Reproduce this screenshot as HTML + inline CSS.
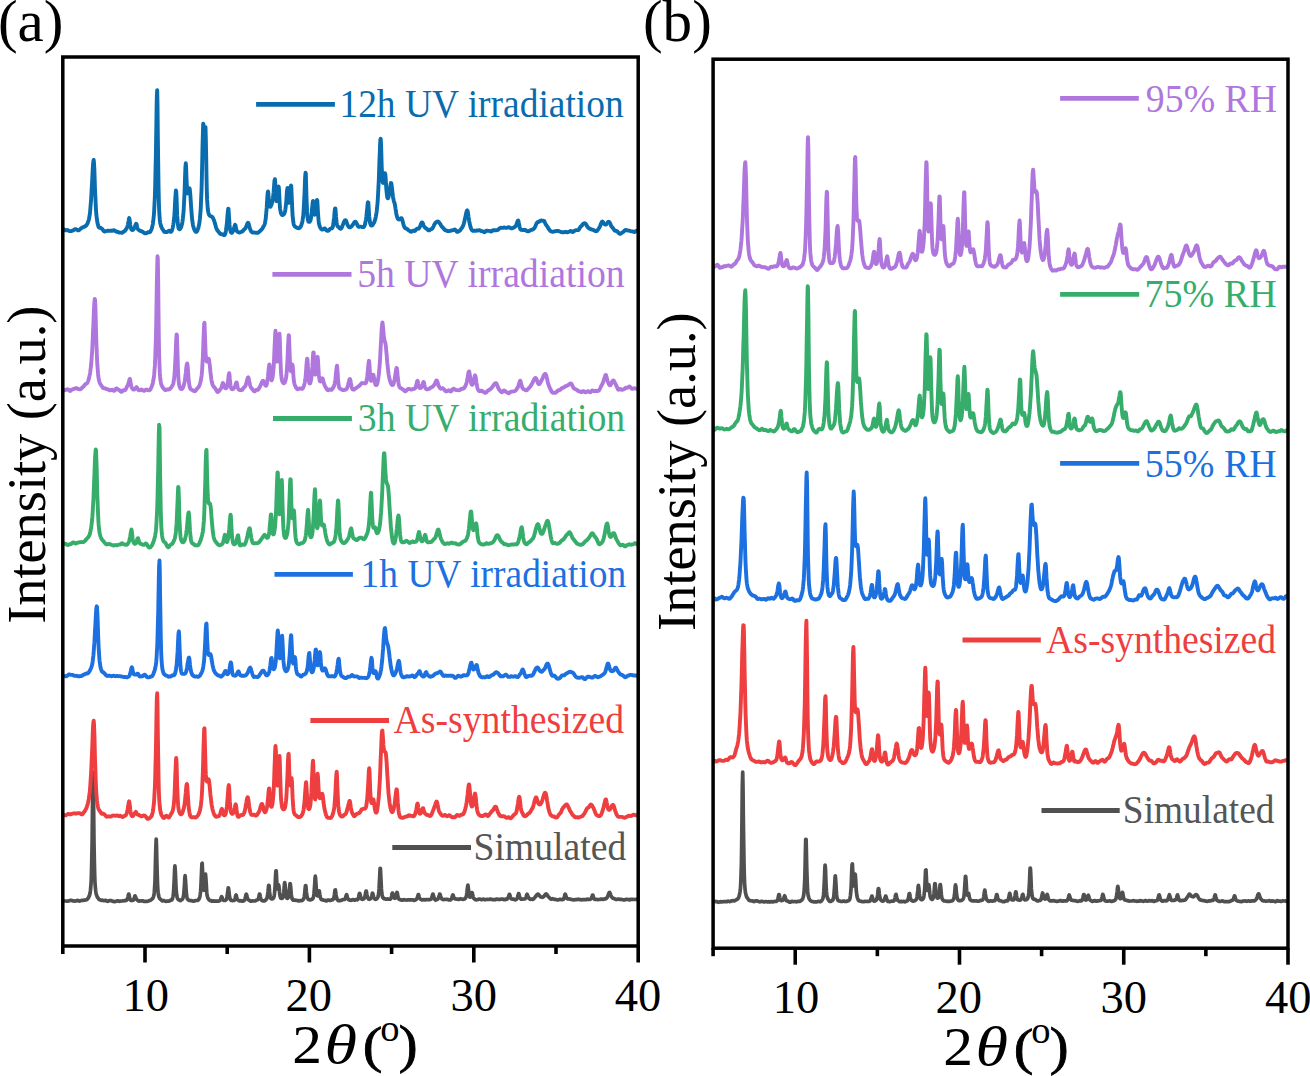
<!DOCTYPE html>
<html><head><meta charset="utf-8"><title>PXRD patterns: (a) UV irradiation, (b) relative humidity</title>
<style>html,body{margin:0;padding:0;background:#fff;overflow:hidden}svg{display:block}</style>
</head><body>
<svg width="1310" height="1076" viewBox="0 0 1310 1076" font-family="'Liberation Serif','Times New Roman',serif">
<rect width="1310" height="1076" fill="#fff"/>
<path d="M62.8,901.2 63.1,901.3 63.5,901.2 63.8,901.1 64.1,901.0 64.4,901.0 64.8,901.0 65.1,901.0 65.4,901.0 65.8,901.0 66.1,901.1 66.4,901.1 66.7,901.1 67.1,901.1 67.4,901.1 67.7,901.1 68.1,901.1 68.4,901.0 68.7,901.0 69.0,900.8 69.4,900.7 69.7,900.6 70.0,900.5 70.4,900.4 70.7,900.4 71.0,900.3 71.3,900.4 71.7,900.4 72.0,900.5 72.3,900.7 72.7,900.8 73.0,900.9 73.3,900.9 73.7,901.0 74.0,901.0 74.3,901.1 74.6,901.1 75.0,901.0 75.3,901.0 75.6,900.9 76.0,900.9 76.3,900.8 76.6,900.7 76.9,900.6 77.3,900.5 77.6,900.4 77.9,900.4 78.3,900.6 78.6,900.7 78.9,900.9 79.2,901.0 79.6,901.1 79.9,901.0 80.2,900.9 80.6,900.8 80.9,900.7 81.2,900.6 81.5,900.5 81.9,900.4 82.2,900.4 82.5,900.4 82.9,900.4 83.2,900.3 83.5,900.3 83.8,900.2 84.2,900.2 84.5,900.1 84.8,900.1 85.2,900.0 85.5,900.0 85.8,899.9 86.1,899.8 86.5,899.7 86.8,899.6 87.1,899.4 87.5,899.0 87.8,898.6 88.1,898.2 88.4,897.7 88.8,897.0 89.1,896.3 89.4,895.5 89.8,894.4 90.1,892.9 90.4,890.8 90.7,887.7 91.1,883.0 91.4,875.3 91.7,862.7 92.1,843.0 92.4,815.6 92.7,786.3 93.0,772.2 93.4,786.3 93.7,815.6 94.0,843.0 94.4,862.7 94.7,875.4 95.0,883.1 95.4,887.8 95.7,890.8 96.0,892.8 96.3,894.3 96.7,895.4 97.0,896.2 97.3,896.9 97.7,897.5 98.0,898.0 98.3,898.4 98.6,898.9 99.0,899.2 99.3,899.5 99.6,899.7 100.0,899.8 100.3,899.9 100.6,900.0 100.9,900.2 101.3,900.3 101.6,900.3 101.9,900.3 102.3,900.2 102.6,900.2 102.9,900.3 103.2,900.4 103.6,900.6 103.9,900.7 104.2,900.7 104.6,900.7 104.9,900.6 105.2,900.4 105.5,900.4 105.9,900.4 106.2,900.6 106.5,900.8 106.9,901.0 107.2,901.2 107.5,901.3 107.8,901.2 108.2,901.1 108.5,900.9 108.8,900.8 109.2,900.6 109.5,900.6 109.8,900.6 110.1,900.6 110.5,900.7 110.8,900.7 111.1,900.7 111.5,900.7 111.8,900.9 112.1,901.0 112.4,901.1 112.8,901.2 113.1,901.2 113.4,901.4 113.8,901.5 114.1,901.7 114.4,901.7 114.8,901.6 115.1,901.5 115.4,901.4 115.7,901.3 116.1,901.3 116.4,901.2 116.7,901.1 117.1,901.0 117.4,900.9 117.7,900.8 118.0,900.9 118.4,901.0 118.7,901.1 119.0,901.2 119.4,901.3 119.7,901.3 120.0,901.2 120.3,901.1 120.7,901.0 121.0,901.0 121.3,901.0 121.7,901.0 122.0,901.0 122.3,901.0 122.6,900.9 123.0,900.9 123.3,900.8 123.6,900.8 124.0,900.7 124.3,900.7 124.6,900.7 124.9,900.6 125.3,900.6 125.6,900.6 125.9,900.5 126.3,900.4 126.6,900.1 126.9,899.8 127.2,899.3 127.6,898.4 127.9,897.1 128.2,895.5 128.6,894.2 128.9,894.2 129.2,895.6 129.5,897.4 129.9,898.7 130.2,899.6 130.5,900.2 130.9,900.4 131.2,900.5 131.5,900.6 131.8,900.5 132.2,900.5 132.5,900.4 132.8,900.3 133.2,900.2 133.5,899.9 133.8,899.4 134.1,898.4 134.5,897.1 134.8,896.0 135.1,895.9 135.5,896.8 135.8,897.9 136.1,898.7 136.5,899.3 136.8,899.7 137.1,899.9 137.4,900.1 137.8,900.3 138.1,900.6 138.4,900.9 138.8,901.1 139.1,901.2 139.4,901.1 139.7,901.0 140.1,900.9 140.4,900.9 140.7,901.0 141.1,901.0 141.4,901.0 141.7,900.9 142.0,900.8 142.4,900.8 142.7,900.8 143.0,901.0 143.4,901.1 143.7,901.3 144.0,901.4 144.3,901.4 144.7,901.4 145.0,901.4 145.3,901.4 145.7,901.4 146.0,901.4 146.3,901.4 146.6,901.4 147.0,901.4 147.3,901.3 147.6,901.2 148.0,901.1 148.3,901.0 148.6,900.9 148.9,900.8 149.3,900.7 149.6,900.5 149.9,900.4 150.3,900.3 150.6,900.2 150.9,900.0 151.2,899.8 151.6,899.5 151.9,899.1 152.2,898.8 152.6,898.5 152.9,898.1 153.2,897.5 153.5,896.6 153.9,895.2 154.2,893.0 154.5,889.2 154.9,883.1 155.2,873.4 155.5,860.1 155.9,845.9 156.2,839.0 156.5,845.9 156.8,860.1 157.2,873.4 157.5,883.0 157.8,889.1 158.2,892.8 158.5,895.0 158.8,896.4 159.1,897.4 159.5,898.1 159.8,898.6 160.1,899.0 160.5,899.3 160.8,899.5 161.1,899.8 161.4,900.1 161.8,900.4 162.1,900.7 162.4,900.9 162.8,900.9 163.1,900.8 163.4,900.7 163.7,900.6 164.1,900.6 164.4,900.7 164.7,900.9 165.1,901.1 165.4,901.2 165.7,901.3 166.0,901.4 166.4,901.3 166.7,901.2 167.0,901.1 167.4,901.0 167.7,901.0 168.0,901.0 168.3,901.1 168.7,901.1 169.0,901.1 169.3,901.0 169.7,900.8 170.0,900.5 170.3,900.3 170.6,900.2 171.0,900.2 171.3,900.2 171.6,900.0 172.0,899.7 172.3,899.1 172.6,898.2 172.9,896.8 173.3,894.7 173.6,891.1 173.9,885.6 174.3,878.0 174.6,869.8 174.9,865.8 175.2,869.5 175.6,877.4 175.9,884.9 176.2,890.3 176.6,893.9 176.9,896.2 177.2,897.6 177.6,898.6 177.9,899.1 178.2,899.4 178.5,899.6 178.9,899.8 179.2,900.0 179.5,900.3 179.9,900.6 180.2,900.6 180.5,900.4 180.8,900.2 181.2,900.0 181.5,899.8 181.8,899.7 182.2,899.5 182.5,899.1 182.8,898.5 183.1,897.5 183.5,896.0 183.8,893.6 184.1,889.7 184.5,884.3 184.8,878.5 185.1,875.7 185.4,878.6 185.8,884.4 186.1,889.8 186.4,893.8 186.8,896.4 187.1,898.0 187.4,898.9 187.7,899.5 188.1,899.8 188.4,900.0 188.7,900.1 189.1,900.3 189.4,900.4 189.7,900.5 190.0,900.5 190.4,900.6 190.7,900.6 191.0,900.7 191.4,900.7 191.7,900.7 192.0,900.8 192.3,900.9 192.7,901.0 193.0,901.1 193.3,901.2 193.7,901.2 194.0,901.1 194.3,901.0 194.6,900.8 195.0,900.7 195.3,900.6 195.6,900.6 196.0,900.5 196.3,900.5 196.6,900.5 197.0,900.5 197.3,900.5 197.6,900.5 197.9,900.3 198.3,900.0 198.6,899.6 198.9,899.1 199.3,898.5 199.6,897.6 199.9,896.4 200.2,894.5 200.6,891.4 200.9,886.6 201.2,879.5 201.6,870.7 201.9,863.5 202.2,863.3 202.5,870.2 202.9,878.5 203.2,885.0 203.5,888.8 203.9,890.3 204.2,889.5 204.5,886.6 204.8,881.8 205.2,876.4 205.5,874.0 205.8,877.1 206.2,883.1 206.5,888.7 206.8,892.7 207.1,895.2 207.5,896.8 207.8,897.8 208.1,898.5 208.5,899.1 208.8,899.5 209.1,899.9 209.4,900.2 209.8,900.4 210.1,900.5 210.4,900.5 210.8,900.6 211.1,900.7 211.4,900.9 211.7,901.1 212.1,901.1 212.4,901.1 212.7,901.0 213.1,900.9 213.4,900.8 213.7,900.9 214.0,901.1 214.4,901.2 214.7,901.2 215.0,901.1 215.4,901.0 215.7,901.0 216.0,901.0 216.3,901.1 216.7,901.2 217.0,901.2 217.3,901.2 217.7,901.2 218.0,901.2 218.3,901.2 218.7,901.1 219.0,901.0 219.3,900.8 219.6,900.6 220.0,900.3 220.3,899.9 220.6,899.2 221.0,898.2 221.3,897.2 221.6,896.6 221.9,897.0 222.3,898.0 222.6,898.9 222.9,899.6 223.3,900.1 223.6,900.3 223.9,900.4 224.2,900.5 224.6,900.5 224.9,900.5 225.2,900.4 225.6,900.2 225.9,900.0 226.2,899.6 226.5,899.0 226.9,897.9 227.2,896.1 227.5,893.4 227.9,890.3 228.2,887.8 228.5,887.9 228.8,890.5 229.2,893.8 229.5,896.4 229.8,898.1 230.2,899.2 230.5,899.8 230.8,900.1 231.1,900.3 231.5,900.5 231.8,900.5 232.1,900.6 232.5,900.6 232.8,900.6 233.1,900.5 233.4,900.4 233.8,900.4 234.1,900.4 234.4,900.1 234.8,899.5 235.1,898.5 235.4,897.1 235.7,895.6 236.1,895.0 236.4,895.7 236.7,897.2 237.1,898.5 237.4,899.4 237.7,899.9 238.1,900.1 238.4,900.3 238.7,900.5 239.0,900.7 239.4,900.9 239.7,901.0 240.0,900.9 240.4,900.8 240.7,900.7 241.0,900.7 241.3,900.8 241.7,900.9 242.0,901.1 242.3,901.2 242.7,901.2 243.0,901.1 243.3,901.0 243.6,900.8 244.0,900.7 244.3,900.4 244.6,899.9 245.0,899.2 245.3,898.0 245.6,896.5 245.9,894.9 246.3,894.1 246.6,894.8 246.9,896.3 247.3,897.7 247.6,898.7 247.9,899.3 248.2,899.7 248.6,899.9 248.9,900.1 249.2,900.2 249.6,900.5 249.9,900.7 250.2,901.0 250.5,901.1 250.9,901.2 251.2,901.2 251.5,901.1 251.9,900.9 252.2,900.8 252.5,900.8 252.8,900.9 253.2,901.0 253.5,901.0 253.8,901.0 254.2,901.0 254.5,901.0 254.8,901.0 255.1,900.9 255.5,900.8 255.8,900.6 256.1,900.4 256.5,900.2 256.8,900.0 257.1,899.9 257.4,899.8 257.8,899.7 258.1,899.4 258.4,898.6 258.8,897.2 259.1,895.5 259.4,894.1 259.8,894.1 260.1,895.5 260.4,897.1 260.7,898.4 261.1,899.3 261.4,899.9 261.7,900.4 262.1,900.6 262.4,900.7 262.7,900.8 263.0,900.8 263.4,900.8 263.7,900.8 264.0,900.9 264.4,900.9 264.7,900.8 265.0,900.6 265.3,900.3 265.7,899.9 266.0,899.6 266.3,899.2 266.7,898.7 267.0,898.0 267.3,896.7 267.6,894.8 268.0,891.9 268.3,888.4 268.6,885.4 269.0,885.4 269.3,888.3 269.6,891.9 269.9,894.7 270.3,896.6 270.6,897.8 270.9,898.5 271.3,898.8 271.6,899.0 271.9,899.0 272.2,898.9 272.6,898.8 272.9,898.6 273.2,898.3 273.6,897.8 273.9,897.1 274.2,895.8 274.5,893.4 274.9,889.5 275.2,883.8 275.5,876.7 275.9,870.9 276.2,870.8 276.5,876.2 276.8,882.6 277.2,887.0 277.5,888.9 277.8,888.5 278.2,886.6 278.5,884.9 278.8,885.6 279.2,888.5 279.5,891.9 279.8,894.5 280.1,896.3 280.5,897.5 280.8,898.1 281.1,898.3 281.5,898.4 281.8,898.4 282.1,898.3 282.4,898.1 282.8,897.6 283.1,896.6 283.4,894.9 283.8,892.2 284.1,888.5 284.4,884.5 284.7,882.6 285.1,884.6 285.4,888.6 285.7,892.3 286.1,895.0 286.4,896.7 286.7,897.7 287.0,898.2 287.4,898.4 287.7,898.3 288.0,898.0 288.4,897.2 288.7,895.9 289.0,893.8 289.3,890.8 289.7,886.9 290.0,883.7 290.3,883.8 290.7,887.1 291.0,891.2 291.3,894.5 291.6,896.7 292.0,898.2 292.3,899.1 292.6,899.6 293.0,900.0 293.3,900.2 293.6,900.2 293.9,900.2 294.3,900.2 294.6,900.2 294.9,900.2 295.3,900.2 295.6,900.3 295.9,900.3 296.2,900.3 296.6,900.3 296.9,900.4 297.2,900.5 297.6,900.6 297.9,900.7 298.2,900.8 298.5,900.9 298.9,900.9 299.2,900.8 299.5,900.7 299.9,900.6 300.2,900.6 300.5,900.7 300.9,900.7 301.2,900.7 301.5,900.7 301.8,900.5 302.2,900.4 302.5,900.1 302.8,899.9 303.2,899.6 303.5,899.1 303.8,898.4 304.1,897.1 304.5,895.1 304.8,892.1 305.1,888.5 305.5,885.5 305.8,885.5 306.1,888.4 306.4,891.9 306.8,894.7 307.1,896.7 307.4,897.9 307.8,898.6 308.1,899.1 308.4,899.4 308.7,899.5 309.1,899.6 309.4,899.7 309.7,899.9 310.1,899.9 310.4,899.9 310.7,899.8 311.0,899.6 311.4,899.5 311.7,899.4 312.0,899.2 312.4,899.0 312.7,898.7 313.0,898.2 313.3,897.2 313.7,895.7 314.0,893.2 314.3,889.4 314.7,884.3 315.0,878.8 315.3,876.1 315.6,878.7 316.0,884.1 316.3,889.1 316.6,892.7 317.0,894.8 317.3,895.8 317.6,895.9 317.9,895.2 318.3,893.9 318.6,892.1 318.9,890.8 319.3,891.0 319.6,892.9 319.9,895.1 320.3,896.9 320.6,898.1 320.9,898.9 321.2,899.4 321.6,899.6 321.9,899.8 322.2,899.8 322.6,899.8 322.9,899.9 323.2,900.1 323.5,900.2 323.9,900.3 324.2,900.3 324.5,900.3 324.9,900.3 325.2,900.4 325.5,900.6 325.8,900.8 326.2,900.9 326.5,900.9 326.8,900.7 327.2,900.5 327.5,900.2 327.8,900.1 328.1,900.0 328.5,900.0 328.8,900.1 329.1,900.3 329.5,900.4 329.8,900.5 330.1,900.5 330.4,900.4 330.8,900.3 331.1,900.2 331.4,900.0 331.8,899.9 332.1,899.7 332.4,899.7 332.7,899.7 333.1,899.5 333.4,899.1 333.7,898.2 334.1,896.8 334.4,894.8 334.7,892.2 335.0,890.1 335.4,890.0 335.7,892.0 336.0,894.5 336.4,896.6 336.7,898.1 337.0,899.1 337.3,899.7 337.7,900.2 338.0,900.4 338.3,900.6 338.7,900.6 339.0,900.7 339.3,900.7 339.6,900.7 340.0,900.7 340.3,900.6 340.6,900.5 341.0,900.4 341.3,900.3 341.6,900.1 342.0,900.0 342.3,899.9 342.6,899.7 342.9,899.6 343.3,899.5 343.6,899.5 343.9,899.5 344.3,899.5 344.6,899.4 344.9,899.1 345.2,898.7 345.6,897.9 345.9,896.8 346.2,895.4 346.6,894.7 346.9,895.3 347.2,896.6 347.5,897.8 347.9,898.7 348.2,899.2 348.5,899.6 348.9,899.8 349.2,900.0 349.5,900.1 349.8,900.2 350.2,900.2 350.5,900.2 350.8,900.3 351.2,900.3 351.5,900.2 351.8,900.1 352.1,899.9 352.5,899.8 352.8,899.7 353.1,899.7 353.5,899.7 353.8,899.8 354.1,900.0 354.4,900.1 354.8,900.2 355.1,900.1 355.4,899.9 355.8,899.7 356.1,899.6 356.4,899.6 356.7,899.7 357.1,899.8 357.4,899.8 357.7,899.5 358.1,899.1 358.4,898.2 358.7,896.9 359.0,895.1 359.4,893.6 359.7,893.4 360.0,894.6 360.4,896.0 360.7,897.3 361.0,898.2 361.4,898.7 361.7,899.1 362.0,899.2 362.3,899.3 362.7,899.3 363.0,899.2 363.3,899.1 363.7,898.9 364.0,898.6 364.3,898.2 364.6,897.4 365.0,896.3 365.3,894.6 365.6,892.7 366.0,891.1 366.3,891.1 366.6,892.6 366.9,894.6 367.3,896.2 367.6,897.3 367.9,898.2 368.3,898.7 368.6,899.1 368.9,899.2 369.2,899.3 369.6,899.2 369.9,899.0 370.2,898.8 370.6,898.6 370.9,898.3 371.2,897.7 371.5,896.8 371.9,895.4 372.2,893.8 372.5,893.1 372.9,893.7 373.2,895.2 373.5,896.5 373.8,897.5 374.2,898.2 374.5,898.6 374.8,898.9 375.2,899.2 375.5,899.3 375.8,899.3 376.1,899.2 376.5,899.0 376.8,898.7 377.1,898.4 377.5,898.0 377.8,897.4 378.1,896.4 378.4,894.9 378.8,892.3 379.1,888.2 379.4,882.1 379.8,874.5 380.1,868.3 380.4,868.3 380.7,874.4 381.1,882.0 381.4,888.2 381.7,892.3 382.1,894.9 382.4,896.4 382.7,897.3 383.1,897.8 383.4,898.1 383.7,898.4 384.0,898.6 384.4,898.7 384.7,898.8 385.0,898.8 385.4,898.9 385.7,899.0 386.0,899.2 386.3,899.2 386.7,899.1 387.0,899.0 387.3,898.9 387.7,899.0 388.0,899.1 388.3,899.2 388.6,899.2 389.0,899.2 389.3,899.2 389.6,899.1 390.0,899.1 390.3,899.1 390.6,898.9 390.9,898.4 391.3,897.5 391.6,896.1 391.9,894.4 392.3,893.1 392.6,893.1 392.9,894.4 393.2,895.9 393.6,897.0 393.9,897.6 394.2,898.0 394.6,898.2 394.9,898.3 395.2,898.2 395.5,897.7 395.9,896.8 396.2,895.4 396.5,893.7 396.9,892.5 397.2,892.6 397.5,894.2 397.8,896.1 398.2,897.5 398.5,898.4 398.8,899.0 399.2,899.2 399.5,899.4 399.8,899.6 400.1,899.7 400.5,899.8 400.8,899.9 401.1,899.9 401.5,900.0 401.8,900.2 402.1,900.2 402.5,900.1 402.8,900.0 403.1,899.8 403.4,899.7 403.8,899.8 404.1,899.8 404.4,899.9 404.8,899.9 405.1,899.9 405.4,899.9 405.7,900.0 406.1,900.0 406.4,900.0 406.7,900.1 407.1,900.0 407.4,900.0 407.7,899.9 408.0,899.8 408.4,899.8 408.7,899.8 409.0,899.8 409.4,899.9 409.7,900.0 410.0,900.0 410.3,900.0 410.7,899.9 411.0,899.8 411.3,899.8 411.7,899.8 412.0,899.8 412.3,899.8 412.6,899.9 413.0,900.0 413.3,900.1 413.6,900.3 414.0,900.3 414.3,900.4 414.6,900.3 414.9,900.2 415.3,900.0 415.6,899.7 415.9,899.5 416.3,899.3 416.6,899.1 416.9,898.7 417.2,897.9 417.6,896.9 417.9,895.7 418.2,894.7 418.6,894.7 418.9,895.8 419.2,897.0 419.5,897.9 419.9,898.5 420.2,898.8 420.5,899.1 420.9,899.2 421.2,899.4 421.5,899.6 421.8,899.8 422.2,900.0 422.5,900.0 422.8,899.9 423.2,899.8 423.5,899.7 423.8,899.7 424.2,899.7 424.5,899.8 424.8,899.8 425.1,899.8 425.5,899.8 425.8,899.7 426.1,899.6 426.5,899.5 426.8,899.6 427.1,899.6 427.4,899.6 427.8,899.6 428.1,899.6 428.4,899.6 428.8,899.6 429.1,899.6 429.4,899.7 429.7,899.6 430.1,899.6 430.4,899.5 430.7,899.3 431.1,899.1 431.4,898.6 431.7,897.8 432.0,896.7 432.4,895.3 432.7,894.2 433.0,894.1 433.4,895.1 433.7,896.4 434.0,897.6 434.3,898.5 434.7,899.2 435.0,899.7 435.3,900.0 435.7,900.1 436.0,900.0 436.3,899.8 436.6,899.6 437.0,899.5 437.3,899.3 437.6,899.2 438.0,898.9 438.3,898.4 438.6,897.7 438.9,896.6 439.3,895.3 439.6,894.1 439.9,894.1 440.3,895.0 440.6,896.2 440.9,897.2 441.2,898.0 441.6,898.5 441.9,899.0 442.2,899.2 442.6,899.4 442.9,899.5 443.2,899.6 443.6,899.5 443.9,899.5 444.2,899.4 444.5,899.4 444.9,899.4 445.2,899.5 445.5,899.5 445.9,899.5 446.2,899.4 446.5,899.3 446.8,899.3 447.2,899.3 447.5,899.3 447.8,899.5 448.2,899.6 448.5,899.8 448.8,899.9 449.1,900.0 449.5,900.0 449.8,900.0 450.1,899.9 450.5,899.9 450.8,899.7 451.1,899.4 451.4,898.9 451.8,898.0 452.1,896.9 452.4,895.8 452.8,895.0 453.1,895.1 453.4,896.1 453.7,897.2 454.1,897.9 454.4,898.4 454.7,898.7 455.1,898.9 455.4,899.0 455.7,899.0 456.0,899.0 456.4,899.1 456.7,899.1 457.0,899.1 457.4,899.1 457.7,899.1 458.0,899.3 458.3,899.4 458.7,899.5 459.0,899.4 459.3,899.3 459.7,899.1 460.0,898.9 460.3,898.9 460.6,898.9 461.0,899.0 461.3,899.0 461.6,899.1 462.0,899.1 462.3,899.2 462.6,899.3 462.9,899.3 463.3,899.3 463.6,899.2 463.9,899.2 464.3,899.0 464.6,898.9 464.9,898.7 465.3,898.3 465.6,897.9 465.9,897.2 466.2,896.3 466.6,894.9 466.9,892.7 467.2,889.7 467.6,886.5 467.9,885.0 468.2,886.7 468.5,890.1 468.9,893.2 469.2,895.3 469.5,896.5 469.9,897.1 470.2,897.2 470.5,897.0 470.8,896.3 471.2,895.2 471.5,893.7 471.8,892.6 472.2,892.7 472.5,894.0 472.8,895.7 473.1,897.0 473.5,897.9 473.8,898.4 474.1,898.7 474.5,899.0 474.8,899.3 475.1,899.5 475.4,899.7 475.8,899.7 476.1,899.8 476.4,899.8 476.8,899.8 477.1,899.7 477.4,899.6 477.7,899.5 478.1,899.4 478.4,899.3 478.7,899.2 479.1,899.1 479.4,899.0 479.7,899.0 480.0,899.1 480.4,899.2 480.7,899.4 481.0,899.5 481.4,899.6 481.7,899.6 482.0,899.6 482.3,899.5 482.7,899.3 483.0,899.2 483.3,899.1 483.7,899.2 484.0,899.3 484.3,899.4 484.7,899.6 485.0,899.6 485.3,899.6 485.6,899.6 486.0,899.6 486.3,899.5 486.6,899.4 487.0,899.4 487.3,899.4 487.6,899.4 487.9,899.5 488.3,899.5 488.6,899.5 488.9,899.5 489.3,899.4 489.6,899.2 489.9,899.1 490.2,899.1 490.6,899.1 490.9,899.2 491.2,899.3 491.6,899.3 491.9,899.4 492.2,899.6 492.5,899.7 492.9,899.7 493.2,899.6 493.5,899.6 493.9,899.6 494.2,899.6 494.5,899.7 494.8,899.8 495.2,899.7 495.5,899.5 495.8,899.3 496.2,899.2 496.5,899.1 496.8,899.1 497.1,899.2 497.5,899.4 497.8,899.4 498.1,899.4 498.5,899.4 498.8,899.4 499.1,899.4 499.4,899.4 499.8,899.4 500.1,899.4 500.4,899.4 500.8,899.3 501.1,899.2 501.4,899.1 501.7,899.1 502.1,899.1 502.4,899.1 502.7,899.2 503.1,899.2 503.4,899.3 503.7,899.4 504.0,899.6 504.4,899.6 504.7,899.6 505.0,899.4 505.4,899.2 505.7,899.2 506.0,899.2 506.4,899.3 506.7,899.3 507.0,899.1 507.3,898.8 507.7,898.4 508.0,898.0 508.3,897.3 508.7,896.4 509.0,895.3 509.3,894.4 509.6,894.4 510.0,895.4 510.3,896.7 510.6,897.7 511.0,898.4 511.3,898.8 511.6,899.0 511.9,899.1 512.3,899.1 512.6,899.1 512.9,899.0 513.3,899.0 513.6,899.1 513.9,899.2 514.2,899.4 514.6,899.5 514.9,899.7 515.2,899.8 515.6,899.8 515.9,899.7 516.2,899.4 516.5,899.1 516.9,898.7 517.2,898.2 517.5,897.3 517.9,896.1 518.2,894.8 518.5,893.7 518.8,893.7 519.2,894.8 519.5,896.2 519.8,897.3 520.2,898.1 520.5,898.6 520.8,898.9 521.1,899.1 521.5,899.2 521.8,899.2 522.1,899.2 522.5,899.2 522.8,899.1 523.1,899.1 523.4,899.0 523.8,899.0 524.1,899.0 524.4,899.0 524.8,899.0 525.1,898.8 525.4,898.5 525.8,898.0 526.1,897.1 526.4,896.1 526.7,894.9 527.1,894.3 527.4,894.8 527.7,895.8 528.1,896.7 528.4,897.4 528.7,897.9 529.0,898.3 529.4,898.7 529.7,899.0 530.0,899.2 530.4,899.3 530.7,899.3 531.0,899.2 531.3,899.1 531.7,899.1 532.0,899.2 532.3,899.3 532.7,899.4 533.0,899.3 533.3,899.1 533.6,898.8 534.0,898.5 534.3,898.1 534.6,897.8 535.0,897.4 535.3,897.0 535.6,896.5 535.9,896.0 536.3,895.6 536.6,895.2 536.9,894.8 537.3,894.5 537.6,894.2 537.9,894.1 538.2,894.2 538.6,894.5 538.9,894.9 539.2,895.3 539.6,895.7 539.9,896.2 540.2,896.5 540.5,896.8 540.9,897.0 541.2,897.0 541.5,897.1 541.9,897.1 542.2,897.2 542.5,897.3 542.8,897.2 543.2,897.0 543.5,896.8 543.8,896.5 544.2,896.1 544.5,895.7 544.8,895.2 545.1,894.7 545.5,894.3 545.8,894.0 546.1,893.9 546.5,894.1 546.8,894.4 547.1,895.0 547.5,895.5 547.8,896.0 548.1,896.4 548.4,896.7 548.8,897.0 549.1,897.3 549.4,897.7 549.8,898.1 550.1,898.5 550.4,898.8 550.7,899.0 551.1,899.1 551.4,899.2 551.7,899.1 552.1,898.9 552.4,898.8 552.7,898.7 553.0,898.8 553.4,899.0 553.7,899.1 554.0,899.3 554.4,899.3 554.7,899.3 555.0,899.3 555.3,899.4 555.7,899.5 556.0,899.6 556.3,899.7 556.7,899.7 557.0,899.8 557.3,899.9 557.6,899.9 558.0,899.9 558.3,899.9 558.6,899.7 559.0,899.6 559.3,899.5 559.6,899.4 559.9,899.3 560.3,899.3 560.6,899.4 560.9,899.5 561.3,899.6 561.6,899.7 561.9,899.7 562.2,899.6 562.6,899.6 562.9,899.5 563.2,899.4 563.6,899.1 563.9,898.6 564.2,897.6 564.5,896.3 564.9,894.8 565.2,894.1 565.5,894.7 565.9,895.9 566.2,897.1 566.5,898.0 566.9,898.4 567.2,898.7 567.5,898.8 567.8,898.8 568.2,898.8 568.5,898.8 568.8,898.8 569.2,898.9 569.5,899.0 569.8,899.1 570.1,899.2 570.5,899.3 570.8,899.3 571.1,899.4 571.5,899.5 571.8,899.5 572.1,899.6 572.4,899.7 572.8,899.8 573.1,899.8 573.4,899.9 573.8,899.9 574.1,899.9 574.4,899.8 574.7,899.7 575.1,899.7 575.4,899.6 575.7,899.7 576.1,899.7 576.4,899.7 576.7,899.6 577.0,899.5 577.4,899.4 577.7,899.3 578.0,899.3 578.4,899.2 578.7,899.3 579.0,899.4 579.3,899.5 579.7,899.6 580.0,899.6 580.3,899.6 580.7,899.6 581.0,899.7 581.3,899.8 581.6,899.8 582.0,899.8 582.3,899.7 582.6,899.6 583.0,899.5 583.3,899.5 583.6,899.5 583.9,899.6 584.3,899.6 584.6,899.7 584.9,899.6 585.3,899.6 585.6,899.6 585.9,899.6 586.2,899.6 586.6,899.5 586.9,899.3 587.2,899.2 587.6,899.1 587.9,899.2 588.2,899.3 588.6,899.5 588.9,899.5 589.2,899.5 589.5,899.4 589.9,899.4 590.2,899.3 590.5,899.1 590.9,898.8 591.2,898.4 591.5,897.8 591.8,897.0 592.2,895.9 592.5,895.0 592.8,895.0 593.2,896.1 593.5,897.3 593.8,898.2 594.1,898.8 594.5,899.2 594.8,899.4 595.1,899.4 595.5,899.4 595.8,899.3 596.1,899.3 596.4,899.3 596.8,899.4 597.1,899.5 597.4,899.5 597.8,899.6 598.1,899.6 598.4,899.6 598.7,899.5 599.1,899.5 599.4,899.5 599.7,899.4 600.1,899.4 600.4,899.3 600.7,899.2 601.0,899.1 601.4,899.1 601.7,899.1 602.0,899.1 602.4,899.2 602.7,899.3 603.0,899.3 603.3,899.3 603.7,899.3 604.0,899.1 604.3,899.0 604.7,898.9 605.0,898.9 605.3,898.9 605.6,898.9 606.0,898.8 606.3,898.5 606.6,898.2 607.0,897.7 607.3,897.2 607.6,896.5 608.0,895.7 608.3,894.9 608.6,893.9 608.9,893.1 609.3,892.5 609.6,892.4 609.9,892.9 610.3,893.7 610.6,894.6 610.9,895.4 611.2,896.1 611.6,896.7 611.9,897.2 612.2,897.6 612.6,898.0 612.9,898.2 613.2,898.3 613.5,898.4 613.9,898.6 614.2,898.7 614.5,898.8 614.9,898.9 615.2,899.0 615.5,899.2 615.8,899.3 616.2,899.5 616.5,899.5 616.8,899.5 617.2,899.4 617.5,899.3 617.8,899.2 618.1,899.1 618.5,899.0 618.8,899.0 619.1,899.1 619.5,899.3 619.8,899.3 620.1,899.3 620.4,899.3 620.8,899.4 621.1,899.4 621.4,899.4 621.8,899.5 622.1,899.6 622.4,899.7 622.7,899.7 623.1,899.8 623.4,899.8 623.7,899.9 624.1,900.0 624.4,900.0 624.7,899.9 625.0,899.8 625.4,899.6 625.7,899.5 626.0,899.4 626.4,899.3 626.7,899.3 627.0,899.4 627.3,899.4 627.7,899.4 628.0,899.5 628.3,899.5 628.7,899.6 629.0,899.8 629.3,899.9 629.7,899.9 630.0,899.7 630.3,899.6 630.6,899.4 631.0,899.3 631.3,899.3 631.6,899.3 632.0,899.3 632.3,899.3 632.6,899.3 632.9,899.3 633.3,899.4 633.6,899.4 633.9,899.5 634.3,899.5 634.6,899.5 634.9,899.5 635.2,899.4 635.6,899.4 635.9,899.3 636.2,899.3 636.6,899.3 636.9,899.3 637.2,899.3 637.5,899.2 637.9,899.2 638.2,899.3" fill="none" stroke="#505050" stroke-width="3.7" stroke-linejoin="round"/>
<path d="M62.8,814.6 63.1,814.7 63.5,814.8 63.8,814.9 64.1,815.1 64.4,815.2 64.8,815.3 65.1,815.4 65.4,815.4 65.8,815.3 66.1,815.2 66.4,815.0 66.7,814.8 67.1,814.6 67.4,814.4 67.7,814.2 68.1,814.0 68.4,813.9 68.7,813.9 69.0,814.0 69.4,814.2 69.7,814.3 70.0,814.4 70.4,814.4 70.7,814.4 71.0,814.2 71.3,814.0 71.7,813.9 72.0,813.7 72.3,813.7 72.7,813.6 73.0,813.6 73.3,813.5 73.7,813.4 74.0,813.4 74.3,813.3 74.6,813.3 75.0,813.4 75.3,813.5 75.6,813.6 76.0,813.7 76.3,813.6 76.6,813.5 76.9,813.4 77.3,813.3 77.6,813.2 77.9,813.1 78.3,813.1 78.6,813.1 78.9,813.2 79.2,813.2 79.6,813.2 79.9,813.3 80.2,813.5 80.6,813.7 80.9,813.9 81.2,814.2 81.5,814.4 81.9,814.4 82.2,814.3 82.5,814.0 82.9,813.6 83.2,813.2 83.5,812.8 83.8,812.3 84.2,811.9 84.5,811.4 84.8,811.0 85.2,810.5 85.5,810.0 85.8,809.3 86.1,808.7 86.5,807.9 86.8,807.0 87.1,806.0 87.5,804.9 87.8,803.7 88.1,802.4 88.4,800.9 88.8,799.2 89.1,797.1 89.4,794.5 89.8,791.6 90.1,788.0 90.4,783.8 90.7,778.9 91.1,773.3 91.4,766.7 91.7,759.3 92.1,751.2 92.4,742.7 92.7,734.4 93.0,727.3 93.4,722.4 93.7,720.6 94.0,724.3 94.4,734.1 94.7,746.6 95.0,759.2 95.4,770.3 95.7,779.5 96.0,786.9 96.3,792.8 96.7,797.3 97.0,800.9 97.3,803.5 97.7,805.6 98.0,807.1 98.3,808.3 98.6,809.2 99.0,809.9 99.3,810.4 99.6,810.8 100.0,811.3 100.3,811.7 100.6,812.2 100.9,812.7 101.3,813.1 101.6,813.5 101.9,813.8 102.3,813.9 102.6,813.9 102.9,813.8 103.2,813.8 103.6,813.8 103.9,814.0 104.2,814.2 104.6,814.5 104.9,814.9 105.2,815.3 105.5,815.7 105.9,816.1 106.2,816.4 106.5,816.6 106.9,816.7 107.2,816.7 107.5,816.6 107.8,816.5 108.2,816.4 108.5,816.3 108.8,816.4 109.2,816.4 109.5,816.5 109.8,816.6 110.1,816.6 110.5,816.6 110.8,816.5 111.1,816.4 111.5,816.2 111.8,816.0 112.1,815.8 112.4,815.7 112.8,815.6 113.1,815.5 113.4,815.5 113.8,815.6 114.1,815.6 114.4,815.6 114.8,815.7 115.1,815.7 115.4,815.8 115.7,815.8 116.1,815.7 116.4,815.6 116.7,815.5 117.1,815.4 117.4,815.5 117.7,815.6 118.0,815.8 118.4,816.0 118.7,816.1 119.0,816.2 119.4,816.1 119.7,816.0 120.0,815.8 120.3,815.8 120.7,815.9 121.0,816.0 121.3,816.3 121.7,816.6 122.0,816.8 122.3,817.0 122.6,817.0 123.0,816.9 123.3,816.7 123.6,816.5 124.0,816.2 124.3,816.0 124.6,815.8 124.9,815.7 125.3,815.5 125.6,815.3 125.9,814.9 126.3,814.4 126.6,813.7 126.9,812.7 127.2,811.4 127.6,809.8 127.9,807.9 128.2,805.7 128.6,803.5 128.9,801.8 129.2,801.3 129.5,802.9 129.9,806.1 130.2,809.2 130.5,811.6 130.9,813.3 131.2,814.6 131.5,815.4 131.8,815.9 132.2,816.2 132.5,816.2 132.8,816.1 133.2,815.7 133.5,815.3 133.8,814.8 134.1,814.3 134.5,813.8 134.8,813.3 135.1,812.7 135.5,812.1 135.8,811.8 136.1,812.2 136.5,813.0 136.8,813.7 137.1,814.2 137.4,814.4 137.8,814.5 138.1,814.6 138.4,814.8 138.8,814.9 139.1,815.1 139.4,815.3 139.7,815.5 140.1,815.7 140.4,815.9 140.7,816.0 141.1,816.2 141.4,816.3 141.7,816.3 142.0,816.3 142.4,816.2 142.7,816.0 143.0,815.8 143.4,815.5 143.7,815.5 144.0,815.5 144.3,815.6 144.7,815.7 145.0,815.9 145.3,816.1 145.7,816.5 146.0,816.9 146.3,817.4 146.6,817.8 147.0,818.3 147.3,818.6 147.6,818.8 148.0,818.9 148.3,818.9 148.6,818.7 148.9,818.5 149.3,818.3 149.6,818.0 149.9,817.8 150.3,817.5 150.6,817.2 150.9,816.9 151.2,816.5 151.6,816.1 151.9,815.3 152.2,814.3 152.6,813.0 152.9,811.4 153.2,809.4 153.5,806.8 153.9,803.6 154.2,799.4 154.5,793.9 154.9,786.7 155.2,777.2 155.5,765.0 155.9,749.8 156.2,732.1 156.5,713.8 156.8,699.0 157.2,693.2 157.5,705.4 157.8,731.5 158.2,756.8 158.5,775.9 158.8,789.0 159.1,797.5 159.5,803.1 159.8,806.8 160.1,809.4 160.5,811.3 160.8,812.8 161.1,813.9 161.4,814.8 161.8,815.5 162.1,816.1 162.4,816.6 162.8,817.1 163.1,817.5 163.4,817.8 163.7,818.0 164.1,818.0 164.4,817.8 164.7,817.4 165.1,817.0 165.4,816.5 165.7,816.1 166.0,815.9 166.4,815.8 166.7,815.9 167.0,816.0 167.4,816.4 167.7,816.7 168.0,817.1 168.3,817.4 168.7,817.5 169.0,817.4 169.3,817.1 169.7,816.5 170.0,815.9 170.3,815.3 170.6,814.6 171.0,814.1 171.3,813.5 171.6,813.0 172.0,812.5 172.3,811.9 172.6,811.1 172.9,810.0 173.3,808.5 173.6,806.4 173.9,803.3 174.3,799.0 174.6,793.3 174.9,786.0 175.2,777.4 175.6,768.5 175.9,761.1 176.2,758.0 176.6,763.3 176.9,775.3 177.2,786.9 177.6,795.8 177.9,801.9 178.2,806.0 178.5,808.6 178.9,810.4 179.2,811.6 179.5,812.5 179.9,813.2 180.2,813.8 180.5,814.1 180.8,814.3 181.2,814.3 181.5,814.1 181.8,813.7 182.2,813.2 182.5,812.4 182.8,811.5 183.1,810.5 183.5,809.4 183.8,808.2 184.1,806.7 184.5,804.9 184.8,802.6 185.1,799.8 185.4,796.3 185.8,792.5 186.1,788.8 186.4,785.7 186.8,784.0 187.1,784.3 187.4,788.0 187.7,793.5 188.1,799.0 188.4,803.7 188.7,807.4 189.1,810.2 189.4,812.3 189.7,814.0 190.0,815.2 190.4,816.1 190.7,816.7 191.0,817.1 191.4,817.3 191.7,817.4 192.0,817.4 192.3,817.4 192.7,817.3 193.0,817.2 193.3,817.2 193.7,817.2 194.0,817.2 194.3,817.3 194.6,817.4 195.0,817.4 195.3,817.5 195.6,817.5 196.0,817.3 196.3,817.2 196.6,816.9 197.0,816.6 197.3,816.2 197.6,815.8 197.9,815.4 198.3,814.8 198.6,814.2 198.9,813.5 199.3,812.6 199.6,811.7 199.9,810.5 200.2,809.0 200.6,807.2 200.9,804.9 201.2,802.1 201.6,798.4 201.9,793.9 202.2,788.1 202.5,780.7 202.9,771.6 203.2,760.6 203.5,748.4 203.9,736.7 204.2,728.7 204.5,728.3 204.8,739.8 205.2,754.6 205.5,766.5 205.8,774.2 206.2,778.7 206.5,780.8 206.8,781.4 207.1,781.2 207.5,780.7 207.8,780.0 208.1,779.5 208.5,779.3 208.8,779.7 209.1,781.3 209.4,784.0 209.8,787.3 210.1,790.9 210.4,794.4 210.8,797.6 211.1,800.4 211.4,802.9 211.7,805.1 212.1,806.9 212.4,808.6 212.7,810.0 213.1,811.3 213.4,812.3 213.7,813.2 214.0,814.0 214.4,814.7 214.7,815.3 215.0,815.8 215.4,816.2 215.7,816.5 216.0,816.7 216.3,816.8 216.7,816.7 217.0,816.6 217.3,816.5 217.7,816.4 218.0,816.4 218.3,816.3 218.7,816.2 219.0,816.0 219.3,815.6 219.6,815.0 220.0,814.3 220.3,813.4 220.6,812.4 221.0,811.2 221.3,810.1 221.6,809.2 221.9,808.9 222.3,809.7 222.6,811.3 222.9,812.8 223.3,813.9 223.6,814.6 223.9,815.0 224.2,815.3 224.6,815.4 224.9,815.2 225.2,814.8 225.6,813.9 225.9,812.7 226.2,811.1 226.5,809.0 226.9,806.3 227.2,803.0 227.5,799.0 227.9,794.5 228.2,790.0 228.5,786.4 228.8,785.1 229.2,788.3 229.5,795.0 229.8,801.4 230.2,806.2 230.5,809.3 230.8,811.4 231.1,812.6 231.5,813.2 231.8,813.6 232.1,813.8 232.5,813.8 232.8,813.7 233.1,813.3 233.4,812.8 233.8,811.9 234.1,810.8 234.4,809.3 234.8,807.6 235.1,806.0 235.4,804.7 235.7,804.4 236.1,805.8 236.4,808.6 236.7,811.4 237.1,813.6 237.4,815.2 237.7,816.2 238.1,816.7 238.4,816.9 238.7,816.8 239.0,816.6 239.4,816.3 239.7,815.9 240.0,815.6 240.4,815.4 240.7,815.2 241.0,815.1 241.3,815.0 241.7,815.0 242.0,815.0 242.3,815.0 242.7,814.9 243.0,814.8 243.3,814.5 243.6,814.0 244.0,813.3 244.3,812.5 244.6,811.4 245.0,810.2 245.3,808.6 245.6,806.8 245.9,804.9 246.3,802.8 246.6,800.9 246.9,799.2 247.3,797.9 247.6,797.2 247.9,797.4 248.2,798.9 248.6,801.4 248.9,804.1 249.2,806.6 249.6,808.8 249.9,810.5 250.2,811.9 250.5,813.0 250.9,813.8 251.2,814.4 251.5,814.8 251.9,814.9 252.2,815.0 252.5,814.9 252.8,814.7 253.2,814.6 253.5,814.6 253.8,814.6 254.2,814.8 254.5,814.9 254.8,815.1 255.1,815.3 255.5,815.5 255.8,815.5 256.1,815.5 256.5,815.4 256.8,815.1 257.1,814.8 257.4,814.3 257.8,813.8 258.1,813.3 258.4,812.7 258.8,812.1 259.1,811.4 259.4,810.6 259.8,809.7 260.1,808.6 260.4,807.4 260.7,806.2 261.1,805.2 261.4,804.4 261.7,803.9 262.1,803.9 262.4,804.5 262.7,805.7 263.0,807.1 263.4,808.5 263.7,809.7 264.0,810.8 264.4,811.6 264.7,812.1 265.0,812.3 265.3,812.1 265.7,811.6 266.0,810.7 266.3,809.7 266.7,808.4 267.0,806.8 267.3,804.7 267.6,802.1 268.0,798.8 268.3,795.0 268.6,791.2 269.0,788.5 269.3,788.5 269.6,792.5 269.9,797.7 270.3,801.8 270.6,804.6 270.9,806.2 271.3,806.9 271.6,806.9 271.9,806.3 272.2,805.1 272.6,803.2 272.9,800.4 273.2,796.7 273.6,791.8 273.9,785.4 274.2,777.5 274.5,768.1 274.9,758.3 275.2,750.0 275.5,746.0 275.9,751.0 276.2,762.9 276.5,774.0 276.8,781.5 277.2,785.1 277.5,785.5 277.8,783.0 278.2,778.1 278.5,771.5 278.8,764.1 279.2,758.1 279.5,755.9 279.8,761.6 280.1,773.6 280.5,785.0 280.8,793.6 281.1,799.3 281.5,803.1 281.8,805.5 282.1,807.1 282.4,808.1 282.8,808.8 283.1,809.2 283.4,809.4 283.8,809.4 284.1,809.2 284.4,808.9 284.7,808.2 285.1,807.2 285.4,805.6 285.7,803.4 286.1,800.4 286.4,796.5 286.7,791.4 287.0,784.9 287.4,777.1 287.7,768.4 288.0,760.0 288.4,754.2 288.7,753.8 289.0,762.0 289.3,772.4 289.7,780.2 290.0,784.4 290.3,785.4 290.7,784.0 291.0,781.2 291.3,778.6 291.6,778.0 292.0,782.2 292.3,790.1 292.6,797.7 293.0,803.6 293.3,807.7 293.6,810.5 293.9,812.3 294.3,813.4 294.6,814.1 294.9,814.5 295.3,814.8 295.6,815.0 295.9,815.2 296.2,815.5 296.6,815.9 296.9,816.2 297.2,816.5 297.6,816.7 297.9,816.9 298.2,817.0 298.5,817.1 298.9,817.1 299.2,817.1 299.5,817.1 299.9,817.0 300.2,816.9 300.5,816.6 300.9,816.3 301.2,816.0 301.5,815.6 301.8,815.1 302.2,814.6 302.5,813.8 302.8,812.9 303.2,811.7 303.5,810.1 303.8,808.1 304.1,805.4 304.5,802.1 304.8,798.0 305.1,793.2 305.5,788.1 305.8,784.0 306.1,782.1 306.4,785.1 306.8,791.8 307.1,798.3 307.4,803.0 307.8,806.1 308.1,807.9 308.4,808.8 308.7,809.2 309.1,809.1 309.4,808.7 309.7,807.9 310.1,806.5 310.4,804.4 310.7,801.5 311.0,797.5 311.4,792.2 311.7,785.6 312.0,777.9 312.4,770.0 312.7,763.5 313.0,760.7 313.3,765.5 313.7,776.0 314.0,786.0 314.3,793.1 314.7,797.3 315.0,799.2 315.3,799.4 315.6,798.1 316.0,795.4 316.3,791.5 316.6,786.5 317.0,781.0 317.3,776.2 317.6,773.7 317.9,776.2 318.3,782.6 318.6,788.9 318.9,793.4 319.3,796.2 319.6,797.7 319.9,798.2 320.3,798.0 320.6,797.3 320.9,796.4 321.2,795.3 321.6,794.4 321.9,793.9 322.2,793.8 322.6,794.7 322.9,796.7 323.2,799.3 323.5,802.1 323.9,804.7 324.2,806.9 324.5,808.8 324.9,810.5 325.2,811.8 325.5,813.1 325.8,814.2 326.2,815.2 326.5,816.0 326.8,816.7 327.2,817.2 327.5,817.5 327.8,817.7 328.1,817.8 328.5,817.9 328.8,817.9 329.1,817.9 329.5,817.9 329.8,817.9 330.1,818.0 330.4,818.0 330.8,817.9 331.1,817.6 331.4,817.2 331.8,816.6 332.1,815.9 332.4,815.1 332.7,814.2 333.1,813.2 333.4,812.0 333.7,810.6 334.1,808.7 334.4,806.2 334.7,802.8 335.0,798.4 335.4,792.8 335.7,786.4 336.0,779.7 336.4,774.2 336.7,771.8 337.0,776.0 337.3,785.3 337.7,794.3 338.0,801.1 338.3,805.9 338.7,809.1 339.0,811.3 339.3,812.8 339.6,814.0 340.0,814.8 340.3,815.4 340.6,815.8 341.0,816.1 341.3,816.3 341.6,816.4 342.0,816.5 342.3,816.5 342.6,816.4 342.9,816.2 343.3,815.9 343.6,815.5 343.9,815.1 344.3,814.7 344.6,814.5 344.9,814.4 345.2,814.2 345.6,814.0 345.9,813.5 346.2,812.8 346.6,811.8 346.9,810.7 347.2,809.5 347.5,808.2 347.9,807.0 348.2,805.7 348.5,804.4 348.9,803.0 349.2,801.8 349.5,801.0 349.8,801.0 350.2,802.5 350.5,804.9 350.8,807.3 351.2,809.3 351.5,810.8 351.8,811.9 352.1,812.8 352.5,813.5 352.8,814.1 353.1,814.8 353.5,815.3 353.8,815.8 354.1,816.1 354.4,816.2 354.8,815.9 355.1,815.6 355.4,815.2 355.8,814.7 356.1,814.4 356.4,814.1 356.7,813.9 357.1,813.8 357.4,813.7 357.7,813.6 358.1,813.5 358.4,813.3 358.7,813.2 359.0,813.0 359.4,812.8 359.7,812.5 360.0,812.1 360.4,811.6 360.7,811.1 361.0,810.5 361.4,809.9 361.7,809.3 362.0,809.1 362.3,809.1 362.7,809.0 363.0,809.0 363.3,808.9 363.7,808.8 364.0,808.7 364.3,808.7 364.6,808.7 365.0,808.6 365.3,808.4 365.6,808.0 366.0,807.1 366.3,805.8 366.6,803.9 366.9,801.2 367.3,797.8 367.6,793.5 367.9,788.2 368.3,782.0 368.6,775.6 368.9,770.4 369.2,768.3 369.6,772.6 369.9,781.7 370.2,790.3 370.6,796.5 370.9,800.3 371.2,802.3 371.5,803.0 371.9,802.9 372.2,802.1 372.5,801.1 372.9,800.1 373.2,799.4 373.5,799.6 373.8,801.4 374.2,804.0 374.5,806.6 374.8,808.9 375.2,810.6 375.5,811.8 375.8,812.5 376.1,812.7 376.5,812.4 376.8,811.7 377.1,810.6 377.5,808.5 377.8,806.1 378.1,803.4 378.4,800.2 378.8,796.5 379.1,792.1 379.4,787.1 379.8,781.1 380.1,774.3 380.4,766.6 380.7,758.2 381.1,749.7 381.4,741.7 381.7,735.2 382.1,730.8 382.4,730.6 382.7,734.6 383.1,740.0 383.4,744.9 383.7,748.3 384.0,750.4 384.4,751.3 384.7,751.6 385.0,751.7 385.4,752.1 385.7,752.9 386.0,754.9 386.3,758.5 386.7,763.3 387.0,768.8 387.3,774.6 387.7,780.2 388.0,785.4 388.3,790.1 388.6,794.1 389.0,797.6 389.3,800.5 389.6,803.0 390.0,805.1 390.3,806.9 390.6,808.4 390.9,809.7 391.3,810.8 391.6,811.6 391.9,812.1 392.3,812.2 392.6,812.0 392.9,811.4 393.2,810.5 393.6,809.3 393.9,807.9 394.2,806.2 394.6,804.2 394.9,801.9 395.2,799.2 395.5,796.2 395.9,793.2 396.2,790.7 396.5,789.3 396.9,789.6 397.2,793.0 397.5,797.9 397.8,802.9 398.2,807.0 398.5,810.3 398.8,812.6 399.2,814.3 399.5,815.5 399.8,816.3 400.1,816.9 400.5,817.3 400.8,817.5 401.1,817.6 401.5,817.7 401.8,817.7 402.1,817.8 402.5,817.8 402.8,817.8 403.1,817.7 403.4,817.6 403.8,817.5 404.1,817.3 404.4,817.1 404.8,817.0 405.1,816.8 405.4,816.6 405.7,816.6 406.1,816.5 406.4,816.5 406.7,816.5 407.1,816.5 407.4,816.3 407.7,816.0 408.0,815.8 408.4,815.6 408.7,815.4 409.0,815.3 409.4,815.3 409.7,815.4 410.0,815.6 410.3,815.8 410.7,815.9 411.0,816.0 411.3,815.9 411.7,815.9 412.0,815.9 412.3,815.9 412.6,816.0 413.0,816.2 413.3,816.2 413.6,816.2 414.0,816.0 414.3,815.7 414.6,815.3 414.9,814.6 415.3,813.7 415.6,812.6 415.9,811.2 416.3,809.6 416.6,807.7 416.9,805.8 417.2,804.2 417.6,803.6 417.9,804.7 418.2,807.2 418.6,809.6 418.9,811.4 419.2,812.6 419.5,813.3 419.9,813.7 420.2,813.7 420.5,813.5 420.9,813.0 421.2,812.4 421.5,811.7 421.8,810.8 422.2,809.8 422.5,808.9 422.8,808.2 423.2,808.2 423.5,809.4 423.8,810.7 424.2,811.8 424.5,812.6 424.8,813.1 425.1,813.5 425.5,813.8 425.8,814.1 426.1,814.4 426.5,814.6 426.8,814.8 427.1,814.9 427.4,814.9 427.8,815.0 428.1,815.1 428.4,815.3 428.8,815.5 429.1,815.7 429.4,815.9 429.7,816.0 430.1,815.9 430.4,815.8 430.7,815.6 431.1,815.2 431.4,814.7 431.7,814.0 432.0,813.2 432.4,812.3 432.7,811.4 433.0,810.6 433.4,809.7 433.7,808.9 434.0,808.1 434.3,807.3 434.7,806.3 435.0,805.3 435.3,804.2 435.7,803.2 436.0,802.3 436.3,801.8 436.6,801.5 437.0,802.0 437.3,803.1 437.6,804.7 438.0,806.5 438.3,808.2 438.6,809.7 438.9,810.8 439.3,811.7 439.6,812.3 439.9,812.9 440.3,813.3 440.6,813.8 440.9,814.3 441.2,814.8 441.6,815.2 441.9,815.4 442.2,815.6 442.6,815.7 442.9,815.7 443.2,815.7 443.6,815.5 443.9,815.4 444.2,815.2 444.5,815.0 444.9,814.9 445.2,815.0 445.5,815.2 445.9,815.4 446.2,815.7 446.5,816.0 446.8,816.2 447.2,816.2 447.5,816.1 447.8,816.0 448.2,815.7 448.5,815.5 448.8,815.3 449.1,815.2 449.5,815.3 449.8,815.4 450.1,815.7 450.5,816.0 450.8,816.3 451.1,816.7 451.4,816.9 451.8,817.1 452.1,817.2 452.4,817.3 452.8,817.2 453.1,817.2 453.4,817.2 453.7,817.2 454.1,817.2 454.4,817.3 454.7,817.3 455.1,817.2 455.4,816.9 455.7,816.5 456.0,816.1 456.4,815.6 456.7,815.3 457.0,815.0 457.4,815.0 457.7,815.0 458.0,815.2 458.3,815.4 458.7,815.6 459.0,815.8 459.3,815.8 459.7,815.8 460.0,815.7 460.3,815.4 460.6,815.1 461.0,814.9 461.3,814.6 461.6,814.5 462.0,814.5 462.3,814.5 462.6,814.5 462.9,814.4 463.3,814.1 463.6,813.6 463.9,812.9 464.3,812.1 464.6,811.1 464.9,810.1 465.3,808.8 465.6,807.5 465.9,806.1 466.2,804.5 466.6,802.6 466.9,800.4 467.2,797.8 467.6,794.9 467.9,791.7 468.2,788.6 468.5,786.0 468.9,784.5 469.2,784.5 469.5,787.2 469.9,791.5 470.2,796.0 470.5,799.8 470.8,802.8 471.2,804.8 471.5,806.0 471.8,806.5 472.2,806.4 472.5,805.8 472.8,804.7 473.1,803.2 473.5,801.4 473.8,799.3 474.1,797.2 474.5,795.2 474.8,793.9 475.1,793.5 475.4,794.7 475.8,797.7 476.1,801.3 476.4,804.6 476.8,807.4 477.1,809.6 477.4,811.2 477.7,812.4 478.1,813.3 478.4,813.9 478.7,814.4 479.1,814.9 479.4,815.2 479.7,815.4 480.0,815.6 480.4,815.7 480.7,815.8 481.0,815.9 481.4,816.0 481.7,816.1 482.0,816.1 482.3,816.1 482.7,816.1 483.0,816.0 483.3,815.8 483.7,815.6 484.0,815.4 484.3,815.2 484.7,814.9 485.0,814.7 485.3,814.5 485.6,814.4 486.0,814.5 486.3,814.7 486.6,815.0 487.0,815.4 487.3,815.8 487.6,816.0 487.9,816.0 488.3,815.9 488.6,815.5 488.9,815.1 489.3,814.6 489.6,814.1 489.9,813.7 490.2,813.3 490.6,812.9 490.9,812.5 491.2,812.0 491.6,811.6 491.9,811.2 492.2,810.9 492.5,810.6 492.9,810.3 493.2,809.9 493.5,809.4 493.9,808.8 494.2,808.1 494.5,807.5 494.8,807.1 495.2,806.7 495.5,806.7 495.8,806.8 496.2,807.3 496.5,808.1 496.8,809.0 497.1,810.0 497.5,810.9 497.8,811.7 498.1,812.5 498.5,813.2 498.8,813.9 499.1,814.5 499.4,815.0 499.8,815.5 500.1,815.8 500.4,816.1 500.8,816.2 501.1,816.3 501.4,816.3 501.7,816.2 502.1,816.2 502.4,816.1 502.7,816.1 503.1,816.2 503.4,816.2 503.7,816.3 504.0,816.3 504.4,816.4 504.7,816.6 505.0,816.8 505.4,817.1 505.7,817.3 506.0,817.5 506.4,817.7 506.7,817.8 507.0,817.8 507.3,817.7 507.7,817.6 508.0,817.4 508.3,817.3 508.7,817.2 509.0,817.3 509.3,817.5 509.6,817.7 510.0,818.0 510.3,818.2 510.6,818.3 511.0,818.2 511.3,817.9 511.6,817.6 511.9,817.2 512.3,816.8 512.6,816.4 512.9,816.0 513.3,815.6 513.6,815.2 513.9,814.8 514.2,814.5 514.6,814.3 514.9,814.0 515.2,813.8 515.6,813.5 515.9,813.1 516.2,812.4 516.5,811.3 516.9,809.9 517.2,808.2 517.5,806.1 517.9,803.8 518.2,801.4 518.5,799.3 518.8,797.6 519.2,796.8 519.5,797.1 519.8,799.2 520.2,802.2 520.5,805.2 520.8,807.7 521.1,809.6 521.5,810.9 521.8,811.8 522.1,812.5 522.5,813.1 522.8,813.7 523.1,814.4 523.4,815.0 523.8,815.5 524.1,815.9 524.4,816.1 524.8,816.3 525.1,816.2 525.4,816.1 525.8,815.9 526.1,815.7 526.4,815.5 526.7,815.2 527.1,814.8 527.4,814.5 527.7,814.1 528.1,813.8 528.4,813.6 528.7,813.4 529.0,813.2 529.4,813.0 529.7,812.7 530.0,812.3 530.4,811.8 530.7,811.2 531.0,810.6 531.3,810.0 531.7,809.5 532.0,809.0 532.3,808.4 532.7,807.8 533.0,807.0 533.3,806.0 533.6,804.8 534.0,803.5 534.3,802.2 534.6,800.9 535.0,799.7 535.3,798.7 535.6,798.0 535.9,797.5 536.3,797.4 536.6,797.9 536.9,798.8 537.3,799.9 537.6,801.1 537.9,802.2 538.2,803.0 538.6,803.7 538.9,804.1 539.2,804.3 539.6,804.5 539.9,804.5 540.2,804.3 540.5,804.1 540.9,803.7 541.2,803.1 541.5,802.4 541.9,801.6 542.2,800.7 542.5,799.7 542.8,798.6 543.2,797.5 543.5,796.4 543.8,795.3 544.2,794.2 544.5,793.4 544.8,792.9 545.1,792.7 545.5,792.9 545.8,793.6 546.1,795.0 546.5,796.7 546.8,798.7 547.1,800.8 547.5,802.8 547.8,804.8 548.1,806.7 548.4,808.3 548.8,809.8 549.1,811.0 549.4,812.1 549.8,813.1 550.1,813.9 550.4,814.5 550.7,815.0 551.1,815.3 551.4,815.6 551.7,815.8 552.1,816.0 552.4,816.2 552.7,816.3 553.0,816.4 553.4,816.5 553.7,816.5 554.0,816.5 554.4,816.6 554.7,816.8 555.0,817.0 555.3,817.3 555.7,817.5 556.0,817.6 556.3,817.6 556.7,817.5 557.0,817.3 557.3,817.0 557.6,816.6 558.0,816.1 558.3,815.6 558.6,815.0 559.0,814.6 559.3,814.2 559.6,813.8 559.9,813.6 560.3,813.2 560.6,812.8 560.9,812.2 561.3,811.5 561.6,810.7 561.9,809.8 562.2,809.1 562.6,808.5 562.9,808.0 563.2,807.6 563.6,807.3 563.9,806.9 564.2,806.5 564.5,806.1 564.9,805.8 565.2,805.4 565.5,805.0 565.9,804.7 566.2,804.5 566.5,804.4 566.9,804.5 567.2,804.8 567.5,805.3 567.8,805.9 568.2,806.6 568.5,807.3 568.8,808.1 569.2,808.8 569.5,809.6 569.8,810.3 570.1,810.9 570.5,811.5 570.8,812.0 571.1,812.5 571.5,813.0 571.8,813.6 572.1,814.2 572.4,814.6 572.8,815.0 573.1,815.4 573.4,815.6 573.8,815.9 574.1,816.3 574.4,816.6 574.7,816.9 575.1,817.2 575.4,817.3 575.7,817.4 576.1,817.3 576.4,817.3 576.7,817.3 577.0,817.3 577.4,817.3 577.7,817.4 578.0,817.5 578.4,817.5 578.7,817.5 579.0,817.4 579.3,817.3 579.7,817.1 580.0,817.0 580.3,816.8 580.7,816.7 581.0,816.6 581.3,816.5 581.6,816.4 582.0,816.3 582.3,816.0 582.6,815.8 583.0,815.4 583.3,815.0 583.6,814.6 583.9,814.1 584.3,813.7 584.6,813.2 584.9,812.6 585.3,812.0 585.6,811.4 585.9,810.6 586.2,809.9 586.6,809.2 586.9,808.7 587.2,808.2 587.6,808.0 587.9,807.8 588.2,807.6 588.6,807.4 588.9,807.1 589.2,806.6 589.5,806.1 589.9,805.5 590.2,805.1 590.5,804.7 590.9,804.5 591.2,804.6 591.5,804.8 591.8,805.2 592.2,805.8 592.5,806.4 592.8,806.9 593.2,807.5 593.5,808.1 593.8,808.7 594.1,809.5 594.5,810.4 594.8,811.3 595.1,812.3 595.5,813.1 595.8,813.8 596.1,814.4 596.4,814.8 596.8,815.1 597.1,815.3 597.4,815.5 597.8,815.7 598.1,815.8 598.4,815.9 598.7,816.1 599.1,816.1 599.4,816.1 599.7,816.0 600.1,815.9 600.4,815.6 600.7,815.2 601.0,814.7 601.4,814.0 601.7,813.2 602.0,812.3 602.4,811.4 602.7,810.3 603.0,809.2 603.3,808.0 603.7,806.7 604.0,805.3 604.3,803.9 604.7,802.4 605.0,801.1 605.3,800.1 605.6,799.4 606.0,799.5 606.3,800.6 606.6,802.3 607.0,804.2 607.3,805.9 607.6,807.3 608.0,808.5 608.3,809.3 608.6,809.7 608.9,809.9 609.3,809.9 609.6,809.7 609.9,809.4 610.3,809.0 610.6,808.5 610.9,807.8 611.2,807.0 611.6,806.3 611.9,805.7 612.2,805.3 612.6,805.0 612.9,804.9 613.2,805.0 613.5,805.4 613.9,806.2 614.2,807.2 614.5,808.4 614.9,809.6 615.2,810.7 615.5,811.7 615.8,812.6 616.2,813.5 616.5,814.2 616.8,814.9 617.2,815.5 617.5,816.0 617.8,816.4 618.1,816.6 618.5,816.8 618.8,816.9 619.1,816.9 619.5,816.9 619.8,816.9 620.1,816.9 620.4,816.9 620.8,816.9 621.1,816.9 621.4,816.9 621.8,816.9 622.1,817.0 622.4,817.0 622.7,817.2 623.1,817.3 623.4,817.4 623.7,817.6 624.1,817.7 624.4,817.7 624.7,817.7 625.0,817.6 625.4,817.5 625.7,817.3 626.0,817.1 626.4,816.9 626.7,816.8 627.0,816.6 627.3,816.5 627.7,816.3 628.0,816.1 628.3,815.9 628.7,815.7 629.0,815.7 629.3,815.7 629.7,815.8 630.0,815.9 630.3,816.0 630.6,816.0 631.0,816.0 631.3,815.9 631.6,815.7 632.0,815.5 632.3,815.3 632.6,815.1 632.9,814.9 633.3,814.8 633.6,814.7 633.9,814.7 634.3,814.8 634.6,814.9 634.9,815.0 635.2,815.1 635.6,815.2 635.9,815.3 636.2,815.3 636.6,815.4 636.9,815.5 637.2,815.6 637.5,815.7 637.9,815.8 638.2,815.7" fill="none" stroke="#ee3e3f" stroke-width="3.9" stroke-linejoin="round"/>
<path d="M62.8,676.2 63.1,676.1 63.5,676.0 63.8,675.9 64.1,675.9 64.4,676.0 64.8,676.1 65.1,676.2 65.4,676.3 65.8,676.3 66.1,676.3 66.4,676.2 66.7,676.1 67.1,675.9 67.4,675.6 67.7,675.3 68.1,675.0 68.4,674.7 68.7,674.5 69.0,674.4 69.4,674.4 69.7,674.5 70.0,674.7 70.4,674.8 70.7,674.9 71.0,674.9 71.3,674.9 71.7,674.9 72.0,674.9 72.3,674.9 72.7,675.0 73.0,675.1 73.3,675.2 73.7,675.4 74.0,675.6 74.3,675.7 74.6,675.9 75.0,675.9 75.3,675.9 75.6,675.9 76.0,675.9 76.3,675.8 76.6,675.8 76.9,675.9 77.3,676.0 77.6,676.1 77.9,676.2 78.3,676.2 78.6,676.3 78.9,676.3 79.2,676.3 79.6,676.2 79.9,676.2 80.2,676.1 80.6,676.1 80.9,676.1 81.2,676.1 81.5,676.0 81.9,675.8 82.2,675.6 82.5,675.3 82.9,675.0 83.2,674.8 83.5,674.7 83.8,674.6 84.2,674.5 84.5,674.4 84.8,674.2 85.2,674.0 85.5,673.8 85.8,673.7 86.1,673.6 86.5,673.5 86.8,673.5 87.1,673.5 87.5,673.4 87.8,673.3 88.1,673.0 88.4,672.7 88.8,672.3 89.1,671.8 89.4,671.3 89.8,670.7 90.1,670.1 90.4,669.4 90.7,668.8 91.1,668.0 91.4,667.2 91.7,666.1 92.1,664.9 92.4,663.2 92.7,661.2 93.0,658.6 93.4,655.5 93.7,651.8 94.0,647.4 94.4,642.4 94.7,636.8 95.0,630.7 95.4,624.5 95.7,618.3 96.0,612.8 96.3,608.6 96.7,606.3 97.0,606.9 97.3,612.3 97.7,621.0 98.0,630.5 98.3,639.3 98.6,646.8 99.0,652.8 99.3,657.5 99.6,661.0 100.0,663.8 100.3,665.9 100.6,667.5 100.9,668.8 101.3,669.9 101.6,670.7 101.9,671.3 102.3,671.7 102.6,672.0 102.9,672.1 103.2,672.3 103.6,672.5 103.9,672.8 104.2,673.2 104.6,673.5 104.9,673.9 105.2,674.3 105.5,674.7 105.9,675.1 106.2,675.4 106.5,675.6 106.9,675.8 107.2,675.9 107.5,676.0 107.8,675.9 108.2,675.8 108.5,675.8 108.8,675.7 109.2,675.6 109.5,675.6 109.8,675.7 110.1,675.7 110.5,675.9 110.8,676.0 111.1,676.2 111.5,676.2 111.8,676.2 112.1,676.1 112.4,676.0 112.8,675.9 113.1,675.8 113.4,675.8 113.8,675.8 114.1,675.8 114.4,675.9 114.8,676.0 115.1,676.1 115.4,676.2 115.7,676.2 116.1,676.1 116.4,676.0 116.7,676.0 117.1,675.9 117.4,676.0 117.7,676.0 118.0,676.1 118.4,676.1 118.7,676.2 119.0,676.1 119.4,676.1 119.7,676.1 120.0,676.1 120.3,676.2 120.7,676.3 121.0,676.4 121.3,676.5 121.7,676.5 122.0,676.6 122.3,676.6 122.6,676.7 123.0,676.8 123.3,676.9 123.6,677.0 124.0,677.0 124.3,677.0 124.6,677.0 124.9,677.0 125.3,677.0 125.6,677.0 125.9,677.1 126.3,677.2 126.6,677.3 126.9,677.3 127.2,677.3 127.6,677.1 127.9,677.0 128.2,676.8 128.6,676.7 128.9,676.4 129.2,676.1 129.5,675.5 129.9,674.7 130.2,673.6 130.5,672.2 130.9,670.7 131.2,669.1 131.5,667.9 131.8,667.3 132.2,668.0 132.5,669.7 132.8,671.4 133.2,672.6 133.5,673.5 133.8,674.0 134.1,674.3 134.5,674.5 134.8,674.5 135.1,674.6 135.5,674.6 135.8,674.6 136.1,674.6 136.5,674.5 136.8,674.3 137.1,674.0 137.4,673.7 137.8,673.6 138.1,673.8 138.4,674.4 138.8,675.1 139.1,675.7 139.4,676.2 139.7,676.4 140.1,676.5 140.4,676.5 140.7,676.4 141.1,676.3 141.4,676.2 141.7,676.2 142.0,676.2 142.4,676.2 142.7,676.1 143.0,675.9 143.4,675.6 143.7,675.3 144.0,675.0 144.3,674.7 144.7,674.7 145.0,674.8 145.3,675.1 145.7,675.5 146.0,675.9 146.3,676.3 146.6,676.6 147.0,676.9 147.3,677.1 147.6,677.3 148.0,677.4 148.3,677.4 148.6,677.4 148.9,677.3 149.3,677.2 149.6,677.1 149.9,676.9 150.3,676.7 150.6,676.6 150.9,676.5 151.2,676.5 151.6,676.4 151.9,676.3 152.2,676.0 152.6,675.6 152.9,675.1 153.2,674.4 153.5,673.5 153.9,672.6 154.2,671.7 154.5,670.7 154.9,669.6 155.2,668.3 155.5,666.7 155.9,664.7 156.2,662.0 156.5,658.3 156.8,653.4 157.2,646.7 157.5,637.9 157.8,626.6 158.2,612.6 158.5,596.4 158.8,579.5 159.1,565.9 159.5,560.5 159.8,571.9 160.1,596.2 160.5,619.9 160.8,637.7 161.1,650.0 161.4,658.0 161.8,663.2 162.1,666.6 162.4,669.0 162.8,670.7 163.1,671.9 163.4,672.8 163.7,673.5 164.1,674.0 164.4,674.4 164.7,674.7 165.1,675.0 165.4,675.2 165.7,675.3 166.0,675.4 166.4,675.5 166.7,675.6 167.0,675.8 167.4,676.0 167.7,676.2 168.0,676.4 168.3,676.6 168.7,676.7 169.0,676.7 169.3,676.6 169.7,676.5 170.0,676.5 170.3,676.5 170.6,676.5 171.0,676.3 171.3,676.2 171.6,675.9 172.0,675.6 172.3,675.4 172.6,675.3 172.9,675.3 173.3,675.3 173.6,675.3 173.9,675.3 174.3,675.1 174.6,674.6 174.9,673.9 175.2,672.9 175.6,671.6 175.9,669.9 176.2,667.8 176.6,665.1 176.9,661.7 177.2,657.2 177.6,651.7 177.9,645.2 178.2,638.6 178.5,633.3 178.9,631.3 179.2,635.8 179.5,645.4 179.9,654.6 180.2,661.7 180.5,666.5 180.8,669.7 181.2,671.6 181.5,672.8 181.8,673.4 182.2,673.7 182.5,673.8 182.8,673.8 183.1,673.8 183.5,673.9 183.8,673.9 184.1,673.9 184.5,673.8 184.8,673.7 185.1,673.5 185.4,673.1 185.8,672.5 186.1,671.7 186.4,670.5 186.8,669.0 187.1,667.2 187.4,665.1 187.7,663.0 188.1,660.9 188.4,659.1 188.7,657.9 189.1,657.6 189.4,658.9 189.7,661.8 190.0,665.0 190.4,667.7 190.7,669.9 191.0,671.5 191.4,672.6 191.7,673.5 192.0,674.2 192.3,674.8 192.7,675.2 193.0,675.6 193.3,675.8 193.7,676.0 194.0,676.2 194.3,676.3 194.6,676.5 195.0,676.5 195.3,676.6 195.6,676.5 196.0,676.5 196.3,676.5 196.6,676.5 197.0,676.6 197.3,676.7 197.6,676.7 197.9,676.7 198.3,676.7 198.6,676.6 198.9,676.4 199.3,676.2 199.6,675.9 199.9,675.6 200.2,675.1 200.6,674.5 200.9,673.9 201.2,673.3 201.6,672.6 201.9,671.9 202.2,671.1 202.5,670.1 202.9,668.8 203.2,667.1 203.5,665.0 203.9,662.3 204.2,658.8 204.5,654.4 204.8,649.0 205.2,642.4 205.5,635.2 205.8,628.4 206.2,623.8 206.5,623.6 206.8,630.4 207.1,639.1 207.5,646.1 207.8,650.7 208.1,653.3 208.5,654.6 208.8,655.0 209.1,654.9 209.4,654.5 209.8,654.2 210.1,654.1 210.4,654.2 210.8,654.9 211.1,656.3 211.4,658.1 211.7,660.2 212.1,662.3 212.4,664.2 212.7,666.0 213.1,667.4 213.4,668.7 213.7,669.7 214.0,670.6 214.4,671.4 214.7,672.0 215.0,672.6 215.4,673.0 215.7,673.4 216.0,673.7 216.3,674.0 216.7,674.3 217.0,674.6 217.3,674.9 217.7,675.1 218.0,675.3 218.3,675.4 218.7,675.5 219.0,675.6 219.3,675.7 219.6,675.9 220.0,676.2 220.3,676.4 220.6,676.5 221.0,676.6 221.3,676.6 221.6,676.4 221.9,676.1 222.3,675.7 222.6,675.4 222.9,675.0 223.3,674.6 223.6,674.2 223.9,673.7 224.2,673.0 224.6,672.3 224.9,671.6 225.2,671.1 225.6,671.0 225.9,671.8 226.2,672.7 226.5,673.4 226.9,673.9 227.2,674.1 227.5,674.2 227.9,674.0 228.2,673.6 228.5,673.0 228.8,672.0 229.2,670.7 229.5,669.1 229.8,667.3 230.2,665.2 230.5,663.4 230.8,662.4 231.1,662.9 231.5,665.6 231.8,668.9 232.1,671.6 232.5,673.4 232.8,674.5 233.1,675.1 233.4,675.3 233.8,675.4 234.1,675.5 234.4,675.6 234.8,675.7 235.1,675.7 235.4,675.7 235.7,675.5 236.1,675.2 236.4,674.8 236.7,674.3 237.1,673.7 237.4,673.0 237.7,672.3 238.1,671.7 238.4,671.4 238.7,671.7 239.0,672.6 239.4,673.5 239.7,674.2 240.0,674.8 240.4,675.2 240.7,675.5 241.0,675.6 241.3,675.7 241.7,675.8 242.0,675.8 242.3,675.8 242.7,675.8 243.0,675.8 243.3,675.8 243.6,675.8 244.0,675.8 244.3,675.8 244.6,675.7 245.0,675.6 245.3,675.5 245.6,675.3 245.9,675.1 246.3,674.8 246.6,674.5 246.9,674.0 247.3,673.5 247.6,672.9 247.9,672.2 248.2,671.4 248.6,670.6 248.9,669.8 249.2,669.0 249.6,668.3 249.9,667.8 250.2,667.6 250.5,668.0 250.9,668.8 251.2,669.9 251.5,671.0 251.9,672.2 252.2,673.3 252.5,674.3 252.8,675.2 253.2,676.0 253.5,676.6 253.8,676.9 254.2,677.0 254.5,677.0 254.8,676.9 255.1,676.8 255.5,676.8 255.8,676.8 256.1,676.9 256.5,676.9 256.8,677.0 257.1,677.1 257.4,677.1 257.8,677.0 258.1,676.9 258.4,676.6 258.8,676.3 259.1,675.8 259.4,675.3 259.8,674.8 260.1,674.3 260.4,673.8 260.7,673.3 261.1,672.8 261.4,672.3 261.7,671.7 262.1,671.3 262.4,670.9 262.7,670.7 263.0,670.7 263.4,670.7 263.7,670.9 264.0,671.4 264.4,671.9 264.7,672.5 265.0,673.1 265.3,673.7 265.7,674.3 266.0,674.9 266.3,675.2 266.7,675.4 267.0,675.4 267.3,675.2 267.6,674.9 268.0,674.5 268.3,674.0 268.6,673.4 269.0,672.5 269.3,671.4 269.6,669.8 269.9,667.8 270.3,665.3 270.6,662.6 270.9,659.9 271.3,658.1 271.6,658.0 271.9,660.5 272.2,663.8 272.6,666.3 272.9,668.0 273.2,668.9 273.6,669.2 273.9,669.2 274.2,668.9 274.5,668.3 274.9,667.2 275.2,665.6 275.5,663.3 275.9,660.1 276.2,655.9 276.5,650.6 276.8,644.5 277.2,638.1 277.5,632.8 277.8,630.4 278.2,633.9 278.5,641.9 278.8,649.4 279.2,654.6 279.5,657.5 279.8,658.3 280.1,657.6 280.5,655.3 280.8,651.8 281.1,647.1 281.5,641.9 281.8,637.5 282.1,635.7 282.4,639.3 282.8,647.2 283.1,654.7 283.4,660.4 283.8,664.1 284.1,666.5 284.4,668.1 284.7,669.2 285.1,670.0 285.4,670.6 285.7,671.0 286.1,671.2 286.4,671.2 286.7,671.0 287.0,670.6 287.4,670.1 287.7,669.3 288.0,668.3 288.4,666.8 288.7,664.9 289.0,662.3 289.3,658.9 289.7,654.6 290.0,649.5 290.3,643.8 290.7,638.5 291.0,635.2 291.3,635.8 291.6,642.5 292.0,650.7 292.3,657.1 292.6,661.2 293.0,663.1 293.3,663.5 293.6,662.7 293.9,661.2 294.3,659.2 294.6,657.6 294.9,657.1 295.3,659.2 295.6,663.2 295.9,667.0 296.2,669.8 296.6,671.7 296.9,672.9 297.2,673.7 297.6,674.2 297.9,674.5 298.2,674.7 298.5,674.8 298.9,674.9 299.2,675.1 299.5,675.3 299.9,675.6 300.2,675.9 300.5,676.3 300.9,676.5 301.2,676.6 301.5,676.4 301.8,676.1 302.2,675.7 302.5,675.3 302.8,675.0 303.2,674.8 303.5,674.6 303.8,674.5 304.1,674.5 304.5,674.4 304.8,674.2 305.1,674.0 305.5,673.7 305.8,673.2 306.1,672.7 306.4,672.0 306.8,671.2 307.1,670.0 307.4,668.3 307.8,665.9 308.1,662.8 308.4,659.2 308.7,655.6 309.1,653.2 309.4,653.1 309.7,656.8 310.1,661.7 310.4,665.6 310.7,668.4 311.0,670.3 311.4,671.4 311.7,672.0 312.0,672.3 312.4,672.2 312.7,671.8 313.0,671.0 313.3,669.8 313.7,668.2 314.0,666.0 314.3,663.3 314.7,659.9 315.0,656.0 315.3,652.3 315.6,649.7 316.0,649.6 316.3,653.4 316.6,658.2 317.0,662.0 317.3,664.4 317.6,665.3 317.9,665.2 318.3,664.0 318.6,661.9 318.9,659.1 319.3,656.0 319.6,653.3 319.9,652.1 320.3,653.9 320.6,658.3 320.9,662.5 321.2,665.7 321.6,667.9 321.9,669.3 322.2,670.1 322.6,670.5 322.9,670.5 323.2,670.2 323.5,669.7 323.9,669.2 324.2,668.7 324.5,668.4 324.9,668.3 325.2,668.5 325.5,669.0 325.8,670.0 326.2,671.1 326.5,672.3 326.8,673.4 327.2,674.3 327.5,675.1 327.8,675.6 328.1,676.0 328.5,676.2 328.8,676.3 329.1,676.3 329.5,676.3 329.8,676.3 330.1,676.4 330.4,676.4 330.8,676.3 331.1,676.3 331.4,676.2 331.8,676.1 332.1,676.0 332.4,676.1 332.7,676.2 333.1,676.3 333.4,676.4 333.7,676.5 334.1,676.6 334.4,676.6 334.7,676.4 335.0,676.0 335.4,675.5 335.7,674.7 336.0,673.7 336.4,672.5 336.7,671.0 337.0,669.1 337.3,666.8 337.7,664.2 338.0,661.6 338.3,659.5 338.7,658.7 339.0,660.4 339.3,664.2 339.6,667.8 340.0,670.7 340.3,672.7 340.6,674.0 341.0,675.0 341.3,675.6 341.6,676.0 342.0,676.2 342.3,676.4 342.6,676.6 342.9,676.8 343.3,677.0 343.6,677.3 343.9,677.5 344.3,677.7 344.6,677.9 344.9,678.0 345.2,678.1 345.6,678.1 345.9,678.1 346.2,678.0 346.6,677.8 346.9,677.6 347.2,677.3 347.5,677.0 347.9,676.8 348.2,676.7 348.5,676.6 348.9,676.6 349.2,676.6 349.5,676.7 349.8,676.6 350.2,676.5 350.5,676.3 350.8,676.0 351.2,675.7 351.5,675.4 351.8,675.1 352.1,675.0 352.5,675.2 352.8,675.5 353.1,675.8 353.5,676.1 353.8,676.3 354.1,676.4 354.4,676.5 354.8,676.5 355.1,676.4 355.4,676.4 355.8,676.4 356.1,676.4 356.4,676.4 356.7,676.4 357.1,676.5 357.4,676.6 357.7,676.8 358.1,677.1 358.4,677.4 358.7,677.7 359.0,677.9 359.4,678.0 359.7,677.9 360.0,677.8 360.4,677.6 360.7,677.6 361.0,677.6 361.4,677.6 361.7,677.7 362.0,677.8 362.3,677.9 362.7,677.9 363.0,677.9 363.3,677.9 363.7,677.9 364.0,677.9 364.3,677.8 364.6,677.9 365.0,677.9 365.3,678.0 365.6,678.1 366.0,678.2 366.3,678.2 366.6,678.1 366.9,678.0 367.3,677.7 367.6,677.4 367.9,677.1 368.3,676.6 368.6,675.9 368.9,675.0 369.2,673.8 369.6,672.2 369.9,670.2 370.2,667.6 370.6,664.6 370.9,661.5 371.2,658.9 371.5,657.8 371.9,659.7 372.2,664.0 372.5,668.0 372.9,670.8 373.2,672.4 373.5,673.1 373.8,673.1 374.2,672.8 374.5,672.3 374.8,671.7 375.2,671.3 375.5,671.2 375.8,671.7 376.1,673.1 376.5,674.9 376.8,676.6 377.1,677.9 377.5,678.4 377.8,678.6 378.1,678.5 378.4,678.1 378.8,677.5 379.1,676.8 379.4,676.0 379.8,675.1 380.1,674.0 380.4,672.8 380.7,671.2 381.1,669.3 381.4,667.0 381.7,664.2 382.1,661.1 382.4,657.4 382.7,653.4 383.1,648.9 383.4,644.1 383.7,639.2 384.0,634.6 384.4,630.8 384.7,628.3 385.0,628.1 385.4,630.5 385.7,633.9 386.0,637.1 386.3,639.7 386.7,641.6 387.0,642.9 387.3,643.8 387.7,644.7 388.0,645.6 388.3,647.1 388.6,649.2 389.0,651.7 389.3,654.5 389.6,657.3 390.0,660.1 390.3,662.6 390.6,664.9 390.9,667.0 391.3,668.8 391.6,670.5 391.9,671.9 392.3,673.1 392.6,674.1 392.9,674.8 393.2,675.2 393.6,675.4 393.9,675.3 394.2,675.1 394.6,674.8 394.9,674.3 395.2,673.7 395.5,673.0 395.9,672.2 396.2,671.2 396.5,670.2 396.9,669.0 397.2,667.5 397.5,665.9 397.8,664.2 398.2,662.5 398.5,661.3 398.8,660.9 399.2,661.8 399.5,664.1 399.8,666.8 400.1,669.4 400.5,671.5 400.8,673.1 401.1,674.3 401.5,675.2 401.8,675.9 402.1,676.5 402.5,676.9 402.8,677.1 403.1,677.2 403.4,677.3 403.8,677.2 404.1,677.2 404.4,677.2 404.8,677.1 405.1,677.0 405.4,676.9 405.7,676.7 406.1,676.5 406.4,676.4 406.7,676.2 407.1,676.2 407.4,676.2 407.7,676.3 408.0,676.5 408.4,676.6 408.7,676.6 409.0,676.6 409.4,676.5 409.7,676.4 410.0,676.4 410.3,676.3 410.7,676.3 411.0,676.2 411.3,676.0 411.7,675.8 412.0,675.5 412.3,675.4 412.6,675.5 413.0,675.7 413.3,676.0 413.6,676.4 414.0,676.7 414.3,677.0 414.6,677.0 414.9,677.0 415.3,676.7 415.6,676.4 415.9,675.9 416.3,675.5 416.6,675.1 416.9,674.6 417.2,674.2 417.6,673.8 417.9,673.4 418.2,672.9 418.6,672.4 418.9,671.8 419.2,671.3 419.5,671.1 419.9,671.5 420.2,672.5 420.5,673.5 420.9,674.2 421.2,674.8 421.5,675.2 421.8,675.5 422.2,675.9 422.5,676.2 422.8,676.4 423.2,676.6 423.5,676.6 423.8,676.5 424.2,676.2 424.5,675.6 424.8,674.9 425.1,674.0 425.5,673.1 425.8,672.3 426.1,672.1 426.5,672.7 426.8,673.5 427.1,674.2 427.4,674.7 427.8,675.1 428.1,675.4 428.4,675.6 428.8,675.9 429.1,676.2 429.4,676.4 429.7,676.6 430.1,676.7 430.4,676.7 430.7,676.7 431.1,676.6 431.4,676.5 431.7,676.4 432.0,676.2 432.4,676.1 432.7,675.9 433.0,675.7 433.4,675.5 433.7,675.2 434.0,675.0 434.3,674.7 434.7,674.4 435.0,674.0 435.3,673.7 435.7,673.5 436.0,673.4 436.3,673.3 436.6,673.3 437.0,673.2 437.3,673.1 437.6,673.0 438.0,672.9 438.3,672.7 438.6,672.5 438.9,672.3 439.3,672.1 439.6,671.8 439.9,671.5 440.3,671.5 440.6,671.7 440.9,672.1 441.2,672.6 441.6,673.2 441.9,673.8 442.2,674.4 442.6,675.0 442.9,675.4 443.2,675.7 443.6,675.9 443.9,676.0 444.2,676.0 444.5,675.9 444.9,675.7 445.2,675.6 445.5,675.5 445.9,675.5 446.2,675.6 446.5,675.7 446.8,675.8 447.2,675.9 447.5,675.9 447.8,675.8 448.2,675.8 448.5,675.7 448.8,675.6 449.1,675.6 449.5,675.6 449.8,675.7 450.1,675.7 450.5,675.8 450.8,675.8 451.1,675.9 451.4,675.8 451.8,675.8 452.1,675.8 452.4,675.8 452.8,675.9 453.1,676.1 453.4,676.4 453.7,676.7 454.1,677.1 454.4,677.4 454.7,677.7 455.1,677.9 455.4,677.9 455.7,677.9 456.0,677.7 456.4,677.4 456.7,677.1 457.0,676.7 457.4,676.3 457.7,676.0 458.0,675.8 458.3,675.8 458.7,675.8 459.0,675.9 459.3,676.1 459.7,676.3 460.0,676.5 460.3,676.5 460.6,676.6 461.0,676.6 461.3,676.6 461.6,676.5 462.0,676.3 462.3,676.1 462.6,675.8 462.9,675.5 463.3,675.3 463.6,675.2 463.9,675.2 464.3,675.2 464.6,675.3 464.9,675.4 465.3,675.5 465.6,675.4 465.9,675.4 466.2,675.3 466.6,675.3 466.9,675.3 467.2,675.2 467.6,674.9 467.9,674.5 468.2,673.8 468.5,672.8 468.9,671.6 469.2,670.3 469.5,668.8 469.9,667.3 470.2,665.7 470.5,664.4 470.8,663.3 471.2,662.7 471.5,662.7 471.8,663.9 472.2,665.6 472.5,667.2 472.8,668.4 473.1,669.1 473.5,669.5 473.8,669.5 474.1,669.3 474.5,669.0 474.8,668.5 475.1,667.8 475.4,667.0 475.8,666.1 476.1,665.4 476.4,664.9 476.8,665.1 477.1,666.2 477.4,667.9 477.7,669.6 478.1,671.1 478.4,672.4 478.7,673.4 479.1,674.2 479.4,674.9 479.7,675.5 480.0,676.0 480.4,676.4 480.7,676.7 481.0,676.9 481.4,677.1 481.7,677.2 482.0,677.2 482.3,677.2 482.7,677.2 483.0,677.2 483.3,677.1 483.7,677.1 484.0,677.2 484.3,677.3 484.7,677.4 485.0,677.4 485.3,677.4 485.6,677.2 486.0,677.0 486.3,676.6 486.6,676.4 487.0,676.2 487.3,676.2 487.6,676.4 487.9,676.7 488.3,677.0 488.6,677.1 488.9,677.1 489.3,677.0 489.6,676.8 489.9,676.5 490.2,676.2 490.6,676.0 490.9,675.7 491.2,675.5 491.6,675.3 491.9,675.2 492.2,675.0 492.5,674.9 492.9,674.8 493.2,674.6 493.5,674.4 493.9,674.2 494.2,673.9 494.5,673.5 494.8,673.1 495.2,672.8 495.5,672.5 495.8,672.3 496.2,672.2 496.5,672.3 496.8,672.4 497.1,672.5 497.5,672.7 497.8,673.0 498.1,673.3 498.5,673.7 498.8,674.1 499.1,674.5 499.4,675.0 499.8,675.5 500.1,675.9 500.4,676.2 500.8,676.4 501.1,676.4 501.4,676.3 501.7,676.3 502.1,676.3 502.4,676.3 502.7,676.3 503.1,676.3 503.4,676.2 503.7,676.0 504.0,675.8 504.4,675.5 504.7,675.2 505.0,675.0 505.4,674.8 505.7,674.7 506.0,674.7 506.4,674.8 506.7,675.1 507.0,675.5 507.3,675.9 507.7,676.3 508.0,676.6 508.3,676.8 508.7,676.9 509.0,676.9 509.3,676.9 509.6,676.9 510.0,676.8 510.3,676.6 510.6,676.5 511.0,676.3 511.3,676.3 511.6,676.3 511.9,676.4 512.3,676.5 512.6,676.6 512.9,676.6 513.3,676.7 513.6,676.6 513.9,676.5 514.2,676.3 514.6,676.2 514.9,676.1 515.2,676.1 515.6,676.2 515.9,676.4 516.2,676.6 516.5,676.8 516.9,677.0 517.2,677.1 517.5,677.1 517.9,677.0 518.2,676.8 518.5,676.4 518.8,675.9 519.2,675.4 519.5,675.0 519.8,674.5 520.2,674.1 520.5,673.7 520.8,673.2 521.1,672.6 521.5,671.8 521.8,670.9 522.1,670.1 522.5,669.5 522.8,669.4 523.1,669.9 523.4,670.8 523.8,671.7 524.1,672.7 524.4,673.6 524.8,674.6 525.1,675.4 525.4,676.1 525.8,676.7 526.1,677.0 526.4,677.1 526.7,677.0 527.1,676.8 527.4,676.5 527.7,676.3 528.1,676.1 528.4,676.0 528.7,675.9 529.0,675.9 529.4,675.8 529.7,675.7 530.0,675.7 530.4,675.6 530.7,675.6 531.0,675.7 531.3,675.7 531.7,675.7 532.0,675.6 532.3,675.3 532.7,675.0 533.0,674.6 533.3,674.1 533.6,673.5 534.0,672.8 534.3,672.1 534.6,671.3 535.0,670.5 535.3,669.8 535.6,669.1 535.9,668.6 536.3,668.2 536.6,667.9 536.9,667.6 537.3,667.5 537.6,667.5 537.9,667.7 538.2,668.1 538.6,668.7 538.9,669.4 539.2,670.0 539.6,670.5 539.9,670.9 540.2,671.1 540.5,671.4 540.9,671.5 541.2,671.7 541.5,671.8 541.9,671.7 542.2,671.5 542.5,671.2 542.8,670.8 543.2,670.4 543.5,670.0 543.8,669.7 544.2,669.4 544.5,669.0 544.8,668.6 545.1,667.9 545.5,667.2 545.8,666.3 546.1,665.5 546.5,664.7 546.8,664.1 547.1,663.8 547.5,663.6 547.8,663.7 548.1,664.1 548.4,664.8 548.8,665.8 549.1,666.9 549.4,668.1 549.8,669.3 550.1,670.4 550.4,671.5 550.7,672.6 551.1,673.5 551.4,674.4 551.7,675.1 552.1,675.6 552.4,675.8 552.7,675.8 553.0,675.7 553.4,675.6 553.7,675.5 554.0,675.6 554.4,675.7 554.7,676.0 555.0,676.3 555.3,676.6 555.7,677.0 556.0,677.4 556.3,677.8 556.7,678.2 557.0,678.5 557.3,678.6 557.6,678.7 558.0,678.7 558.3,678.7 558.6,678.6 559.0,678.5 559.3,678.4 559.6,678.2 559.9,677.9 560.3,677.6 560.6,677.2 560.9,676.7 561.3,676.2 561.6,675.8 561.9,675.5 562.2,675.4 562.6,675.3 562.9,675.3 563.2,675.4 563.6,675.4 563.9,675.4 564.2,675.3 564.5,675.1 564.9,674.8 565.2,674.4 565.5,674.1 565.9,673.9 566.2,673.7 566.5,673.5 566.9,673.3 567.2,673.2 567.5,673.0 567.8,672.7 568.2,672.5 568.5,672.3 568.8,672.2 569.2,672.0 569.5,671.9 569.8,671.8 570.1,671.8 570.5,671.8 570.8,671.9 571.1,672.1 571.5,672.2 571.8,672.3 572.1,672.4 572.4,672.5 572.8,672.7 573.1,672.9 573.4,673.2 573.8,673.7 574.1,674.2 574.4,674.7 574.7,675.3 575.1,675.8 575.4,676.2 575.7,676.6 576.1,676.9 576.4,677.1 576.7,677.3 577.0,677.5 577.4,677.6 577.7,677.6 578.0,677.7 578.4,677.7 578.7,677.7 579.0,677.7 579.3,677.7 579.7,677.7 580.0,677.6 580.3,677.6 580.7,677.5 581.0,677.4 581.3,677.3 581.6,677.2 582.0,677.1 582.3,677.1 582.6,677.3 583.0,677.6 583.3,678.0 583.6,678.4 583.9,678.7 584.3,679.0 584.6,679.1 584.9,679.1 585.3,679.0 585.6,678.7 585.9,678.4 586.2,678.0 586.6,677.7 586.9,677.3 587.2,677.0 587.6,676.8 587.9,676.7 588.2,676.6 588.6,676.6 588.9,676.7 589.2,676.8 589.5,676.9 589.9,677.0 590.2,677.1 590.5,677.2 590.9,677.3 591.2,677.5 591.5,677.5 591.8,677.6 592.2,677.6 592.5,677.6 592.8,677.4 593.2,677.2 593.5,677.0 593.8,676.7 594.1,676.4 594.5,676.1 594.8,676.0 595.1,675.9 595.5,676.0 595.8,676.2 596.1,676.4 596.4,676.6 596.8,676.8 597.1,677.0 597.4,677.2 597.8,677.2 598.1,677.2 598.4,677.1 598.7,677.0 599.1,676.8 599.4,676.7 599.7,676.6 600.1,676.4 600.4,676.3 600.7,676.2 601.0,676.0 601.4,675.7 601.7,675.5 602.0,675.2 602.4,675.0 602.7,674.8 603.0,674.5 603.3,674.3 603.7,674.0 604.0,673.6 604.3,673.3 604.7,672.9 605.0,672.3 605.3,671.7 605.6,670.8 606.0,669.7 606.3,668.4 606.6,667.0 607.0,665.8 607.3,664.7 607.6,663.9 608.0,663.5 608.3,663.7 608.6,664.5 608.9,665.7 609.3,666.9 609.6,668.1 609.9,669.1 610.3,669.8 610.6,670.4 610.9,670.8 611.2,671.0 611.6,671.1 611.9,671.2 612.2,671.1 612.6,671.1 612.9,671.0 613.2,670.8 613.5,670.5 613.9,670.1 614.2,669.6 614.5,669.0 614.9,668.4 615.2,667.9 615.5,667.6 615.8,667.6 616.2,667.9 616.5,668.5 616.8,669.2 617.2,669.9 617.5,670.6 617.8,671.1 618.1,671.6 618.5,672.1 618.8,672.5 619.1,672.9 619.5,673.3 619.8,673.7 620.1,674.1 620.4,674.4 620.8,674.5 621.1,674.7 621.4,674.7 621.8,674.8 622.1,674.9 622.4,675.1 622.7,675.3 623.1,675.6 623.4,675.9 623.7,676.2 624.1,676.6 624.4,676.8 624.7,677.0 625.0,677.2 625.4,677.2 625.7,677.1 626.0,677.0 626.4,676.8 626.7,676.5 627.0,676.2 627.3,676.0 627.7,675.8 628.0,675.7 628.3,675.6 628.7,675.5 629.0,675.4 629.3,675.3 629.7,675.1 630.0,675.0 630.3,674.9 630.6,674.9 631.0,674.9 631.3,674.9 631.6,674.9 632.0,675.0 632.3,675.1 632.6,675.2 632.9,675.3 633.3,675.4 633.6,675.5 633.9,675.5 634.3,675.5 634.6,675.5 634.9,675.5 635.2,675.4 635.6,675.5 635.9,675.6 636.2,675.7 636.6,675.8 636.9,675.9 637.2,676.0 637.5,676.0 637.9,676.1 638.2,676.1" fill="none" stroke="#1c70e0" stroke-width="3.9" stroke-linejoin="round"/>
<path d="M62.8,543.6 63.1,543.6 63.5,543.7 63.8,543.8 64.1,543.8 64.4,543.8 64.8,543.8 65.1,543.7 65.4,543.7 65.8,543.8 66.1,544.0 66.4,544.3 66.7,544.6 67.1,544.9 67.4,545.0 67.7,545.0 68.1,544.9 68.4,544.8 68.7,544.7 69.0,544.5 69.4,544.4 69.7,544.3 70.0,544.2 70.4,544.2 70.7,544.1 71.0,543.9 71.3,543.7 71.7,543.5 72.0,543.2 72.3,542.9 72.7,542.6 73.0,542.4 73.3,542.4 73.7,542.4 74.0,542.6 74.3,542.8 74.6,543.1 75.0,543.3 75.3,543.4 75.6,543.5 76.0,543.4 76.3,543.3 76.6,543.1 76.9,542.9 77.3,542.8 77.6,542.7 77.9,542.6 78.3,542.6 78.6,542.5 78.9,542.4 79.2,542.4 79.6,542.3 79.9,542.2 80.2,542.1 80.6,542.1 80.9,542.1 81.2,542.0 81.5,542.1 81.9,542.1 82.2,542.1 82.5,542.1 82.9,542.1 83.2,542.1 83.5,542.0 83.8,541.8 84.2,541.5 84.5,541.3 84.8,541.0 85.2,540.7 85.5,540.4 85.8,540.0 86.1,539.5 86.5,539.1 86.8,538.7 87.1,538.3 87.5,538.0 87.8,537.7 88.1,537.3 88.4,537.0 88.8,536.5 89.1,535.9 89.4,535.1 89.8,534.2 90.1,533.1 90.4,531.7 90.7,530.1 91.1,528.2 91.4,525.9 91.7,523.3 92.1,520.1 92.4,516.4 92.7,511.8 93.0,506.4 93.4,499.9 93.7,492.6 94.0,484.4 94.4,475.7 94.7,467.0 95.0,459.0 95.4,452.8 95.7,449.4 96.0,449.9 96.3,457.2 96.7,469.0 97.0,482.0 97.3,494.1 97.7,504.4 98.0,512.7 98.3,519.2 98.6,524.2 99.0,528.0 99.3,530.9 99.6,533.0 100.0,534.6 100.3,535.8 100.6,536.7 100.9,537.5 101.3,538.3 101.6,538.9 101.9,539.4 102.3,539.9 102.6,540.3 102.9,540.6 103.2,541.0 103.6,541.4 103.9,541.8 104.2,542.2 104.6,542.6 104.9,543.0 105.2,543.4 105.5,543.7 105.9,544.0 106.2,544.3 106.5,544.4 106.9,544.4 107.2,544.4 107.5,544.3 107.8,544.2 108.2,544.1 108.5,544.0 108.8,544.0 109.2,544.0 109.5,544.1 109.8,544.1 110.1,544.2 110.5,544.4 110.8,544.5 111.1,544.7 111.5,544.8 111.8,544.9 112.1,544.9 112.4,545.1 112.8,545.2 113.1,545.4 113.4,545.5 113.8,545.5 114.1,545.5 114.4,545.3 114.8,545.2 115.1,545.1 115.4,545.0 115.7,545.1 116.1,545.2 116.4,545.3 116.7,545.3 117.1,545.3 117.4,545.2 117.7,545.0 118.0,544.8 118.4,544.7 118.7,544.6 119.0,544.6 119.4,544.6 119.7,544.6 120.0,544.6 120.3,544.5 120.7,544.3 121.0,544.0 121.3,543.6 121.7,543.4 122.0,543.3 122.3,543.3 122.6,543.5 123.0,543.8 123.3,544.0 123.6,544.3 124.0,544.4 124.3,544.5 124.6,544.5 124.9,544.5 125.3,544.5 125.6,544.6 125.9,544.7 126.3,544.8 126.6,544.8 126.9,544.7 127.2,544.4 127.6,544.1 127.9,543.7 128.2,543.1 128.6,542.5 128.9,541.7 129.2,540.8 129.5,539.6 129.9,538.1 130.2,536.3 130.5,534.2 130.9,532.0 131.2,530.3 131.5,529.6 131.8,531.2 132.2,534.4 132.5,537.4 132.8,539.6 133.2,541.2 133.5,542.2 133.8,542.8 134.1,543.3 134.5,543.6 134.8,543.8 135.1,543.8 135.5,543.7 135.8,543.4 136.1,542.8 136.5,542.0 136.8,540.9 137.1,539.8 137.4,538.8 137.8,538.1 138.1,538.1 138.4,539.2 138.8,540.5 139.1,541.6 139.4,542.5 139.7,543.1 140.1,543.4 140.4,543.6 140.7,543.7 141.1,543.9 141.4,544.0 141.7,544.2 142.0,544.4 142.4,544.6 142.7,544.7 143.0,544.7 143.4,544.7 143.7,544.8 144.0,544.8 144.3,544.7 144.7,544.4 145.0,544.1 145.3,543.7 145.7,543.5 146.0,543.5 146.3,543.6 146.6,544.0 147.0,544.6 147.3,545.1 147.6,545.7 148.0,546.3 148.3,546.7 148.6,547.1 148.9,547.4 149.3,547.5 149.6,547.6 149.9,547.5 150.3,547.3 150.6,547.0 150.9,546.7 151.2,546.3 151.6,545.9 151.9,545.3 152.2,544.7 152.6,544.0 152.9,543.3 153.2,542.4 153.5,541.5 153.9,540.5 154.2,539.4 154.5,538.2 154.9,536.9 155.2,535.3 155.5,533.3 155.9,530.7 156.2,527.3 156.5,522.7 156.8,516.7 157.2,508.6 157.5,498.2 157.8,485.0 158.2,469.0 158.5,451.4 158.8,435.0 159.1,424.8 159.5,426.8 159.8,447.8 160.1,474.3 160.5,496.1 160.8,511.6 161.1,521.9 161.4,528.5 161.8,532.9 162.1,535.8 162.4,537.8 162.8,539.3 163.1,540.3 163.4,541.0 163.7,541.5 164.1,541.8 164.4,542.0 164.7,542.2 165.1,542.4 165.4,542.8 165.7,543.3 166.0,544.0 166.4,544.6 166.7,545.3 167.0,546.0 167.4,546.5 167.7,547.0 168.0,547.2 168.3,547.3 168.7,547.1 169.0,546.8 169.3,546.3 169.7,545.8 170.0,545.4 170.3,545.0 170.6,544.8 171.0,544.6 171.3,544.4 171.6,544.3 172.0,544.0 172.3,543.7 172.6,543.2 172.9,542.7 173.3,542.1 173.6,541.4 173.9,540.7 174.3,539.9 174.6,539.0 174.9,537.9 175.2,536.5 175.6,534.6 175.9,531.9 176.2,528.2 176.6,523.2 176.9,516.9 177.2,509.1 177.6,500.4 177.9,492.2 178.2,486.9 178.5,487.6 178.9,497.5 179.2,510.0 179.5,520.4 179.9,527.8 180.2,532.8 180.5,536.2 180.8,538.4 181.2,539.9 181.5,540.9 181.8,541.6 182.2,542.0 182.5,542.2 182.8,542.3 183.1,542.3 183.5,542.1 183.8,541.8 184.1,541.3 184.5,540.6 184.8,539.8 185.1,538.7 185.4,537.5 185.8,535.9 186.1,534.1 186.4,531.8 186.8,529.2 187.1,526.0 187.4,522.5 187.7,518.8 188.1,515.5 188.4,513.1 188.7,512.4 189.1,514.6 189.4,519.7 189.7,525.6 190.0,530.9 190.4,535.1 190.7,538.1 191.0,540.3 191.4,541.7 191.7,542.6 192.0,543.1 192.3,543.3 192.7,543.5 193.0,543.7 193.3,543.9 193.7,544.1 194.0,544.5 194.3,544.7 194.6,545.0 195.0,545.2 195.3,545.2 195.6,545.3 196.0,545.3 196.3,545.3 196.6,545.4 197.0,545.4 197.3,545.5 197.6,545.5 197.9,545.3 198.3,545.0 198.6,544.6 198.9,544.0 199.3,543.4 199.6,542.8 199.9,542.1 200.2,541.3 200.6,540.4 200.9,539.4 201.2,538.3 201.6,537.2 201.9,536.0 202.2,534.7 202.5,533.2 202.9,531.3 203.2,528.8 203.5,525.4 203.9,520.7 204.2,514.5 204.5,506.5 204.8,496.6 205.2,484.8 205.5,471.7 205.8,459.3 206.2,450.7 206.5,449.9 206.8,461.4 207.1,476.3 207.5,488.2 207.8,496.0 208.1,500.4 208.5,502.5 208.8,503.3 209.1,503.4 209.4,503.3 209.8,503.4 210.1,503.9 210.4,505.3 210.8,507.9 211.1,511.5 211.4,515.6 211.7,519.8 212.1,523.8 212.4,527.4 212.7,530.6 213.1,533.3 213.4,535.4 213.7,537.1 214.0,538.4 214.4,539.4 214.7,540.1 215.0,540.7 215.4,541.2 215.7,541.6 216.0,542.1 216.3,542.5 216.7,542.9 217.0,543.4 217.3,543.8 217.7,544.2 218.0,544.5 218.3,544.7 218.7,545.0 219.0,545.1 219.3,545.2 219.6,545.3 220.0,545.2 220.3,545.1 220.6,544.9 221.0,544.7 221.3,544.6 221.6,544.4 221.9,544.2 222.3,543.9 222.6,543.4 222.9,542.7 223.3,541.7 223.6,540.5 223.9,538.9 224.2,537.3 224.6,535.7 224.9,534.8 225.2,535.0 225.6,536.7 225.9,538.9 226.2,540.7 226.5,541.8 226.9,542.1 227.2,541.9 227.5,541.0 227.9,539.6 228.2,537.8 228.5,535.5 228.8,532.7 229.2,529.4 229.5,525.5 229.8,521.2 230.2,517.3 230.5,514.8 230.8,515.4 231.1,520.9 231.5,527.7 231.8,533.3 232.1,537.3 232.5,540.0 232.8,541.8 233.1,543.0 233.4,543.7 233.8,544.1 234.1,544.3 234.4,544.2 234.8,544.1 235.1,543.9 235.4,543.6 235.7,543.2 236.1,542.5 236.4,541.5 236.7,540.1 237.1,538.5 237.4,536.9 237.7,535.6 238.1,535.2 238.4,536.6 238.7,539.2 239.0,541.7 239.4,543.5 239.7,544.7 240.0,545.3 240.4,545.5 240.7,545.4 241.0,545.2 241.3,544.9 241.7,544.6 242.0,544.4 242.3,544.4 242.7,544.4 243.0,544.5 243.3,544.6 243.6,544.8 244.0,544.8 244.3,544.8 244.6,544.5 245.0,544.1 245.3,543.5 245.6,542.7 245.9,541.8 246.3,540.7 246.6,539.5 246.9,538.2 247.3,536.8 247.6,535.3 247.9,533.7 248.2,532.2 248.6,530.7 248.9,529.5 249.2,528.6 249.6,528.2 249.9,528.8 250.2,530.5 250.5,532.8 250.9,535.1 251.2,537.2 251.5,539.0 251.9,540.5 252.2,541.6 252.5,542.4 252.8,542.9 253.2,543.2 253.5,543.3 253.8,543.3 254.2,543.3 254.5,543.3 254.8,543.2 255.1,543.2 255.5,543.2 255.8,543.2 256.1,543.2 256.5,543.2 256.8,543.1 257.1,543.1 257.4,543.1 257.8,543.0 258.1,542.9 258.4,542.8 258.8,542.5 259.1,542.2 259.4,541.9 259.8,541.5 260.1,541.0 260.4,540.5 260.7,540.0 261.1,539.5 261.4,539.0 261.7,538.6 262.1,538.1 262.4,537.7 262.7,537.2 263.0,536.8 263.4,536.3 263.7,535.8 264.0,535.3 264.4,534.9 264.7,534.8 265.0,535.1 265.3,535.5 265.7,536.1 266.0,536.7 266.3,537.2 266.7,537.6 267.0,537.8 267.3,537.9 267.6,537.7 268.0,537.3 268.3,536.5 268.6,535.4 269.0,533.9 269.3,531.7 269.6,528.8 269.9,525.1 270.3,521.0 270.6,517.1 270.9,514.4 271.3,514.6 271.6,519.0 271.9,524.5 272.2,529.0 272.6,532.0 272.9,533.7 273.2,534.4 273.6,534.4 273.9,533.8 274.2,532.5 274.5,530.7 274.9,528.1 275.2,524.7 275.5,520.3 275.9,514.5 276.2,507.3 276.5,498.4 276.8,488.4 277.2,478.8 277.5,472.4 277.8,472.5 278.2,483.0 278.5,496.1 278.8,506.2 279.2,512.1 279.5,514.2 279.8,513.1 280.1,509.5 280.5,503.7 280.8,496.3 281.1,488.4 281.5,482.1 281.8,480.0 282.1,486.5 282.4,499.7 282.8,512.4 283.1,522.0 283.4,528.4 283.8,532.5 284.1,535.0 284.4,536.5 284.7,537.4 285.1,537.9 285.4,538.0 285.7,537.9 286.1,537.5 286.4,536.8 286.7,535.8 287.0,534.5 287.4,532.8 287.7,530.6 288.0,527.6 288.4,523.6 288.7,518.3 289.0,511.5 289.3,503.2 289.7,493.9 290.0,485.1 290.3,479.2 290.7,479.4 291.0,489.1 291.3,501.2 291.6,510.5 292.0,516.0 292.3,518.2 292.6,517.9 293.0,515.9 293.3,513.0 293.6,510.7 293.9,510.4 294.3,514.4 294.6,521.8 294.9,528.8 295.3,534.0 295.6,537.4 295.9,539.7 296.2,541.1 296.6,542.0 296.9,542.7 297.2,543.2 297.6,543.6 297.9,543.8 298.2,544.0 298.5,544.2 298.9,544.2 299.2,544.1 299.5,544.0 299.9,543.9 300.2,543.7 300.5,543.5 300.9,543.3 301.2,543.2 301.5,543.2 301.8,543.2 302.2,543.1 302.5,543.0 302.8,542.8 303.2,542.5 303.5,542.2 303.8,541.8 304.1,541.4 304.5,540.8 304.8,539.9 305.1,538.8 305.5,537.3 305.8,535.3 306.1,532.7 306.4,529.4 306.8,525.3 307.1,520.6 307.4,515.6 307.8,511.6 308.1,509.8 308.4,512.8 308.7,519.5 309.1,525.9 309.4,530.6 309.7,533.8 310.1,535.6 310.4,536.7 310.7,537.2 311.0,537.3 311.4,537.1 311.7,536.4 312.0,535.1 312.4,533.1 312.7,530.2 313.0,526.2 313.3,521.0 313.7,514.4 314.0,506.7 314.3,498.7 314.7,492.2 315.0,489.3 315.3,493.9 315.6,504.1 316.0,514.0 316.3,521.1 316.6,525.4 317.0,527.7 317.3,528.2 317.6,527.4 317.9,525.5 318.3,522.3 318.6,518.1 318.9,512.9 319.3,507.3 319.6,502.7 319.9,500.5 320.3,503.5 320.6,510.5 320.9,517.1 321.2,521.6 321.6,524.2 321.9,525.4 322.2,525.5 322.6,525.2 322.9,524.7 323.2,524.4 323.5,524.4 323.9,524.8 324.2,526.1 324.5,528.0 324.9,530.1 325.2,532.2 325.5,534.0 325.8,535.7 326.2,537.2 326.5,538.6 326.8,539.8 327.2,540.8 327.5,541.7 327.8,542.4 328.1,543.0 328.5,543.5 328.8,543.9 329.1,544.2 329.5,544.4 329.8,544.5 330.1,544.4 330.4,544.2 330.8,543.9 331.1,543.6 331.4,543.3 331.8,543.1 332.1,543.0 332.4,542.9 332.7,542.8 333.1,542.7 333.4,542.4 333.7,542.0 334.1,541.5 334.4,540.7 334.7,539.7 335.0,538.4 335.4,536.7 335.7,534.5 336.0,531.5 336.4,527.6 336.7,522.7 337.0,516.7 337.3,510.2 337.7,504.1 338.0,500.4 338.3,501.1 338.7,508.7 339.0,518.3 339.3,526.3 339.6,531.9 340.0,535.6 340.3,538.0 340.6,539.4 341.0,540.4 341.3,541.0 341.6,541.4 342.0,541.8 342.3,542.1 342.6,542.5 342.9,542.8 343.3,543.0 343.6,543.2 343.9,543.2 344.3,543.1 344.6,542.9 344.9,542.7 345.2,542.4 345.6,542.1 345.9,541.8 346.2,541.4 346.6,541.0 346.9,540.5 347.2,540.0 347.5,539.4 347.9,538.9 348.2,538.3 348.5,537.6 348.9,536.8 349.2,535.7 349.5,534.3 349.8,532.8 350.2,531.2 350.5,529.8 350.8,528.8 351.2,528.4 351.5,529.2 351.8,531.1 352.1,533.2 352.5,535.1 352.8,536.5 353.1,537.5 353.5,538.1 353.8,538.4 354.1,538.6 354.4,538.8 354.8,539.0 355.1,539.2 355.4,539.5 355.8,539.7 356.1,539.9 356.4,540.1 356.7,540.1 357.1,540.0 357.4,539.7 357.7,539.4 358.1,539.1 358.4,538.7 358.7,538.4 359.0,538.1 359.4,537.9 359.7,537.8 360.0,537.7 360.4,537.7 360.7,537.7 361.0,537.7 361.4,537.7 361.7,537.8 362.0,538.0 362.3,538.3 362.7,538.6 363.0,538.9 363.3,539.1 363.7,539.2 364.0,539.2 364.3,539.0 364.6,538.7 365.0,538.2 365.3,537.6 365.6,537.0 366.0,536.3 366.3,535.6 366.6,534.9 366.9,534.2 367.3,533.3 367.6,532.3 367.9,531.0 368.3,529.3 368.6,527.1 368.9,524.3 369.2,520.6 369.6,515.9 369.9,510.1 370.2,503.5 370.6,497.1 370.9,492.8 371.2,492.9 371.5,500.1 371.9,509.3 372.2,516.9 372.5,522.1 372.9,525.3 373.2,527.0 373.5,527.8 373.8,527.9 374.2,527.7 374.5,527.3 374.8,527.2 375.2,527.3 375.5,528.1 375.8,529.6 376.1,531.2 376.5,532.3 376.8,533.0 377.1,533.3 377.5,533.2 377.8,532.9 378.1,532.4 378.4,531.7 378.8,530.7 379.1,529.4 379.4,527.7 379.8,525.6 380.1,523.0 380.4,520.0 380.7,516.4 381.1,512.2 381.4,507.2 381.7,501.4 382.1,494.8 382.4,487.3 382.7,479.3 383.1,471.1 383.4,463.5 383.7,457.2 384.0,453.1 384.4,453.4 384.7,458.3 385.0,464.9 385.4,471.1 385.7,476.0 386.0,479.4 386.3,481.6 386.7,482.9 387.0,483.7 387.3,484.3 387.7,485.1 388.0,486.3 388.3,488.9 388.6,492.7 389.0,497.5 389.3,502.8 389.6,508.2 390.0,513.5 390.3,518.4 390.6,523.0 390.9,527.0 391.3,530.6 391.6,533.8 391.9,536.6 392.3,539.0 392.6,540.8 392.9,542.0 393.2,542.9 393.6,543.4 393.9,543.6 394.2,543.4 394.6,542.9 394.9,541.9 395.2,540.6 395.5,538.8 395.9,536.7 396.2,534.2 396.5,531.4 396.9,528.3 397.2,525.0 397.5,521.6 397.8,518.5 398.2,516.3 398.5,515.5 398.8,517.2 399.2,521.5 399.5,526.6 399.8,531.1 400.1,534.7 400.5,537.5 400.8,539.4 401.1,540.8 401.5,541.6 401.8,542.1 402.1,542.2 402.5,542.3 402.8,542.2 403.1,542.2 403.4,542.2 403.8,542.2 404.1,542.2 404.4,542.1 404.8,541.9 405.1,541.7 405.4,541.4 405.7,541.1 406.1,540.8 406.4,540.9 406.7,541.0 407.1,541.1 407.4,541.3 407.7,541.5 408.0,541.8 408.4,542.1 408.7,542.4 409.0,542.7 409.4,542.9 409.7,543.0 410.0,542.9 410.3,542.8 410.7,542.5 411.0,542.2 411.3,541.9 411.7,541.7 412.0,541.5 412.3,541.5 412.6,541.5 413.0,541.6 413.3,541.7 413.6,541.9 414.0,542.0 414.3,542.0 414.6,542.0 414.9,541.9 415.3,541.8 415.6,541.8 415.9,541.6 416.3,541.4 416.6,541.0 416.9,540.3 417.2,539.3 417.6,538.0 417.9,536.4 418.2,534.7 418.6,533.2 418.9,532.1 419.2,532.2 419.5,533.8 419.9,535.9 420.2,537.7 420.5,539.0 420.9,540.0 421.2,540.6 421.5,541.1 421.8,541.3 422.2,541.3 422.5,541.2 422.8,540.8 423.2,540.2 423.5,539.4 423.8,538.4 424.2,537.3 424.5,536.2 424.8,535.3 425.1,534.9 425.5,535.3 425.8,536.7 426.1,538.5 426.5,540.0 426.8,541.0 427.1,541.7 427.4,542.1 427.8,542.3 428.1,542.4 428.4,542.4 428.8,542.3 429.1,542.2 429.4,542.1 429.7,542.1 430.1,542.1 430.4,542.1 430.7,542.0 431.1,541.9 431.4,541.8 431.7,541.5 432.0,541.2 432.4,540.9 432.7,540.5 433.0,540.1 433.4,539.8 433.7,539.4 434.0,539.0 434.3,538.7 434.7,538.4 435.0,538.1 435.3,537.6 435.7,537.0 436.0,536.1 436.3,534.9 436.6,533.6 437.0,532.3 437.3,531.2 437.6,530.2 438.0,529.7 438.3,529.5 438.6,529.9 438.9,531.0 439.3,532.4 439.6,534.0 439.9,535.4 440.3,536.7 440.6,537.7 440.9,538.6 441.2,539.4 441.6,540.1 441.9,540.8 442.2,541.5 442.6,542.0 442.9,542.5 443.2,542.9 443.6,543.2 443.9,543.5 444.2,543.8 444.5,543.9 444.9,544.0 445.2,544.0 445.5,543.9 445.9,543.8 446.2,543.6 446.5,543.5 446.8,543.4 447.2,543.3 447.5,543.3 447.8,543.4 448.2,543.5 448.5,543.6 448.8,543.7 449.1,543.7 449.5,543.6 449.8,543.5 450.1,543.2 450.5,543.0 450.8,542.8 451.1,542.6 451.4,542.6 451.8,542.6 452.1,542.7 452.4,542.9 452.8,543.0 453.1,543.2 453.4,543.3 453.7,543.4 454.1,543.4 454.4,543.4 454.7,543.3 455.1,543.3 455.4,543.3 455.7,543.4 456.0,543.6 456.4,543.9 456.7,544.1 457.0,544.2 457.4,544.3 457.7,544.4 458.0,544.5 458.3,544.5 458.7,544.6 459.0,544.5 459.3,544.4 459.7,544.3 460.0,544.1 460.3,543.9 460.6,543.7 461.0,543.5 461.3,543.2 461.6,542.9 462.0,542.6 462.3,542.3 462.6,542.0 462.9,541.7 463.3,541.5 463.6,541.4 463.9,541.3 464.3,541.2 464.6,541.1 464.9,540.9 465.3,540.7 465.6,540.4 465.9,539.9 466.2,539.4 466.6,538.7 466.9,538.0 467.2,537.2 467.6,536.2 467.9,534.9 468.2,533.4 468.5,531.4 468.9,529.0 469.2,526.1 469.5,522.8 469.9,519.3 470.2,515.9 470.5,513.1 470.8,511.4 471.2,511.4 471.5,514.1 471.8,518.3 472.2,522.6 472.5,526.0 472.8,528.4 473.1,529.7 473.5,530.2 473.8,530.0 474.1,529.4 474.5,528.3 474.8,527.0 475.1,525.6 475.4,524.3 475.8,523.5 476.1,523.3 476.4,524.2 476.8,526.8 477.1,530.3 477.4,533.8 477.7,536.7 478.1,538.9 478.4,540.5 478.7,541.6 479.1,542.3 479.4,542.8 479.7,543.2 480.0,543.4 480.4,543.7 480.7,543.9 481.0,544.1 481.4,544.3 481.7,544.4 482.0,544.5 482.3,544.5 482.7,544.5 483.0,544.5 483.3,544.5 483.7,544.5 484.0,544.5 484.3,544.4 484.7,544.3 485.0,544.1 485.3,543.8 485.6,543.6 486.0,543.4 486.3,543.3 486.6,543.2 487.0,543.3 487.3,543.4 487.6,543.6 487.9,543.7 488.3,543.9 488.6,543.9 488.9,543.8 489.3,543.7 489.6,543.6 489.9,543.4 490.2,543.3 490.6,543.2 490.9,543.1 491.2,543.0 491.6,543.0 491.9,542.9 492.2,542.7 492.5,542.5 492.9,542.3 493.2,541.9 493.5,541.4 493.9,540.9 494.2,540.4 494.5,539.8 494.8,539.2 495.2,538.5 495.5,537.7 495.8,536.9 496.2,536.3 496.5,535.7 496.8,535.4 497.1,535.2 497.5,535.2 497.8,535.4 498.1,535.7 498.5,536.1 498.8,536.8 499.1,537.5 499.4,538.3 499.8,539.1 500.1,539.8 500.4,540.4 500.8,541.0 501.1,541.4 501.4,541.7 501.7,542.0 502.1,542.2 502.4,542.4 502.7,542.7 503.1,543.0 503.4,543.4 503.7,543.8 504.0,544.1 504.4,544.3 504.7,544.4 505.0,544.3 505.4,544.3 505.7,544.2 506.0,544.2 506.4,544.3 506.7,544.5 507.0,544.7 507.3,544.9 507.7,545.1 508.0,545.2 508.3,545.2 508.7,545.2 509.0,545.1 509.3,545.0 509.6,544.9 510.0,544.9 510.3,544.8 510.6,544.7 511.0,544.6 511.3,544.5 511.6,544.5 511.9,544.5 512.3,544.5 512.6,544.5 512.9,544.5 513.3,544.6 513.6,544.6 513.9,544.5 514.2,544.4 514.6,544.3 514.9,544.3 515.2,544.3 515.6,544.3 515.9,544.4 516.2,544.5 516.5,544.4 516.9,544.3 517.2,544.0 517.5,543.5 517.9,542.8 518.2,542.0 518.5,541.0 518.8,539.9 519.2,538.6 519.5,537.2 519.8,535.6 520.2,533.9 520.5,531.9 520.8,530.0 521.1,528.4 521.5,527.4 521.8,527.3 522.1,528.9 522.5,531.6 522.8,534.3 523.1,536.8 523.4,538.8 523.8,540.4 524.1,541.6 524.4,542.5 524.8,543.0 525.1,543.4 525.4,543.7 525.8,543.9 526.1,544.1 526.4,544.2 526.7,544.2 527.1,544.0 527.4,543.7 527.7,543.4 528.1,543.0 528.4,542.7 528.7,542.4 529.0,542.3 529.4,542.1 529.7,541.9 530.0,541.7 530.4,541.4 530.7,541.0 531.0,540.7 531.3,540.3 531.7,539.9 532.0,539.5 532.3,539.2 532.7,538.8 533.0,538.3 533.3,537.7 533.6,537.1 534.0,536.2 534.3,535.1 534.6,533.9 535.0,532.6 535.3,531.2 535.6,529.8 535.9,528.5 536.3,527.3 536.6,526.3 536.9,525.5 537.3,524.8 537.6,524.3 537.9,524.1 538.2,524.4 538.6,525.1 538.9,526.2 539.2,527.5 539.6,528.9 539.9,530.2 540.2,531.5 540.5,532.5 540.9,533.2 541.2,533.7 541.5,533.9 541.9,533.9 542.2,533.8 542.5,533.4 542.8,532.9 543.2,532.1 543.5,531.2 543.8,530.2 544.2,529.2 544.5,528.2 544.8,527.2 545.1,526.3 545.5,525.4 545.8,524.5 546.1,523.5 546.5,522.6 546.8,521.7 547.1,521.1 547.5,520.8 547.8,520.9 548.1,521.6 548.4,523.0 548.8,524.7 549.1,526.6 549.4,528.7 549.8,530.7 550.1,532.7 550.4,534.6 550.7,536.4 551.1,538.1 551.4,539.6 551.7,540.9 552.1,541.9 552.4,542.7 552.7,543.1 553.0,543.3 553.4,543.3 553.7,543.1 554.0,543.0 554.4,542.9 554.7,542.9 555.0,543.0 555.3,543.2 555.7,543.3 556.0,543.5 556.3,543.6 556.7,543.7 557.0,543.8 557.3,543.8 557.6,543.8 558.0,543.7 558.3,543.6 558.6,543.5 559.0,543.3 559.3,543.1 559.6,542.9 559.9,542.5 560.3,542.1 560.6,541.7 560.9,541.2 561.3,540.9 561.6,540.6 561.9,540.4 562.2,540.2 562.6,540.1 562.9,539.9 563.2,539.6 563.6,539.2 563.9,538.9 564.2,538.4 564.5,538.0 564.9,537.6 565.2,537.0 565.5,536.5 565.9,535.9 566.2,535.4 566.5,535.1 566.9,534.7 567.2,534.5 567.5,534.2 567.8,533.9 568.2,533.4 568.5,533.0 568.8,532.6 569.2,532.3 569.5,532.2 569.8,532.3 570.1,532.7 570.5,533.2 570.8,533.9 571.1,534.7 571.5,535.4 571.8,536.2 572.1,537.0 572.4,537.7 572.8,538.3 573.1,538.8 573.4,539.2 573.8,539.6 574.1,540.0 574.4,540.4 574.7,540.8 575.1,541.2 575.4,541.7 575.7,542.1 576.1,542.5 576.4,542.9 576.7,543.3 577.0,543.6 577.4,543.8 577.7,544.0 578.0,544.1 578.4,544.2 578.7,544.3 579.0,544.4 579.3,544.5 579.7,544.6 580.0,544.7 580.3,544.8 580.7,544.9 581.0,544.9 581.3,544.8 581.6,544.7 582.0,544.5 582.3,544.3 582.6,544.1 583.0,543.9 583.3,543.6 583.6,543.3 583.9,542.9 584.3,542.5 584.6,542.1 584.9,541.7 585.3,541.4 585.6,541.0 585.9,540.8 586.2,540.6 586.6,540.4 586.9,540.2 587.2,539.9 587.6,539.6 587.9,539.2 588.2,538.8 588.6,538.3 588.9,537.9 589.2,537.4 589.5,536.9 589.9,536.4 590.2,535.8 590.5,535.2 590.9,534.7 591.2,534.1 591.5,533.7 591.8,533.4 592.2,533.2 592.5,533.3 592.8,533.6 593.2,534.0 593.5,534.6 593.8,535.2 594.1,535.7 594.5,536.2 594.8,536.6 595.1,537.0 595.5,537.4 595.8,537.8 596.1,538.2 596.4,538.7 596.8,539.3 597.1,540.1 597.4,540.9 597.8,541.8 598.1,542.6 598.4,543.3 598.7,543.8 599.1,544.2 599.4,544.3 599.7,544.3 600.1,544.1 600.4,543.9 600.7,543.5 601.0,543.2 601.4,543.0 601.7,542.7 602.0,542.3 602.4,541.9 602.7,541.3 603.0,540.6 603.3,539.6 603.7,538.4 604.0,537.0 604.3,535.5 604.7,533.9 605.0,532.1 605.3,530.3 605.6,528.5 606.0,526.8 606.3,525.2 606.6,524.1 607.0,523.4 607.3,523.4 607.6,524.6 608.0,526.6 608.3,528.9 608.6,531.1 608.9,533.1 609.3,534.6 609.6,535.7 609.9,536.4 610.3,536.8 610.6,537.0 610.9,536.9 611.2,536.5 611.6,536.1 611.9,535.4 612.2,534.8 612.6,534.1 612.9,533.5 613.2,533.2 613.5,533.1 613.9,533.1 614.2,533.4 614.5,534.1 614.9,535.0 615.2,536.0 615.5,537.0 615.8,537.8 616.2,538.6 616.5,539.3 616.8,539.9 617.2,540.6 617.5,541.2 617.8,541.8 618.1,542.4 618.5,542.9 618.8,543.4 619.1,543.9 619.5,544.4 619.8,544.8 620.1,545.2 620.4,545.3 620.8,545.4 621.1,545.3 621.4,545.2 621.8,545.0 622.1,544.9 622.4,544.8 622.7,544.8 623.1,544.9 623.4,545.1 623.7,545.4 624.1,545.7 624.4,546.0 624.7,546.3 625.0,546.4 625.4,546.4 625.7,546.2 626.0,545.9 626.4,545.5 626.7,545.3 627.0,545.1 627.3,545.0 627.7,544.9 628.0,544.8 628.3,544.6 628.7,544.5 629.0,544.4 629.3,544.3 629.7,544.4 630.0,544.5 630.3,544.6 630.6,544.7 631.0,544.7 631.3,544.7 631.6,544.6 632.0,544.5 632.3,544.5 632.6,544.4 632.9,544.3 633.3,544.2 633.6,544.0 633.9,543.8 634.3,543.5 634.6,543.3 634.9,543.2 635.2,543.2 635.6,543.3 635.9,543.5 636.2,543.8 636.6,544.1 636.9,544.3 637.2,544.4 637.5,544.4 637.9,544.3 638.2,544.2" fill="none" stroke="#36ad6b" stroke-width="3.9" stroke-linejoin="round"/>
<path d="M62.8,389.5 63.1,389.6 63.5,389.8 63.8,390.0 64.1,390.2 64.4,390.3 64.8,390.3 65.1,390.2 65.4,390.1 65.8,389.9 66.1,389.7 66.4,389.6 66.7,389.5 67.1,389.4 67.4,389.3 67.7,389.3 68.1,389.4 68.4,389.6 68.7,389.9 69.0,390.2 69.4,390.6 69.7,390.8 70.0,391.0 70.4,390.9 70.7,390.7 71.0,390.4 71.3,390.1 71.7,389.8 72.0,389.5 72.3,389.3 72.7,389.2 73.0,389.1 73.3,389.0 73.7,389.0 74.0,388.9 74.3,388.8 74.6,388.7 75.0,388.5 75.3,388.3 75.6,388.2 76.0,388.1 76.3,388.1 76.6,388.2 76.9,388.4 77.3,388.6 77.6,388.8 77.9,388.9 78.3,389.0 78.6,389.1 78.9,389.2 79.2,389.2 79.6,389.3 79.9,389.3 80.2,389.2 80.6,389.1 80.9,389.0 81.2,388.7 81.5,388.4 81.9,388.0 82.2,387.7 82.5,387.3 82.9,387.0 83.2,386.8 83.5,386.5 83.8,386.2 84.2,385.7 84.5,385.2 84.8,384.8 85.2,384.4 85.5,384.1 85.8,383.9 86.1,383.8 86.5,383.7 86.8,383.5 87.1,383.1 87.5,382.6 87.8,381.9 88.1,381.1 88.4,380.1 88.8,379.0 89.1,377.7 89.4,376.4 89.8,374.8 90.1,373.0 90.4,370.8 90.7,368.2 91.1,365.1 91.4,361.5 91.7,357.2 92.1,352.2 92.4,346.4 92.7,339.7 93.0,332.2 93.4,324.0 93.7,315.8 94.0,308.2 94.4,302.2 94.7,298.9 95.0,299.4 95.4,306.2 95.7,317.3 96.0,329.5 96.3,340.8 96.7,350.5 97.0,358.3 97.3,364.5 97.7,369.4 98.0,373.2 98.3,376.1 98.6,378.4 99.0,380.1 99.3,381.5 99.6,382.5 100.0,383.3 100.3,383.9 100.6,384.5 100.9,384.9 101.3,385.4 101.6,385.9 101.9,386.4 102.3,386.9 102.6,387.4 102.9,387.8 103.2,388.1 103.6,388.2 103.9,388.2 104.2,388.2 104.6,388.1 104.9,388.2 105.2,388.3 105.5,388.5 105.9,388.8 106.2,389.0 106.5,389.1 106.9,389.2 107.2,389.2 107.5,389.2 107.8,389.3 108.2,389.4 108.5,389.6 108.8,389.8 109.2,390.1 109.5,390.2 109.8,390.4 110.1,390.4 110.5,390.4 110.8,390.2 111.1,390.1 111.5,389.9 111.8,389.8 112.1,389.8 112.4,389.8 112.8,390.0 113.1,390.2 113.4,390.5 113.8,390.7 114.1,390.8 114.4,390.7 114.8,390.4 115.1,390.0 115.4,389.4 115.7,388.9 116.1,388.6 116.4,388.4 116.7,388.5 117.1,388.7 117.4,389.0 117.7,389.2 118.0,389.5 118.4,389.7 118.7,389.9 119.0,390.0 119.4,390.2 119.7,390.4 120.0,390.7 120.3,391.1 120.7,391.4 121.0,391.7 121.3,391.9 121.7,391.8 122.0,391.5 122.3,391.1 122.6,390.7 123.0,390.3 123.3,390.1 123.6,390.1 124.0,390.2 124.3,390.3 124.6,390.3 124.9,390.2 125.3,389.9 125.6,389.5 125.9,389.0 126.3,388.3 126.6,387.6 126.9,386.8 127.2,386.1 127.6,385.4 127.9,384.7 128.2,383.9 128.6,382.9 128.9,381.7 129.2,380.4 129.5,379.3 129.9,378.9 130.2,380.0 130.5,382.2 130.9,384.3 131.2,385.9 131.5,387.0 131.8,387.8 132.2,388.3 132.5,388.8 132.8,389.2 133.2,389.4 133.5,389.6 133.8,389.6 134.1,389.6 134.5,389.4 134.8,389.2 135.1,389.0 135.5,388.6 135.8,388.0 136.1,387.5 136.5,387.1 136.8,387.3 137.1,387.9 137.4,388.5 137.8,389.1 138.1,389.6 138.4,390.0 138.8,390.2 139.1,390.3 139.4,390.3 139.7,390.2 140.1,390.0 140.4,389.9 140.7,389.7 141.1,389.6 141.4,389.5 141.7,389.6 142.0,389.8 142.4,390.0 142.7,390.3 143.0,390.5 143.4,390.6 143.7,390.7 144.0,390.7 144.3,390.7 144.7,390.5 145.0,390.4 145.3,390.1 145.7,389.9 146.0,389.7 146.3,389.6 146.6,389.6 147.0,389.7 147.3,389.9 147.6,390.0 148.0,390.1 148.3,390.1 148.6,390.2 148.9,390.2 149.3,390.2 149.6,390.2 149.9,390.0 150.3,389.5 150.6,389.0 150.9,388.3 151.2,387.6 151.6,386.9 151.9,386.0 152.2,385.1 152.6,384.0 152.9,382.7 153.2,381.2 153.5,379.4 153.9,377.1 154.2,374.2 154.5,370.4 154.9,365.4 155.2,358.7 155.5,349.8 155.9,338.2 156.2,323.5 156.5,305.7 156.8,286.0 157.2,267.7 157.5,256.2 157.8,258.5 158.2,282.0 158.5,311.6 158.8,336.2 159.1,353.6 159.5,365.1 159.8,372.4 160.1,377.0 160.5,380.0 160.8,382.1 161.1,383.5 161.4,384.7 161.8,385.6 162.1,386.4 162.4,387.0 162.8,387.5 163.1,387.9 163.4,388.3 163.7,388.7 164.1,389.1 164.4,389.4 164.7,389.8 165.1,390.0 165.4,390.1 165.7,390.1 166.0,390.0 166.4,389.8 166.7,389.6 167.0,389.5 167.4,389.5 167.7,389.5 168.0,389.5 168.3,389.6 168.7,389.5 169.0,389.5 169.3,389.3 169.7,389.1 170.0,388.8 170.3,388.5 170.6,388.2 171.0,387.7 171.3,387.2 171.6,386.7 172.0,386.2 172.3,385.8 172.6,385.2 172.9,384.5 173.3,383.5 173.6,382.0 173.9,379.9 174.3,377.1 174.6,373.4 174.9,368.7 175.2,362.7 175.6,355.4 175.9,347.2 176.2,339.4 176.6,334.4 176.9,335.1 177.2,344.8 177.6,357.1 177.9,367.3 178.2,374.7 178.5,379.6 178.9,382.9 179.2,385.0 179.5,386.5 179.9,387.4 180.2,388.1 180.5,388.5 180.8,388.8 181.2,389.0 181.5,389.0 181.8,389.0 182.2,388.8 182.5,388.4 182.8,387.9 183.1,387.2 183.5,386.4 183.8,385.3 184.1,384.1 184.5,382.5 184.8,380.7 185.1,378.4 185.4,375.8 185.8,372.9 186.1,369.8 186.4,366.9 186.8,364.6 187.1,363.4 187.4,364.0 187.7,367.2 188.1,371.8 188.4,376.4 188.7,380.3 189.1,383.2 189.4,385.4 189.7,387.0 190.0,388.1 190.4,388.8 190.7,389.2 191.0,389.4 191.4,389.6 191.7,389.7 192.0,389.8 192.3,390.0 192.7,390.2 193.0,390.5 193.3,390.7 193.7,390.9 194.0,391.0 194.3,391.1 194.6,391.2 195.0,391.1 195.3,391.0 195.6,390.7 196.0,390.3 196.3,389.8 196.6,389.3 197.0,388.8 197.3,388.4 197.6,388.1 197.9,387.8 198.3,387.5 198.6,387.0 198.9,386.5 199.3,385.8 199.6,384.9 199.9,384.0 200.2,382.8 200.6,381.5 200.9,380.0 201.2,378.1 201.6,375.8 201.9,372.6 202.2,368.5 202.5,363.2 202.9,356.3 203.2,348.0 203.5,338.7 203.9,329.6 204.2,323.3 204.5,322.7 204.8,331.2 205.2,342.2 205.5,351.0 205.8,356.6 206.2,359.8 206.5,361.2 206.8,361.5 207.1,361.1 207.5,360.4 207.8,359.7 208.1,359.0 208.5,358.7 208.8,358.9 209.1,360.2 209.4,362.5 209.8,365.4 210.1,368.5 210.4,371.7 210.8,374.7 211.1,377.4 211.4,379.7 211.7,381.6 212.1,383.1 212.4,384.2 212.7,385.0 213.1,385.7 213.4,386.2 213.7,386.6 214.0,387.0 214.4,387.4 214.7,387.8 215.0,388.1 215.4,388.6 215.7,389.1 216.0,389.6 216.3,390.3 216.7,390.9 217.0,391.5 217.3,391.9 217.7,392.0 218.0,391.9 218.3,391.7 218.7,391.4 219.0,391.0 219.3,390.6 219.6,390.2 220.0,389.8 220.3,389.3 220.6,388.9 221.0,388.4 221.3,387.8 221.6,387.1 221.9,386.1 222.3,384.9 222.6,383.8 222.9,383.0 223.3,383.4 223.6,384.5 223.9,385.8 224.2,386.7 224.6,387.4 224.9,387.8 225.2,388.2 225.6,388.3 225.9,388.4 226.2,388.2 226.5,387.8 226.9,387.1 227.2,385.9 227.5,384.3 227.9,382.2 228.2,379.5 228.5,376.7 228.8,374.3 229.2,373.2 229.5,374.9 229.8,378.7 230.2,382.4 230.5,385.2 230.8,387.1 231.1,388.2 231.5,388.8 231.8,389.1 232.1,389.2 232.5,389.2 232.8,389.1 233.1,389.0 233.4,388.7 233.8,388.4 234.1,388.0 234.4,387.5 234.8,386.9 235.1,386.2 235.4,385.2 235.7,384.1 236.1,383.0 236.4,382.4 236.7,382.5 237.1,384.0 237.4,385.9 237.7,387.4 238.1,388.4 238.4,389.1 238.7,389.5 239.0,389.7 239.4,389.9 239.7,390.0 240.0,390.0 240.4,390.0 240.7,390.1 241.0,390.1 241.3,390.1 241.7,390.1 242.0,390.0 242.3,389.7 242.7,389.3 243.0,388.8 243.3,388.3 243.6,387.8 244.0,387.4 244.3,387.1 244.6,386.9 245.0,386.6 245.3,386.1 245.6,385.5 245.9,384.5 246.3,383.4 246.6,382.1 246.9,380.7 247.3,379.4 247.6,378.4 247.9,377.7 248.2,377.4 248.6,377.9 248.9,379.3 249.2,381.1 249.6,382.9 249.9,384.4 250.2,385.6 250.5,386.6 250.9,387.3 251.2,387.8 251.5,388.2 251.9,388.6 252.2,389.0 252.5,389.4 252.8,389.8 253.2,390.2 253.5,390.6 253.8,391.0 254.2,391.3 254.5,391.4 254.8,391.3 255.1,391.0 255.5,390.7 255.8,390.3 256.1,390.0 256.5,389.9 256.8,389.8 257.1,389.9 257.4,389.9 257.8,389.8 258.1,389.6 258.4,389.3 258.8,388.8 259.1,388.3 259.4,387.6 259.8,387.0 260.1,386.4 260.4,385.7 260.7,385.0 261.1,384.3 261.4,383.5 261.7,382.7 262.1,381.9 262.4,381.3 262.7,380.9 263.0,380.8 263.4,381.0 263.7,381.6 264.0,382.3 264.4,383.1 264.7,383.9 265.0,384.7 265.3,385.3 265.7,385.7 266.0,385.8 266.3,385.4 266.7,384.6 267.0,383.3 267.3,381.5 267.6,379.2 268.0,376.5 268.3,373.3 268.6,369.8 269.0,366.6 269.3,364.5 269.6,364.6 269.9,368.2 270.3,372.7 270.6,376.4 270.9,378.7 271.3,380.0 271.6,380.3 271.9,379.9 272.2,378.9 272.6,377.3 272.9,375.0 273.2,372.0 273.6,367.9 273.9,362.8 274.2,356.3 274.5,348.6 274.9,340.6 275.2,334.0 275.5,330.8 275.9,335.0 276.2,344.8 276.5,353.7 276.8,359.3 277.2,361.7 277.5,361.2 277.8,358.4 278.2,353.7 278.5,347.5 278.8,340.8 279.2,335.4 279.5,333.6 279.8,339.0 280.1,349.9 280.5,360.5 280.8,368.5 281.1,373.9 281.5,377.4 281.8,379.5 282.1,380.8 282.4,381.7 282.8,382.3 283.1,382.8 283.4,383.1 283.8,383.3 284.1,383.2 284.4,382.9 284.7,382.4 285.1,381.7 285.4,380.7 285.7,379.5 286.1,377.7 286.4,375.3 286.7,371.9 287.0,367.4 287.4,361.6 287.7,354.6 288.0,346.9 288.4,339.7 288.7,335.1 289.0,335.7 289.3,344.1 289.7,354.7 290.0,363.0 290.3,368.3 290.7,370.9 291.0,371.3 291.3,370.3 291.6,368.2 292.0,366.0 292.3,364.5 292.6,365.2 293.0,369.2 293.3,374.1 293.6,378.1 293.9,381.0 294.3,383.0 294.6,384.3 294.9,385.2 295.3,386.0 295.6,386.7 295.9,387.3 296.2,387.9 296.6,388.3 296.9,388.7 297.2,389.0 297.6,389.2 297.9,389.2 298.2,389.1 298.5,388.9 298.9,388.7 299.2,388.6 299.5,388.5 299.9,388.4 300.2,388.4 300.5,388.4 300.9,388.5 301.2,388.6 301.5,388.7 301.8,388.8 302.2,388.8 302.5,388.6 302.8,388.2 303.2,387.7 303.5,387.0 303.8,386.1 304.1,385.1 304.5,383.8 304.8,382.3 305.1,380.4 305.5,377.8 305.8,374.5 306.1,370.5 306.4,365.9 306.8,361.5 307.1,358.7 307.4,358.9 307.8,364.0 308.1,370.5 308.4,375.9 308.7,379.6 309.1,382.0 309.4,383.2 309.7,383.6 310.1,383.4 310.4,382.7 310.7,381.5 311.0,379.8 311.4,377.6 311.7,374.7 312.0,370.9 312.4,366.2 312.7,360.9 313.0,355.9 313.3,352.5 313.7,352.5 314.0,357.9 314.3,364.7 314.7,370.1 315.0,373.3 315.3,374.6 315.6,374.3 316.0,372.6 316.3,369.7 316.6,366.0 317.0,361.8 317.3,358.3 317.6,356.8 317.9,359.4 318.3,365.3 318.6,371.1 318.9,375.5 319.3,378.4 319.6,380.2 319.9,381.2 320.3,381.5 320.6,381.2 320.9,380.7 321.2,379.9 321.6,379.1 321.9,378.5 322.2,378.2 322.6,378.5 322.9,379.3 323.2,380.6 323.5,381.9 323.9,383.2 324.2,384.2 324.5,385.1 324.9,385.8 325.2,386.4 325.5,387.0 325.8,387.6 326.2,388.2 326.5,388.7 326.8,389.2 327.2,389.6 327.5,389.9 327.8,390.1 328.1,390.2 328.5,390.2 328.8,390.0 329.1,389.8 329.5,389.6 329.8,389.4 330.1,389.4 330.4,389.6 330.8,389.8 331.1,389.9 331.4,389.9 331.8,389.7 332.1,389.3 332.4,388.9 332.7,388.3 333.1,387.8 333.4,387.2 333.7,386.6 334.1,385.8 334.4,384.9 334.7,383.6 335.0,381.8 335.4,379.5 335.7,376.5 336.0,373.0 336.4,369.5 336.7,366.7 337.0,365.7 337.3,368.3 337.7,373.7 338.0,378.8 338.3,382.6 338.7,385.2 339.0,386.8 339.3,387.7 339.6,388.2 340.0,388.6 340.3,388.8 340.6,389.0 341.0,389.1 341.3,389.3 341.6,389.5 342.0,389.7 342.3,389.9 342.6,390.0 342.9,390.1 343.3,390.1 343.6,390.0 343.9,390.0 344.3,389.9 344.6,389.8 344.9,389.8 345.2,389.7 345.6,389.6 345.9,389.4 346.2,389.2 346.6,388.9 346.9,388.4 347.2,387.7 347.5,386.8 347.9,385.7 348.2,384.5 348.5,383.1 348.9,381.7 349.2,380.4 349.5,379.4 349.8,379.0 350.2,379.3 350.5,380.6 350.8,382.6 351.2,384.6 351.5,386.3 351.8,387.7 352.1,388.6 352.5,389.2 352.8,389.5 353.1,389.6 353.5,389.6 353.8,389.6 354.1,389.6 354.4,389.4 354.8,389.1 355.1,388.7 355.4,388.4 355.8,388.2 356.1,388.0 356.4,387.9 356.7,387.7 357.1,387.4 357.4,387.2 357.7,386.9 358.1,386.7 358.4,386.5 358.7,386.2 359.0,386.0 359.4,385.7 359.7,385.4 360.0,385.1 360.4,384.7 360.7,384.3 361.0,383.9 361.4,383.5 361.7,383.1 362.0,383.0 362.3,383.1 362.7,383.1 363.0,383.1 363.3,383.1 363.7,383.2 364.0,383.2 364.3,383.2 364.6,383.3 365.0,383.4 365.3,383.4 365.6,383.2 366.0,382.8 366.3,382.0 366.6,380.7 366.9,378.8 367.3,376.2 367.6,373.1 367.9,369.6 368.3,365.8 368.6,362.6 368.9,360.7 369.2,361.6 369.6,366.4 369.9,372.2 370.2,376.7 370.6,379.5 370.9,380.7 371.2,380.8 371.5,380.2 371.9,379.0 372.2,377.7 372.5,376.4 372.9,375.3 373.2,374.7 373.5,375.0 373.8,376.6 374.2,378.8 374.5,380.9 374.8,382.6 375.2,383.8 375.5,384.6 375.8,385.0 376.1,385.1 376.5,385.0 376.8,384.7 377.1,384.1 377.5,382.9 377.8,381.4 378.1,379.6 378.4,377.5 378.8,374.8 379.1,371.6 379.4,367.9 379.8,363.5 380.1,358.5 380.4,352.9 380.7,346.8 381.1,340.5 381.4,334.3 381.7,328.8 382.1,324.7 382.4,322.5 382.7,324.0 383.1,327.7 383.4,331.7 383.7,335.1 384.0,337.7 384.4,339.5 384.7,340.9 385.0,342.1 385.4,343.3 385.7,345.1 386.0,347.8 386.3,351.3 386.7,355.2 387.0,359.1 387.3,362.9 387.7,366.4 388.0,369.4 388.3,372.0 388.6,374.3 389.0,376.2 389.3,377.9 389.6,379.3 390.0,380.6 390.3,381.7 390.6,382.5 390.9,383.3 391.3,383.9 391.6,384.5 391.9,384.8 392.3,385.1 392.6,385.1 392.9,384.9 393.2,384.4 393.6,383.7 393.9,382.6 394.2,381.3 394.6,379.7 394.9,377.8 395.2,375.7 395.5,373.4 395.9,371.0 396.2,369.1 396.5,368.0 396.9,368.2 397.2,370.6 397.5,374.2 397.8,377.8 398.2,380.8 398.5,383.1 398.8,384.9 399.2,386.1 399.5,386.9 399.8,387.4 400.1,387.8 400.5,388.0 400.8,388.2 401.1,388.3 401.5,388.5 401.8,388.7 402.1,388.9 402.5,389.1 402.8,389.3 403.1,389.5 403.4,389.8 403.8,390.1 404.1,390.5 404.4,390.8 404.8,391.1 405.1,391.2 405.4,391.3 405.7,391.1 406.1,390.9 406.4,390.5 406.7,390.1 407.1,389.8 407.4,389.5 407.7,389.2 408.0,389.1 408.4,389.0 408.7,388.9 409.0,388.9 409.4,388.9 409.7,389.0 410.0,389.2 410.3,389.3 410.7,389.4 411.0,389.5 411.3,389.6 411.7,389.5 412.0,389.5 412.3,389.3 412.6,389.2 413.0,389.0 413.3,388.9 413.6,388.8 414.0,388.8 414.3,388.8 414.6,388.7 414.9,388.4 415.3,388.0 415.6,387.3 415.9,386.3 416.3,385.1 416.6,383.6 416.9,382.2 417.2,381.1 417.6,380.8 417.9,381.8 418.2,383.8 418.6,385.6 418.9,386.9 419.2,387.6 419.5,387.9 419.9,388.1 420.2,388.0 420.5,387.9 420.9,387.8 421.2,387.5 421.5,387.0 421.8,386.4 422.2,385.6 422.5,384.6 422.8,383.6 423.2,382.5 423.5,381.9 423.8,382.0 424.2,383.4 424.5,385.1 424.8,386.5 425.1,387.4 425.5,388.1 425.8,388.6 426.1,388.9 426.5,389.2 426.8,389.3 427.1,389.3 427.4,389.3 427.8,389.2 428.1,389.2 428.4,389.1 428.8,389.0 429.1,388.8 429.4,388.6 429.7,388.4 430.1,388.2 430.4,387.9 430.7,387.7 431.1,387.5 431.4,387.3 431.7,387.2 432.0,387.0 432.4,386.8 432.7,386.5 433.0,386.2 433.4,385.9 433.7,385.6 434.0,385.2 434.3,384.7 434.7,384.1 435.0,383.4 435.3,382.6 435.7,381.7 436.0,381.0 436.3,380.6 436.6,380.4 437.0,380.8 437.3,381.6 437.6,382.7 438.0,383.9 438.3,384.9 438.6,385.8 438.9,386.5 439.3,387.0 439.6,387.5 439.9,388.0 440.3,388.3 440.6,388.6 440.9,388.7 441.2,388.7 441.6,388.6 441.9,388.4 442.2,388.3 442.6,388.2 442.9,388.3 443.2,388.5 443.6,388.8 443.9,389.2 444.2,389.6 444.5,390.0 444.9,390.4 445.2,390.8 445.5,391.1 445.9,391.3 446.2,391.4 446.5,391.3 446.8,391.2 447.2,391.1 447.5,390.9 447.8,390.7 448.2,390.5 448.5,390.4 448.8,390.3 449.1,390.4 449.5,390.6 449.8,390.9 450.1,391.2 450.5,391.5 450.8,391.5 451.1,391.4 451.4,391.0 451.8,390.5 452.1,389.9 452.4,389.5 452.8,389.1 453.1,388.9 453.4,388.8 453.7,388.8 454.1,389.0 454.4,389.1 454.7,389.4 455.1,389.6 455.4,389.7 455.7,389.9 456.0,390.0 456.4,390.1 456.7,390.1 457.0,390.1 457.4,390.1 457.7,390.1 458.0,390.1 458.3,390.2 458.7,390.2 459.0,390.2 459.3,390.2 459.7,390.1 460.0,390.0 460.3,389.7 460.6,389.4 461.0,389.1 461.3,388.8 461.6,388.6 462.0,388.6 462.3,388.6 462.6,388.7 462.9,388.7 463.3,388.7 463.6,388.5 463.9,388.2 464.3,387.8 464.6,387.3 464.9,386.8 465.3,386.2 465.6,385.5 465.9,384.8 466.2,383.9 466.6,382.8 466.9,381.4 467.2,379.7 467.6,377.9 467.9,375.9 468.2,374.0 468.5,372.4 468.9,371.5 469.2,371.4 469.5,373.0 469.9,375.4 470.2,378.0 470.5,380.2 470.8,382.0 471.2,383.3 471.5,384.2 471.8,384.7 472.2,384.8 472.5,384.5 472.8,383.9 473.1,382.9 473.5,381.5 473.8,380.0 474.1,378.4 474.5,376.9 474.8,375.8 475.1,375.3 475.4,376.0 475.8,377.9 476.1,380.2 476.4,382.6 476.8,384.6 477.1,386.3 477.4,387.7 477.7,388.8 478.1,389.6 478.4,390.2 478.7,390.6 479.1,390.9 479.4,391.1 479.7,391.2 480.0,391.2 480.4,391.1 480.7,390.9 481.0,390.7 481.4,390.6 481.7,390.6 482.0,390.8 482.3,391.0 482.7,391.3 483.0,391.7 483.3,391.9 483.7,392.1 484.0,392.2 484.3,392.4 484.7,392.5 485.0,392.7 485.3,392.8 485.6,392.8 486.0,392.7 486.3,392.4 486.6,392.0 487.0,391.6 487.3,391.2 487.6,390.9 487.9,390.6 488.3,390.4 488.6,390.2 488.9,390.1 489.3,389.9 489.6,389.7 489.9,389.4 490.2,389.2 490.6,388.9 490.9,388.6 491.2,388.3 491.6,388.0 491.9,387.6 492.2,387.2 492.5,386.8 492.9,386.3 493.2,385.8 493.5,385.3 493.9,384.8 494.2,384.3 494.5,383.9 494.8,383.6 495.2,383.3 495.5,383.2 495.8,383.1 496.2,383.3 496.5,383.7 496.8,384.2 497.1,385.0 497.5,385.9 497.8,386.8 498.1,387.6 498.5,388.4 498.8,389.0 499.1,389.5 499.4,389.9 499.8,390.3 500.1,390.7 500.4,391.1 500.8,391.5 501.1,391.9 501.4,392.2 501.7,392.3 502.1,392.2 502.4,392.0 502.7,391.6 503.1,391.2 503.4,390.8 503.7,390.6 504.0,390.5 504.4,390.6 504.7,390.8 505.0,391.1 505.4,391.4 505.7,391.7 506.0,391.9 506.4,392.0 506.7,392.1 507.0,392.3 507.3,392.5 507.7,392.7 508.0,393.0 508.3,393.2 508.7,393.3 509.0,393.1 509.3,392.9 509.6,392.6 510.0,392.3 510.3,392.0 510.6,391.9 511.0,391.8 511.3,391.7 511.6,391.6 511.9,391.6 512.3,391.5 512.6,391.5 512.9,391.4 513.3,391.4 513.6,391.4 513.9,391.4 514.2,391.3 514.6,391.2 514.9,391.0 515.2,390.8 515.6,390.5 515.9,390.2 516.2,389.8 516.5,389.3 516.9,388.8 517.2,388.3 517.5,387.8 517.9,387.2 518.2,386.5 518.5,385.6 518.8,384.6 519.2,383.4 519.5,382.2 519.8,381.3 520.2,380.7 520.5,381.0 520.8,382.1 521.1,383.6 521.5,385.0 521.8,386.2 522.1,387.1 522.5,387.9 522.8,388.4 523.1,388.7 523.4,389.0 523.8,389.2 524.1,389.4 524.4,389.6 524.8,389.8 525.1,390.0 525.4,390.1 525.8,390.2 526.1,390.3 526.4,390.3 526.7,390.2 527.1,390.0 527.4,389.7 527.7,389.3 528.1,388.9 528.4,388.6 528.7,388.2 529.0,387.9 529.4,387.6 529.7,387.2 530.0,386.9 530.4,386.4 530.7,386.0 531.0,385.4 531.3,384.9 531.7,384.3 532.0,383.7 532.3,383.1 532.7,382.5 533.0,381.8 533.3,381.1 533.6,380.4 534.0,379.7 534.3,379.1 534.6,378.6 535.0,378.2 535.3,378.0 535.6,377.9 535.9,378.2 536.3,378.7 536.6,379.5 536.9,380.4 537.3,381.3 537.6,382.2 537.9,383.0 538.2,383.6 538.6,384.0 538.9,384.2 539.2,384.1 539.6,383.8 539.9,383.4 540.2,382.8 540.5,382.2 540.9,381.6 541.2,381.0 541.5,380.4 541.9,379.8 542.2,379.1 542.5,378.4 542.8,377.7 543.2,376.8 543.5,376.0 543.8,375.3 544.2,374.7 544.5,374.3 544.8,374.0 545.1,373.9 545.5,373.9 545.8,374.4 546.1,375.2 546.5,376.4 546.8,377.8 547.1,379.3 547.5,380.7 547.8,382.1 548.1,383.3 548.4,384.4 548.8,385.4 549.1,386.3 549.4,387.1 549.8,387.9 550.1,388.5 550.4,389.2 550.7,389.8 551.1,390.5 551.4,391.1 551.7,391.7 552.1,392.2 552.4,392.5 552.7,392.7 553.0,392.7 553.4,392.7 553.7,392.6 554.0,392.7 554.4,392.7 554.7,392.8 555.0,392.8 555.3,392.7 555.7,392.6 556.0,392.4 556.3,392.1 556.7,391.8 557.0,391.5 557.3,391.2 557.6,390.9 558.0,390.6 558.3,390.3 558.6,390.2 559.0,390.1 559.3,390.1 559.6,390.1 559.9,390.0 560.3,389.7 560.6,389.4 560.9,389.0 561.3,388.7 561.6,388.4 561.9,388.1 562.2,388.0 562.6,387.9 562.9,387.8 563.2,387.7 563.6,387.5 563.9,387.4 564.2,387.2 564.5,386.9 564.9,386.7 565.2,386.4 565.5,386.2 565.9,386.1 566.2,386.0 566.5,385.9 566.9,385.8 567.2,385.6 567.5,385.4 567.8,385.2 568.2,385.0 568.5,384.8 568.8,384.5 569.2,384.3 569.5,384.1 569.8,383.8 570.1,383.6 570.5,383.5 570.8,383.4 571.1,383.6 571.5,383.9 571.8,384.4 572.1,385.1 572.4,385.9 572.8,386.7 573.1,387.3 573.4,387.8 573.8,388.2 574.1,388.5 574.4,388.7 574.7,388.8 575.1,389.0 575.4,389.2 575.7,389.4 576.1,389.5 576.4,389.7 576.7,389.8 577.0,390.0 577.4,390.2 577.7,390.5 578.0,390.8 578.4,391.1 578.7,391.2 579.0,391.3 579.3,391.3 579.7,391.4 580.0,391.5 580.3,391.7 580.7,392.0 581.0,392.1 581.3,392.2 581.6,392.1 582.0,391.9 582.3,391.6 582.6,391.3 583.0,391.1 583.3,391.1 583.6,391.2 583.9,391.4 584.3,391.7 584.6,392.0 584.9,392.2 585.3,392.3 585.6,392.3 585.9,392.1 586.2,392.0 586.6,391.8 586.9,391.6 587.2,391.4 587.6,391.2 587.9,391.1 588.2,391.2 588.6,391.3 588.9,391.5 589.2,391.8 589.5,392.1 589.9,392.2 590.2,392.2 590.5,392.1 590.9,391.8 591.2,391.5 591.5,391.1 591.8,390.7 592.2,390.5 592.5,390.5 592.8,390.6 593.2,390.8 593.5,391.0 593.8,391.1 594.1,391.2 594.5,391.2 594.8,391.1 595.1,391.0 595.5,390.9 595.8,390.8 596.1,390.8 596.4,390.9 596.8,391.0 597.1,391.0 597.4,391.0 597.8,391.0 598.1,390.9 598.4,390.8 598.7,390.5 599.1,390.1 599.4,389.7 599.7,389.1 600.1,388.4 600.4,387.8 600.7,387.1 601.0,386.4 601.4,385.8 601.7,385.2 602.0,384.5 602.4,383.9 602.7,383.2 603.0,382.4 603.3,381.6 603.7,380.7 604.0,379.6 604.3,378.5 604.7,377.3 605.0,376.2 605.3,375.3 605.6,374.9 606.0,375.1 606.3,376.1 606.6,377.4 607.0,378.8 607.3,380.0 607.6,381.1 608.0,382.1 608.3,382.9 608.6,383.6 608.9,384.3 609.3,384.8 609.6,385.2 609.9,385.3 610.3,385.3 610.6,384.9 610.9,384.4 611.2,383.7 611.6,382.9 611.9,382.1 612.2,381.5 612.6,381.0 612.9,380.6 613.2,380.5 613.5,380.5 613.9,380.9 614.2,381.5 614.5,382.2 614.9,382.9 615.2,383.5 615.5,384.1 615.8,384.7 616.2,385.3 616.5,386.0 616.8,386.7 617.2,387.6 617.5,388.4 617.8,389.1 618.1,389.5 618.5,389.7 618.8,389.6 619.1,389.3 619.5,389.1 619.8,388.9 620.1,388.9 620.4,389.1 620.8,389.3 621.1,389.6 621.4,389.7 621.8,389.8 622.1,389.8 622.4,389.7 622.7,389.6 623.1,389.5 623.4,389.4 623.7,389.3 624.1,389.2 624.4,389.0 624.7,388.7 625.0,388.4 625.4,388.1 625.7,387.8 626.0,387.6 626.4,387.6 626.7,387.6 627.0,387.7 627.3,387.8 627.7,387.7 628.0,387.5 628.3,387.2 628.7,386.9 629.0,386.6 629.3,386.5 629.7,386.6 630.0,386.8 630.3,387.1 630.6,387.5 631.0,387.9 631.3,388.2 631.6,388.5 632.0,388.7 632.3,388.8 632.6,388.8 632.9,388.8 633.3,388.6 633.6,388.5 633.9,388.3 634.3,388.3 634.6,388.3 634.9,388.4 635.2,388.5 635.6,388.6 635.9,388.7 636.2,388.7 636.6,388.7 636.9,388.7 637.2,388.7 637.5,388.8 637.9,388.8 638.2,388.8" fill="none" stroke="#af77de" stroke-width="3.9" stroke-linejoin="round"/>
<path d="M62.8,230.1 63.1,229.9 63.5,229.8 63.8,229.6 64.1,229.5 64.4,229.6 64.8,229.8 65.1,230.0 65.4,230.2 65.8,230.4 66.1,230.4 66.4,230.3 66.7,230.2 67.1,230.1 67.4,230.0 67.7,230.1 68.1,230.3 68.4,230.5 68.7,230.7 69.0,230.9 69.4,231.0 69.7,231.0 70.0,231.1 70.4,231.1 70.7,231.1 71.0,231.0 71.3,231.0 71.7,230.9 72.0,230.8 72.3,230.7 72.7,230.5 73.0,230.4 73.3,230.3 73.7,230.1 74.0,229.9 74.3,229.6 74.6,229.4 75.0,229.2 75.3,229.1 75.6,229.1 76.0,229.2 76.3,229.3 76.6,229.5 76.9,229.7 77.3,229.9 77.6,230.1 77.9,230.3 78.3,230.3 78.6,230.3 78.9,230.1 79.2,229.9 79.6,229.7 79.9,229.4 80.2,229.1 80.6,228.8 80.9,228.5 81.2,228.2 81.5,228.0 81.9,227.8 82.2,227.7 82.5,227.5 82.9,227.3 83.2,227.2 83.5,227.0 83.8,226.9 84.2,226.7 84.5,226.6 84.8,226.4 85.2,226.3 85.5,226.0 85.8,225.8 86.1,225.5 86.5,225.1 86.8,224.7 87.1,224.2 87.5,223.5 87.8,222.8 88.1,222.0 88.4,221.0 88.8,219.8 89.1,218.4 89.4,216.7 89.8,214.4 90.1,211.6 90.4,208.2 90.7,204.2 91.1,199.6 91.4,194.4 91.7,188.6 92.1,182.4 92.4,176.0 92.7,169.9 93.0,164.7 93.4,161.1 93.7,160.0 94.0,162.9 94.4,170.4 94.7,180.0 95.0,189.4 95.4,197.7 95.7,204.5 96.0,209.9 96.3,214.1 96.7,217.4 97.0,219.9 97.3,222.0 97.7,223.7 98.0,225.1 98.3,226.2 98.6,227.0 99.0,227.4 99.3,227.7 99.6,227.7 100.0,227.7 100.3,227.8 100.6,227.9 100.9,228.1 101.3,228.3 101.6,228.5 101.9,228.8 102.3,229.1 102.6,229.5 102.9,230.0 103.2,230.4 103.6,230.8 103.9,231.2 104.2,231.4 104.6,231.5 104.9,231.5 105.2,231.5 105.5,231.3 105.9,231.2 106.2,231.0 106.5,230.9 106.9,230.9 107.2,230.8 107.5,230.8 107.8,230.8 108.2,230.8 108.5,230.8 108.8,230.9 109.2,230.9 109.5,230.9 109.8,230.8 110.1,230.7 110.5,230.7 110.8,230.7 111.1,230.8 111.5,230.8 111.8,230.9 112.1,230.8 112.4,230.7 112.8,230.6 113.1,230.4 113.4,230.3 113.8,230.3 114.1,230.3 114.4,230.4 114.8,230.6 115.1,230.8 115.4,231.1 115.7,231.3 116.1,231.5 116.4,231.7 116.7,231.7 117.1,231.8 117.4,231.8 117.7,231.8 118.0,232.0 118.4,232.1 118.7,232.3 119.0,232.5 119.4,232.6 119.7,232.6 120.0,232.6 120.3,232.6 120.7,232.6 121.0,232.6 121.3,232.7 121.7,232.8 122.0,232.8 122.3,232.6 122.6,232.4 123.0,232.1 123.3,231.9 123.6,231.6 124.0,231.5 124.3,231.3 124.6,231.1 124.9,230.8 125.3,230.4 125.6,230.0 125.9,229.5 126.3,228.9 126.6,228.4 126.9,227.7 127.2,227.0 127.6,225.9 127.9,224.6 128.2,222.8 128.6,220.8 128.9,219.0 129.2,218.1 129.5,219.2 129.9,221.8 130.2,224.5 130.5,226.5 130.9,228.0 131.2,228.9 131.5,229.5 131.8,229.9 132.2,230.0 132.5,230.0 132.8,229.9 133.2,229.7 133.5,229.4 133.8,229.0 134.1,228.4 134.5,227.7 134.8,226.9 135.1,226.0 135.5,225.0 135.8,224.2 136.1,223.7 136.5,223.9 136.8,225.2 137.1,226.7 137.4,228.0 137.8,228.8 138.1,229.4 138.4,229.7 138.8,230.0 139.1,230.2 139.4,230.5 139.7,230.6 140.1,230.8 140.4,230.9 140.7,231.0 141.1,231.1 141.4,231.2 141.7,231.3 142.0,231.5 142.4,231.7 142.7,231.9 143.0,232.1 143.4,232.3 143.7,232.5 144.0,232.7 144.3,233.0 144.7,233.1 145.0,233.3 145.3,233.3 145.7,233.3 146.0,233.3 146.3,233.2 146.6,233.0 147.0,232.9 147.3,232.7 147.6,232.5 148.0,232.3 148.3,232.2 148.6,232.1 148.9,232.1 149.3,232.2 149.6,232.2 149.9,232.1 150.3,231.7 150.6,231.2 150.9,230.6 151.2,229.8 151.6,229.0 151.9,227.9 152.2,226.7 152.6,225.3 152.9,223.5 153.2,221.4 153.5,218.6 153.9,215.0 154.2,210.2 154.5,204.0 154.9,195.8 155.2,185.0 155.5,171.2 155.9,154.2 156.2,134.2 156.5,113.6 156.8,96.9 157.2,90.2 157.5,104.1 157.8,133.7 158.2,162.6 158.5,184.4 158.8,199.4 159.1,209.3 159.5,215.6 159.8,219.7 160.1,222.3 160.5,224.1 160.8,225.4 161.1,226.3 161.4,227.1 161.8,227.8 162.1,228.4 162.4,228.9 162.8,229.5 163.1,230.0 163.4,230.6 163.7,231.1 164.1,231.5 164.4,231.8 164.7,231.9 165.1,232.0 165.4,231.9 165.7,231.9 166.0,231.9 166.4,232.0 166.7,232.0 167.0,232.0 167.4,231.9 167.7,231.6 168.0,231.3 168.3,231.1 168.7,230.8 169.0,230.8 169.3,230.8 169.7,231.0 170.0,231.3 170.3,231.6 170.6,231.8 171.0,231.8 171.3,231.6 171.6,231.1 172.0,230.3 172.3,229.3 172.6,228.1 172.9,226.6 173.3,224.8 173.6,222.5 173.9,219.7 174.3,216.1 174.6,211.6 174.9,206.1 175.2,199.9 175.6,194.2 175.9,190.5 176.2,191.2 176.6,198.5 176.9,207.8 177.2,215.4 177.6,220.8 177.9,224.3 178.2,226.6 178.5,228.0 178.9,228.8 179.2,229.2 179.5,229.3 179.9,229.1 180.2,228.8 180.5,228.4 180.8,227.8 181.2,227.0 181.5,226.0 181.8,224.7 182.2,223.2 182.5,221.3 182.8,219.0 183.1,216.1 183.5,212.3 183.8,207.5 184.1,201.3 184.5,193.7 184.8,184.9 185.1,175.5 185.4,167.5 185.8,163.3 186.1,166.7 186.4,176.1 186.8,184.7 187.1,190.3 187.4,192.9 187.7,193.4 188.1,192.6 188.4,191.2 188.7,189.8 189.1,188.7 189.4,188.3 189.7,188.8 190.0,191.4 190.4,195.6 190.7,200.5 191.0,205.6 191.4,210.3 191.7,214.5 192.0,218.0 192.3,220.9 192.7,223.2 193.0,225.1 193.3,226.6 193.7,227.7 194.0,228.7 194.3,229.5 194.6,230.2 195.0,230.8 195.3,231.3 195.6,231.7 196.0,231.9 196.3,231.9 196.6,231.7 197.0,231.3 197.3,230.8 197.6,230.0 197.9,229.1 198.3,228.1 198.6,226.8 198.9,225.3 199.3,223.5 199.6,221.4 199.9,218.7 200.2,215.2 200.6,210.8 200.9,205.0 201.2,197.6 201.6,188.1 201.9,176.2 202.2,162.2 202.5,147.0 202.9,133.1 203.2,123.8 203.5,124.8 203.9,133.0 204.2,138.4 204.5,138.0 204.8,133.2 205.2,127.9 205.5,127.0 205.8,137.6 206.2,157.4 206.5,176.1 206.8,190.0 207.1,199.4 207.5,205.4 207.8,209.1 208.1,211.4 208.5,213.0 208.8,214.0 209.1,214.8 209.4,215.3 209.8,215.7 210.1,215.9 210.4,216.1 210.8,216.2 211.1,216.3 211.4,216.4 211.7,216.6 212.1,216.9 212.4,217.2 212.7,217.6 213.1,218.2 213.4,218.9 213.7,219.6 214.0,220.5 214.4,221.5 214.7,222.5 215.0,223.7 215.4,224.9 215.7,226.0 216.0,227.2 216.3,228.2 216.7,229.0 217.0,229.7 217.3,230.2 217.7,230.6 218.0,231.1 218.3,231.5 218.7,231.9 219.0,232.3 219.3,232.7 219.6,233.1 220.0,233.5 220.3,233.8 220.6,234.0 221.0,234.1 221.3,234.2 221.6,234.2 221.9,234.3 222.3,234.3 222.6,234.4 222.9,234.6 223.3,234.7 223.6,234.9 223.9,235.1 224.2,235.1 224.6,235.0 224.9,234.5 225.2,233.7 225.6,232.6 225.9,231.0 226.2,228.9 226.5,226.3 226.9,223.1 227.2,219.4 227.5,215.2 227.9,211.3 228.2,208.7 228.5,209.0 228.8,213.6 229.2,219.4 229.5,224.2 229.8,227.6 230.2,229.8 230.5,231.2 230.8,232.1 231.1,232.6 231.5,232.8 231.8,232.8 232.1,232.5 232.5,232.1 232.8,231.6 233.1,230.9 233.4,230.1 233.8,229.1 234.1,227.9 234.4,226.7 234.8,225.5 235.1,224.8 235.4,225.0 235.7,226.5 236.1,228.4 236.4,229.9 236.7,230.8 237.1,231.3 237.4,231.6 237.7,231.9 238.1,232.0 238.4,232.2 238.7,232.4 239.0,232.5 239.4,232.5 239.7,232.5 240.0,232.4 240.4,232.2 240.7,232.1 241.0,232.0 241.3,231.9 241.7,231.8 242.0,231.7 242.3,231.4 242.7,231.1 243.0,230.8 243.3,230.4 243.6,230.0 244.0,229.6 244.3,229.3 244.6,229.0 245.0,228.7 245.3,228.4 245.6,227.9 245.9,227.3 246.3,226.6 246.6,225.7 246.9,224.7 247.3,223.9 247.6,223.2 247.9,222.8 248.2,222.9 248.6,223.5 248.9,224.6 249.2,225.8 249.6,227.1 249.9,228.3 250.2,229.3 250.5,230.1 250.9,230.8 251.2,231.4 251.5,231.8 251.9,232.1 252.2,232.4 252.5,232.5 252.8,232.5 253.2,232.5 253.5,232.4 253.8,232.4 254.2,232.5 254.5,232.5 254.8,232.6 255.1,232.6 255.5,232.7 255.8,232.7 256.1,232.8 256.5,232.8 256.8,232.9 257.1,232.9 257.4,232.9 257.8,232.8 258.1,232.6 258.4,232.4 258.8,232.1 259.1,231.9 259.4,231.6 259.8,231.3 260.1,231.0 260.4,230.6 260.7,230.3 261.1,230.0 261.4,229.6 261.7,229.3 262.1,228.9 262.4,228.4 262.7,227.8 263.0,227.3 263.4,226.7 263.7,226.2 264.0,225.6 264.4,224.9 264.7,224.0 265.0,222.7 265.3,221.0 265.7,218.7 266.0,215.8 266.3,212.1 266.7,207.7 267.0,202.8 267.3,197.9 267.6,193.7 268.0,191.4 268.3,192.9 268.6,197.3 269.0,201.5 269.3,204.4 269.6,206.0 269.9,206.7 270.3,206.8 270.6,206.5 270.9,206.0 271.3,205.2 271.6,204.3 271.9,203.2 272.2,202.0 272.6,200.5 272.9,198.5 273.2,195.9 273.6,192.5 273.9,188.4 274.2,184.1 274.5,180.5 274.9,179.2 275.2,182.5 275.5,189.3 275.9,195.5 276.2,199.5 276.5,201.2 276.8,201.0 277.2,199.2 277.5,196.2 277.8,192.5 278.2,188.8 278.5,186.5 278.8,187.3 279.2,192.9 279.5,199.8 279.8,205.3 280.1,209.0 280.5,211.2 280.8,212.7 281.1,213.6 281.5,214.3 281.8,214.7 282.1,215.0 282.4,215.1 282.8,215.0 283.1,214.8 283.4,214.6 283.8,214.3 284.1,213.9 284.4,213.4 284.7,212.5 285.1,211.2 285.4,209.3 285.7,206.8 286.1,203.6 286.4,199.6 286.7,195.2 287.0,191.0 287.4,188.2 287.7,188.1 288.0,192.3 288.4,197.5 288.7,201.2 289.0,202.9 289.3,202.6 289.7,200.6 290.0,197.1 290.3,192.6 290.7,188.2 291.0,185.5 291.3,186.7 291.6,193.9 292.0,202.8 292.3,210.3 292.6,215.6 293.0,219.3 293.3,221.9 293.6,223.6 293.9,224.8 294.3,225.6 294.6,226.1 294.9,226.5 295.3,226.7 295.6,227.0 295.9,227.2 296.2,227.4 296.6,227.6 296.9,227.7 297.2,227.9 297.6,228.0 297.9,228.1 298.2,228.1 298.5,228.2 298.9,228.2 299.2,228.1 299.5,227.9 299.9,227.7 300.2,227.3 300.5,226.8 300.9,226.2 301.2,225.5 301.5,224.6 301.8,223.6 302.2,222.4 302.5,220.8 302.8,218.8 303.2,216.1 303.5,212.4 303.8,207.6 304.1,201.4 304.5,193.9 304.8,185.6 305.1,177.8 305.5,172.8 305.8,173.4 306.1,183.0 306.4,195.0 306.8,204.9 307.1,211.9 307.4,216.4 307.8,219.1 308.1,220.6 308.4,221.5 308.7,221.8 309.1,221.9 309.4,221.8 309.7,221.6 310.1,221.2 310.4,220.6 310.7,219.6 311.0,218.0 311.4,215.7 311.7,212.7 312.0,209.1 312.4,205.4 312.7,202.3 313.0,200.9 313.3,202.8 313.7,207.1 314.0,211.1 314.3,213.6 314.7,214.7 315.0,214.4 315.3,213.2 315.6,211.1 316.0,208.2 316.3,204.9 316.6,201.8 317.0,199.9 317.3,200.6 317.6,205.5 317.9,211.6 318.3,216.8 318.6,220.5 318.9,223.2 319.3,224.9 319.6,226.1 319.9,227.0 320.3,227.6 320.6,228.2 320.9,228.6 321.2,229.0 321.6,229.3 321.9,229.5 322.2,229.6 322.6,229.6 322.9,229.5 323.2,229.3 323.5,229.0 323.9,228.7 324.2,228.5 324.5,228.4 324.9,228.5 325.2,228.8 325.5,229.3 325.8,229.7 326.2,230.1 326.5,230.4 326.8,230.6 327.2,230.8 327.5,230.9 327.8,230.9 328.1,230.8 328.5,230.7 328.8,230.4 329.1,230.1 329.5,229.7 329.8,229.3 330.1,228.9 330.4,228.7 330.8,228.5 331.1,228.4 331.4,228.4 331.8,228.3 332.1,228.1 332.4,227.7 332.7,226.9 333.1,225.5 333.4,223.6 333.7,221.0 334.1,217.7 334.4,214.1 334.7,210.7 335.0,208.4 335.4,208.4 335.7,211.9 336.0,216.4 336.4,220.2 336.7,223.0 337.0,224.7 337.3,225.7 337.7,226.3 338.0,226.6 338.3,226.9 338.7,227.1 339.0,227.4 339.3,227.8 339.6,228.1 340.0,228.5 340.3,228.7 340.6,228.8 341.0,228.6 341.3,228.3 341.6,227.7 342.0,227.0 342.3,226.2 342.6,225.4 342.9,224.6 343.3,223.7 343.6,222.9 343.9,222.2 344.3,221.5 344.6,220.8 344.9,220.4 345.2,220.1 345.6,220.1 345.9,220.4 346.2,221.1 346.6,222.1 346.9,223.0 347.2,223.9 347.5,224.7 347.9,225.4 348.2,226.1 348.5,226.6 348.9,227.0 349.2,227.2 349.5,227.4 349.8,227.4 350.2,227.3 350.5,227.1 350.8,226.9 351.2,226.6 351.5,226.3 351.8,226.0 352.1,225.6 352.5,225.2 352.8,224.8 353.1,224.3 353.5,223.8 353.8,223.3 354.1,222.7 354.4,222.3 354.8,221.9 355.1,221.7 355.4,221.7 355.8,221.9 356.1,222.3 356.4,222.9 356.7,223.6 357.1,224.4 357.4,225.1 357.7,225.8 358.1,226.3 358.4,226.7 358.7,226.8 359.0,226.9 359.4,226.8 359.7,226.7 360.0,226.6 360.4,226.6 360.7,226.6 361.0,226.7 361.4,226.8 361.7,226.9 362.0,227.0 362.3,227.1 362.7,227.1 363.0,227.1 363.3,227.1 363.7,227.0 364.0,226.7 364.3,226.2 364.6,225.5 365.0,224.4 365.3,223.0 365.6,221.3 366.0,219.3 366.3,217.0 366.6,214.2 366.9,211.1 367.3,207.6 367.6,204.3 367.9,202.2 368.3,202.5 368.6,206.7 368.9,212.0 369.2,216.5 369.6,219.7 369.9,222.0 370.2,223.5 370.6,224.5 370.9,225.1 371.2,225.5 371.5,225.6 371.9,225.5 372.2,225.3 372.5,225.0 372.9,224.6 373.2,224.1 373.5,223.5 373.8,222.9 374.2,222.3 374.5,221.5 374.8,220.6 375.2,219.5 375.5,218.3 375.8,216.8 376.1,215.0 376.5,212.8 376.8,210.3 377.1,207.2 377.5,203.6 377.8,199.2 378.1,193.9 378.4,187.5 378.8,180.0 379.1,171.4 379.4,162.1 379.8,152.7 380.1,144.7 380.4,139.4 380.7,138.7 381.1,145.4 381.4,156.1 381.7,166.5 382.1,174.5 382.4,179.6 382.7,182.3 383.1,182.9 383.4,182.0 383.7,180.1 384.0,177.7 384.4,175.5 384.7,173.9 385.0,173.3 385.4,174.9 385.7,178.9 386.0,183.9 386.3,188.8 386.7,192.8 387.0,195.7 387.3,197.5 387.7,198.3 388.0,198.3 388.3,197.7 388.6,196.5 389.0,194.8 389.3,192.8 389.6,190.5 390.0,188.2 390.3,186.0 390.6,184.2 390.9,183.1 391.3,183.2 391.6,184.9 391.9,187.6 392.3,190.7 392.6,193.6 392.9,196.2 393.2,198.3 393.6,199.9 393.9,201.2 394.2,202.3 394.6,203.3 394.9,204.6 395.2,206.4 395.5,208.5 395.9,210.8 396.2,212.9 396.5,214.7 396.9,216.1 397.2,217.2 397.5,218.0 397.8,218.7 398.2,219.1 398.5,219.4 398.8,219.5 399.2,219.5 399.5,219.4 399.8,219.2 400.1,218.9 400.5,218.5 400.8,218.3 401.1,218.1 401.5,218.2 401.8,218.6 402.1,219.4 402.5,220.6 402.8,221.8 403.1,223.1 403.4,224.4 403.8,225.5 404.1,226.4 404.4,227.1 404.8,227.7 405.1,228.0 405.4,228.3 405.7,228.4 406.1,228.5 406.4,228.6 406.7,228.7 407.1,228.9 407.4,229.1 407.7,229.5 408.0,229.8 408.4,230.1 408.7,230.3 409.0,230.5 409.4,230.7 409.7,231.0 410.0,231.2 410.3,231.4 410.7,231.6 411.0,231.7 411.3,231.7 411.7,231.5 412.0,231.3 412.3,231.0 412.6,230.8 413.0,230.7 413.3,230.7 413.6,230.7 414.0,230.8 414.3,231.0 414.6,231.0 414.9,230.9 415.3,230.6 415.6,230.2 415.9,229.7 416.3,229.3 416.6,229.0 416.9,228.8 417.2,228.7 417.6,228.7 417.9,228.7 418.2,228.7 418.6,228.6 418.9,228.4 419.2,228.0 419.5,227.4 419.9,226.7 420.2,225.9 420.5,225.0 420.9,224.1 421.2,223.4 421.5,222.8 421.8,222.5 422.2,222.4 422.5,222.7 422.8,223.4 423.2,224.2 423.5,225.1 423.8,225.9 424.2,226.6 424.5,227.0 424.8,227.4 425.1,227.7 425.5,227.9 425.8,228.1 426.1,228.3 426.5,228.6 426.8,228.9 427.1,229.2 427.4,229.5 427.8,229.8 428.1,230.1 428.4,230.3 428.8,230.4 429.1,230.4 429.4,230.3 429.7,230.1 430.1,229.8 430.4,229.5 430.7,229.3 431.1,229.2 431.4,229.1 431.7,228.9 432.0,228.7 432.4,228.4 432.7,227.9 433.0,227.3 433.4,226.6 433.7,226.0 434.0,225.3 434.3,224.6 434.7,224.0 435.0,223.4 435.3,223.0 435.7,222.6 436.0,222.3 436.3,222.1 436.6,221.9 437.0,221.7 437.3,221.6 437.6,221.5 438.0,221.6 438.3,221.7 438.6,222.0 438.9,222.3 439.3,222.7 439.6,223.1 439.9,223.5 440.3,224.0 440.6,224.5 440.9,225.1 441.2,225.7 441.6,226.2 441.9,226.7 442.2,227.0 442.6,227.4 442.9,227.7 443.2,228.0 443.6,228.4 443.9,228.8 444.2,229.3 444.5,229.6 444.9,229.9 445.2,230.1 445.5,230.2 445.9,230.3 446.2,230.4 446.5,230.6 446.8,230.7 447.2,230.9 447.5,231.1 447.8,231.1 448.2,231.2 448.5,231.1 448.8,231.1 449.1,231.0 449.5,231.0 449.8,230.9 450.1,230.9 450.5,230.8 450.8,230.7 451.1,230.6 451.4,230.5 451.8,230.4 452.1,230.3 452.4,230.3 452.8,230.3 453.1,230.2 453.4,230.1 453.7,230.0 454.1,229.8 454.4,229.6 454.7,229.5 455.1,229.6 455.4,229.8 455.7,230.2 456.0,230.7 456.4,231.1 456.7,231.5 457.0,231.8 457.4,231.9 457.7,231.9 458.0,231.7 458.3,231.5 458.7,231.3 459.0,231.1 459.3,230.9 459.7,230.6 460.0,230.3 460.3,230.0 460.6,229.6 461.0,229.1 461.3,228.7 461.6,228.2 462.0,227.7 462.3,227.3 462.6,226.7 462.9,226.1 463.3,225.3 463.6,224.3 463.9,223.2 464.3,221.9 464.6,220.5 464.9,219.1 465.3,217.5 465.6,215.9 465.9,214.3 466.2,212.8 466.6,211.6 466.9,210.7 467.2,210.4 467.6,210.9 467.9,212.4 468.2,214.6 468.5,216.8 468.9,219.1 469.2,221.1 469.5,222.8 469.9,224.4 470.2,225.8 470.5,226.9 470.8,227.9 471.2,228.8 471.5,229.4 471.8,230.0 472.2,230.4 472.5,230.7 472.8,230.8 473.1,230.9 473.5,230.8 473.8,230.7 474.1,230.7 474.5,230.7 474.8,230.7 475.1,230.8 475.4,230.8 475.8,230.8 476.1,230.7 476.4,230.6 476.8,230.5 477.1,230.5 477.4,230.5 477.7,230.5 478.1,230.5 478.4,230.4 478.7,230.3 479.1,230.2 479.4,230.2 479.7,230.3 480.0,230.4 480.4,230.6 480.7,230.9 481.0,231.0 481.4,231.1 481.7,231.1 482.0,231.1 482.3,231.2 482.7,231.3 483.0,231.5 483.3,231.7 483.7,231.9 484.0,232.1 484.3,232.2 484.7,232.1 485.0,231.9 485.3,231.5 485.6,231.2 486.0,230.9 486.3,230.8 486.6,230.7 487.0,230.7 487.3,230.8 487.6,230.9 487.9,230.9 488.3,230.9 488.6,230.9 488.9,230.9 489.3,230.9 489.6,231.0 489.9,231.1 490.2,231.2 490.6,231.4 490.9,231.5 491.2,231.5 491.6,231.3 491.9,231.1 492.2,230.8 492.5,230.5 492.9,230.3 493.2,230.2 493.5,230.1 493.9,230.1 494.2,230.2 494.5,230.2 494.8,230.3 495.2,230.3 495.5,230.2 495.8,230.2 496.2,230.2 496.5,230.2 496.8,230.1 497.1,230.1 497.5,230.1 497.8,229.9 498.1,229.7 498.5,229.4 498.8,229.1 499.1,228.7 499.4,228.4 499.8,228.2 500.1,228.0 500.4,227.9 500.8,227.8 501.1,227.8 501.4,227.8 501.7,227.9 502.1,227.9 502.4,227.9 502.7,227.9 503.1,227.8 503.4,227.7 503.7,227.6 504.0,227.4 504.4,227.5 504.7,227.6 505.0,227.7 505.4,227.8 505.7,227.9 506.0,227.9 506.4,227.8 506.7,227.8 507.0,227.7 507.3,227.6 507.7,227.5 508.0,227.4 508.3,227.3 508.7,227.3 509.0,227.3 509.3,227.4 509.6,227.6 510.0,227.8 510.3,228.0 510.6,228.1 511.0,228.2 511.3,228.3 511.6,228.3 511.9,228.3 512.3,228.2 512.6,228.1 512.9,228.0 513.3,227.8 513.6,227.7 513.9,227.5 514.2,227.3 514.6,227.1 514.9,226.9 515.2,226.6 515.6,226.2 515.9,225.7 516.2,225.1 516.5,224.3 516.9,223.3 517.2,222.2 517.5,221.3 517.9,220.6 518.2,220.5 518.5,221.2 518.8,222.8 519.2,224.7 519.5,226.4 519.8,227.7 520.2,228.7 520.5,229.4 520.8,229.7 521.1,229.9 521.5,229.9 521.8,229.9 522.1,229.9 522.5,230.0 522.8,230.0 523.1,230.1 523.4,230.1 523.8,230.0 524.1,230.0 524.4,229.9 524.8,229.8 525.1,229.9 525.4,230.0 525.8,230.2 526.1,230.5 526.4,230.8 526.7,231.0 527.1,231.1 527.4,231.2 527.7,231.3 528.1,231.3 528.4,231.2 528.7,231.2 529.0,231.1 529.4,230.9 529.7,230.7 530.0,230.5 530.4,230.3 530.7,230.1 531.0,230.0 531.3,229.9 531.7,229.9 532.0,229.8 532.3,229.7 532.7,229.5 533.0,229.3 533.3,229.1 533.6,228.8 534.0,228.5 534.3,228.1 534.6,227.7 535.0,227.1 535.3,226.4 535.6,225.6 535.9,224.8 536.3,224.0 536.6,223.4 536.9,222.8 537.3,222.4 537.6,222.2 537.9,222.1 538.2,222.0 538.6,221.9 538.9,221.8 539.2,221.5 539.6,221.3 539.9,221.1 540.2,220.8 540.5,220.7 540.9,220.6 541.2,220.5 541.5,220.5 541.9,220.6 542.2,220.7 542.5,220.8 542.8,220.8 543.2,220.8 543.5,220.8 543.8,220.9 544.2,221.1 544.5,221.6 544.8,222.3 545.1,223.0 545.5,223.8 545.8,224.4 546.1,224.9 546.5,225.4 546.8,225.8 547.1,226.2 547.5,226.7 547.8,227.3 548.1,227.9 548.4,228.5 548.8,229.0 549.1,229.5 549.4,229.9 549.8,230.3 550.1,230.6 550.4,230.9 550.7,231.2 551.1,231.4 551.4,231.5 551.7,231.6 552.1,231.6 552.4,231.7 552.7,231.7 553.0,231.7 553.4,231.7 553.7,231.6 554.0,231.5 554.4,231.4 554.7,231.3 555.0,231.2 555.3,231.1 555.7,231.1 556.0,231.1 556.3,231.1 556.7,231.0 557.0,231.0 557.3,230.9 557.6,230.9 558.0,230.9 558.3,231.0 558.6,231.1 559.0,231.2 559.3,231.3 559.6,231.5 559.9,231.6 560.3,231.7 560.6,231.7 560.9,231.9 561.3,232.0 561.6,232.1 561.9,232.2 562.2,232.3 562.6,232.4 562.9,232.4 563.2,232.4 563.6,232.3 563.9,232.2 564.2,232.1 564.5,232.0 564.9,231.9 565.2,231.8 565.5,231.9 565.9,232.0 566.2,232.1 566.5,232.2 566.9,232.3 567.2,232.2 567.5,232.2 567.8,232.1 568.2,232.0 568.5,231.9 568.8,231.8 569.2,231.7 569.5,231.5 569.8,231.3 570.1,231.1 570.5,231.0 570.8,231.0 571.1,231.1 571.5,231.3 571.8,231.6 572.1,231.9 572.4,232.0 572.8,232.0 573.1,231.9 573.4,231.7 573.8,231.4 574.1,231.1 574.4,230.9 574.7,230.8 575.1,230.6 575.4,230.4 575.7,230.3 576.1,230.2 576.4,230.1 576.7,230.1 577.0,230.1 577.4,230.1 577.7,230.1 578.0,230.1 578.4,230.0 578.7,229.7 579.0,229.3 579.3,228.7 579.7,228.1 580.0,227.5 580.3,227.0 580.7,226.6 581.0,226.3 581.3,226.1 581.6,225.8 582.0,225.4 582.3,225.0 582.6,224.5 583.0,224.1 583.3,223.7 583.6,223.5 583.9,223.4 584.3,223.3 584.6,223.3 584.9,223.4 585.3,223.5 585.6,223.7 585.9,224.1 586.2,224.6 586.6,225.2 586.9,225.9 587.2,226.5 587.6,227.0 587.9,227.4 588.2,227.7 588.6,227.9 588.9,228.2 589.2,228.4 589.5,228.6 589.9,228.8 590.2,228.9 590.5,229.1 590.9,229.2 591.2,229.4 591.5,229.5 591.8,229.6 592.2,229.7 592.5,229.7 592.8,229.8 593.2,229.9 593.5,230.0 593.8,230.2 594.1,230.4 594.5,230.6 594.8,230.8 595.1,230.9 595.5,231.0 595.8,231.1 596.1,231.2 596.4,231.1 596.8,231.0 597.1,230.7 597.4,230.3 597.8,229.9 598.1,229.5 598.4,229.0 598.7,228.6 599.1,228.1 599.4,227.6 599.7,226.9 600.1,226.2 600.4,225.3 600.7,224.5 601.0,223.6 601.4,222.8 601.7,222.2 602.0,221.7 602.4,221.5 602.7,221.7 603.0,222.1 603.3,222.7 603.7,223.3 604.0,223.7 604.3,224.1 604.7,224.3 605.0,224.5 605.3,224.6 605.6,224.6 606.0,224.5 606.3,224.3 606.6,223.9 607.0,223.4 607.3,222.9 607.6,222.4 608.0,222.1 608.3,221.9 608.6,221.8 608.9,221.9 609.3,222.1 609.6,222.5 609.9,222.9 610.3,223.6 610.6,224.4 610.9,225.2 611.2,225.9 611.6,226.5 611.9,227.0 612.2,227.3 612.6,227.6 612.9,227.9 613.2,228.4 613.5,228.9 613.9,229.4 614.2,230.0 614.5,230.4 614.9,230.7 615.2,230.8 615.5,230.9 615.8,230.9 616.2,230.9 616.5,230.9 616.8,231.1 617.2,231.4 617.5,231.7 617.8,232.0 618.1,232.4 618.5,232.7 618.8,233.1 619.1,233.4 619.5,233.7 619.8,233.8 620.1,233.9 620.4,233.8 620.8,233.6 621.1,233.4 621.4,233.2 621.8,232.9 622.1,232.7 622.4,232.5 622.7,232.2 623.1,232.0 623.4,231.8 623.7,231.5 624.1,231.1 624.4,230.8 624.7,230.5 625.0,230.2 625.4,230.0 625.7,230.0 626.0,230.0 626.4,230.1 626.7,230.2 627.0,230.3 627.3,230.4 627.7,230.5 628.0,230.6 628.3,230.6 628.7,230.6 629.0,230.6 629.3,230.7 629.7,230.7 630.0,230.9 630.3,231.0 630.6,231.2 631.0,231.3 631.3,231.4 631.6,231.4 632.0,231.4 632.3,231.4 632.6,231.4 632.9,231.5 633.3,231.6 633.6,231.8 633.9,231.9 634.3,232.0 634.6,232.0 634.9,231.9 635.2,231.7 635.6,231.4 635.9,231.1 636.2,230.9 636.6,230.7 636.9,230.6 637.2,230.5 637.5,230.5 637.9,230.6 638.2,230.7" fill="none" stroke="#086cae" stroke-width="3.9" stroke-linejoin="round"/>
<path d="M713.1,901.9 713.4,901.9 713.8,901.8 714.1,901.7 714.4,901.6 714.7,901.5 715.1,901.4 715.4,901.5 715.7,901.6 716.1,901.7 716.4,901.7 716.7,901.6 717.0,901.6 717.4,901.7 717.7,901.9 718.0,902.2 718.4,902.3 718.7,902.2 719.0,902.1 719.3,902.0 719.7,901.9 720.0,901.8 720.3,901.7 720.7,901.7 721.0,901.8 721.3,901.8 721.6,901.9 722.0,901.9 722.3,901.8 722.6,901.7 723.0,901.6 723.3,901.5 723.6,901.6 723.9,901.6 724.3,901.6 724.6,901.6 724.9,901.6 725.3,901.5 725.6,901.5 725.9,901.6 726.2,901.6 726.6,901.6 726.9,901.6 727.2,901.4 727.6,901.3 727.9,901.2 728.2,901.2 728.5,901.2 728.9,901.3 729.2,901.4 729.5,901.5 729.9,901.6 730.2,901.5 730.5,901.4 730.8,901.2 731.2,901.0 731.5,900.9 731.8,900.8 732.2,900.8 732.5,900.8 732.8,900.7 733.1,900.7 733.5,900.7 733.8,900.8 734.1,900.8 734.5,900.8 734.8,900.7 735.1,900.5 735.4,900.3 735.8,900.0 736.1,899.9 736.4,899.7 736.8,899.5 737.1,899.4 737.4,899.2 737.7,898.9 738.1,898.5 738.4,897.9 738.7,897.2 739.1,896.2 739.4,895.1 739.7,893.7 740.0,891.8 740.4,888.8 740.7,884.2 741.0,876.4 741.4,863.5 741.7,843.5 742.0,815.9 742.3,786.4 742.7,772.1 743.0,786.3 743.3,815.7 743.7,843.2 744.0,863.1 744.3,875.9 744.6,883.6 745.0,888.3 745.3,891.3 745.6,893.3 746.0,894.8 746.3,895.9 746.6,896.8 746.9,897.4 747.3,897.8 747.6,898.2 747.9,898.7 748.3,899.3 748.6,899.8 748.9,900.2 749.2,900.4 749.6,900.5 749.9,900.5 750.2,900.6 750.6,900.7 750.9,900.8 751.2,900.8 751.5,900.8 751.9,900.8 752.2,900.8 752.5,900.8 752.9,901.0 753.2,901.1 753.5,901.4 753.8,901.5 754.2,901.6 754.5,901.5 754.8,901.3 755.1,901.1 755.5,900.9 755.8,900.8 756.1,900.8 756.5,900.9 756.8,900.9 757.1,900.9 757.4,901.0 757.8,901.1 758.1,901.2 758.4,901.4 758.8,901.6 759.1,901.7 759.4,901.7 759.7,901.8 760.1,901.8 760.4,901.7 760.7,901.6 761.1,901.4 761.4,901.3 761.7,901.3 762.0,901.4 762.4,901.5 762.7,901.6 763.0,901.7 763.4,901.8 763.7,901.8 764.0,901.8 764.3,901.8 764.7,901.8 765.0,901.7 765.3,901.7 765.7,901.7 766.0,901.7 766.3,901.7 766.6,901.7 767.0,901.8 767.3,901.8 767.6,901.8 768.0,901.8 768.3,901.7 768.6,901.7 768.9,901.8 769.3,901.8 769.6,901.9 769.9,902.0 770.3,901.9 770.6,901.9 770.9,901.7 771.2,901.6 771.6,901.6 771.9,901.7 772.2,901.8 772.6,901.9 772.9,901.9 773.2,901.8 773.5,901.7 773.9,901.6 774.2,901.5 774.5,901.4 774.9,901.4 775.2,901.4 775.5,901.4 775.8,901.4 776.2,901.4 776.5,901.2 776.8,901.0 777.2,900.7 777.5,900.2 777.8,899.2 778.1,897.8 778.5,896.0 778.8,894.5 779.1,894.5 779.5,895.9 779.8,897.6 780.1,899.1 780.4,900.0 780.8,900.5 781.1,900.6 781.4,900.6 781.8,900.6 782.1,900.5 782.4,900.5 782.7,900.3 783.1,900.0 783.4,899.5 783.7,898.6 784.1,897.5 784.4,896.4 784.7,895.8 785.0,896.6 785.4,897.9 785.7,899.2 786.0,900.0 786.4,900.6 786.7,900.8 787.0,900.9 787.3,901.0 787.7,901.1 788.0,901.2 788.3,901.3 788.7,901.6 789.0,901.8 789.3,902.1 789.6,902.2 790.0,902.2 790.3,902.2 790.6,902.0 791.0,901.8 791.3,901.6 791.6,901.4 791.9,901.3 792.3,901.4 792.6,901.5 792.9,901.6 793.3,901.7 793.6,901.7 793.9,901.6 794.2,901.5 794.6,901.5 794.9,901.5 795.2,901.5 795.6,901.6 795.9,901.7 796.2,901.8 796.5,901.8 796.9,901.7 797.2,901.5 797.5,901.4 797.9,901.4 798.2,901.4 798.5,901.4 798.8,901.3 799.2,901.3 799.5,901.3 799.8,901.3 800.2,901.1 800.5,900.9 800.8,900.7 801.1,900.5 801.5,900.2 801.8,899.9 802.1,899.6 802.5,899.1 802.8,898.4 803.1,897.6 803.4,896.3 803.8,894.5 804.1,891.5 804.4,886.4 804.8,878.3 805.1,866.4 805.4,851.5 805.7,839.4 806.1,839.4 806.4,851.6 806.7,866.4 807.1,878.3 807.4,886.4 807.7,891.4 808.0,894.4 808.4,896.3 808.7,897.5 809.0,898.4 809.4,899.0 809.7,899.6 810.0,900.0 810.3,900.4 810.7,900.7 811.0,901.0 811.3,901.3 811.7,901.4 812.0,901.5 812.3,901.5 812.6,901.6 813.0,901.6 813.3,901.7 813.6,901.8 814.0,901.8 814.3,901.9 814.6,901.9 814.9,901.9 815.3,901.9 815.6,901.8 815.9,901.8 816.3,901.8 816.6,901.8 816.9,901.8 817.2,901.7 817.6,901.6 817.9,901.5 818.2,901.4 818.6,901.3 818.9,901.4 819.2,901.5 819.5,901.6 819.9,901.7 820.2,901.7 820.5,901.6 820.9,901.4 821.2,901.1 821.5,900.8 821.8,900.4 822.2,899.9 822.5,899.4 822.8,898.5 823.2,897.2 823.5,895.0 823.8,891.2 824.1,885.5 824.5,877.6 824.8,869.1 825.1,865.0 825.5,869.1 825.8,877.7 826.1,885.6 826.4,891.2 826.8,894.7 827.1,896.7 827.4,897.9 827.8,898.7 828.1,899.3 828.4,899.8 828.7,900.3 829.1,900.7 829.4,901.1 829.7,901.4 830.1,901.5 830.4,901.5 830.7,901.4 831.0,901.2 831.4,901.0 831.7,900.8 832.0,900.7 832.4,900.5 832.7,900.2 833.0,899.6 833.3,898.6 833.7,896.9 834.0,894.1 834.3,889.9 834.7,884.3 835.0,878.5 835.3,875.8 835.6,878.7 836.0,884.7 836.3,890.3 836.6,894.4 836.9,897.1 837.3,898.7 837.6,899.6 837.9,900.2 838.3,900.6 838.6,900.8 838.9,900.9 839.2,900.9 839.6,901.0 839.9,901.1 840.2,901.2 840.6,901.3 840.9,901.5 841.2,901.5 841.5,901.5 841.9,901.5 842.2,901.4 842.5,901.2 842.9,901.1 843.2,901.0 843.5,901.0 843.8,901.0 844.2,901.2 844.5,901.3 844.8,901.4 845.2,901.4 845.5,901.5 845.8,901.5 846.1,901.4 846.5,901.4 846.8,901.2 847.1,901.1 847.5,901.0 847.8,900.9 848.1,900.8 848.4,900.7 848.8,900.5 849.1,900.3 849.4,899.8 849.8,899.0 850.1,897.8 850.4,895.8 850.7,892.7 851.1,887.8 851.4,880.7 851.7,871.8 852.1,864.4 852.4,863.9 852.7,870.3 853.0,877.9 853.4,883.5 853.7,886.0 854.0,885.7 854.4,882.7 854.7,878.0 855.0,874.0 855.3,874.6 855.7,879.9 856.0,886.0 856.3,890.8 856.7,894.1 857.0,896.2 857.3,897.5 857.6,898.5 858.0,899.3 858.3,900.0 858.6,900.5 859.0,900.8 859.3,900.9 859.6,901.0 859.9,901.1 860.3,901.1 860.6,901.2 860.9,901.3 861.3,901.4 861.6,901.5 861.9,901.6 862.2,901.6 862.6,901.6 862.9,901.6 863.2,901.7 863.6,901.7 863.9,901.7 864.2,901.6 864.5,901.5 864.9,901.4 865.2,901.3 865.5,901.4 865.9,901.4 866.2,901.4 866.5,901.5 866.8,901.5 867.2,901.5 867.5,901.4 867.8,901.3 868.2,901.3 868.5,901.3 868.8,901.4 869.1,901.4 869.5,901.3 869.8,901.1 870.1,900.8 870.5,900.3 870.8,899.6 871.1,898.6 871.4,897.3 871.8,896.2 872.1,896.2 872.4,897.3 872.8,898.6 873.1,899.7 873.4,900.4 873.7,900.9 874.1,901.1 874.4,901.1 874.7,901.0 875.1,900.9 875.4,900.7 875.7,900.5 876.0,900.3 876.4,900.0 876.7,899.4 877.0,898.4 877.4,896.7 877.7,894.2 878.0,891.0 878.3,888.5 878.7,888.5 879.0,891.0 879.3,894.0 879.7,896.4 880.0,898.0 880.3,899.1 880.6,899.7 881.0,900.2 881.3,900.4 881.6,900.7 882.0,900.9 882.3,901.1 882.6,901.2 882.9,901.1 883.3,901.0 883.6,900.8 883.9,900.5 884.3,900.1 884.6,899.4 884.9,898.4 885.2,897.2 885.6,896.2 885.9,896.2 886.2,897.2 886.6,898.6 886.9,899.7 887.2,900.6 887.5,901.1 887.9,901.4 888.2,901.5 888.5,901.4 888.9,901.5 889.2,901.6 889.5,901.7 889.8,901.7 890.2,901.6 890.5,901.5 890.8,901.3 891.2,901.2 891.5,901.2 891.8,901.2 892.1,901.2 892.5,901.1 892.8,901.1 893.1,901.1 893.5,901.1 893.8,901.0 894.1,900.6 894.4,900.0 894.8,899.0 895.1,897.6 895.4,895.8 895.8,894.4 896.1,894.3 896.4,895.7 896.7,897.4 897.1,898.9 897.4,899.8 897.7,900.4 898.1,900.6 898.4,900.8 898.7,901.0 899.0,901.3 899.4,901.5 899.7,901.7 900.0,901.7 900.4,901.6 900.7,901.4 901.0,901.3 901.3,901.3 901.7,901.5 902.0,901.6 902.3,901.6 902.7,901.5 903.0,901.3 903.3,901.3 903.6,901.4 904.0,901.5 904.3,901.7 904.6,901.8 905.0,901.8 905.3,901.7 905.6,901.6 905.9,901.4 906.3,901.2 906.6,901.1 906.9,901.0 907.3,900.8 907.6,900.4 907.9,899.8 908.2,898.7 908.6,897.2 908.9,895.3 909.2,893.7 909.6,893.7 909.9,895.1 910.2,896.8 910.5,898.3 910.9,899.4 911.2,900.1 911.5,900.5 911.9,900.7 912.2,900.8 912.5,900.9 912.8,901.0 913.2,901.1 913.5,901.1 913.8,901.0 914.2,900.9 914.5,900.7 914.8,900.6 915.1,900.5 915.5,900.3 915.8,900.0 916.1,899.6 916.5,899.0 916.8,898.1 917.1,896.5 917.4,894.0 917.8,890.7 918.1,887.1 918.4,885.3 918.7,887.0 919.1,890.5 919.4,893.9 919.7,896.3 920.1,897.9 920.4,898.8 920.7,899.3 921.0,899.5 921.4,899.6 921.7,899.6 922.0,899.6 922.4,899.5 922.7,899.2 923.0,898.9 923.3,898.3 923.7,897.3 924.0,895.8 924.3,893.3 924.7,889.3 925.0,883.4 925.3,876.1 925.6,870.1 926.0,869.9 926.3,875.6 926.6,882.3 927.0,887.2 927.3,889.9 927.6,890.4 927.9,889.2 928.3,886.8 928.6,884.6 928.9,884.9 929.3,888.0 929.6,891.5 929.9,894.4 930.2,896.4 930.6,897.6 930.9,898.4 931.2,898.8 931.6,899.1 931.9,899.4 932.2,899.4 932.5,899.2 932.9,898.6 933.2,897.7 933.5,896.2 933.9,894.0 934.2,890.9 934.5,887.0 934.8,883.7 935.2,883.8 935.5,887.2 935.8,891.2 936.2,894.3 936.5,896.3 936.8,897.4 937.1,897.9 937.5,898.1 937.8,898.1 938.1,898.0 938.5,897.6 938.8,896.6 939.1,894.8 939.4,891.8 939.8,887.9 940.1,884.7 940.4,884.6 940.8,887.8 941.1,891.7 941.4,894.8 941.7,897.0 942.1,898.3 942.4,899.2 942.7,899.8 943.1,900.1 943.4,900.5 943.7,900.7 944.0,900.9 944.4,901.0 944.7,901.0 945.0,901.0 945.4,901.0 945.7,901.1 946.0,901.2 946.3,901.2 946.7,901.3 947.0,901.3 947.3,901.3 947.7,901.2 948.0,901.2 948.3,901.3 948.6,901.4 949.0,901.4 949.3,901.4 949.6,901.4 950.0,901.2 950.3,901.1 950.6,901.0 950.9,901.0 951.3,901.1 951.6,901.0 951.9,900.9 952.3,900.7 952.6,900.5 952.9,900.2 953.2,899.7 953.6,899.1 953.9,898.0 954.2,896.4 954.6,893.8 954.9,890.3 955.2,886.6 955.5,884.8 955.9,886.5 956.2,890.2 956.5,893.6 956.9,896.1 957.2,897.8 957.5,898.9 957.8,899.6 958.2,900.1 958.5,900.5 958.8,900.6 959.2,900.7 959.5,900.6 959.8,900.6 960.1,900.6 960.5,900.6 960.8,900.6 961.1,900.5 961.5,900.4 961.8,900.2 962.1,900.0 962.4,899.8 962.8,899.5 963.1,899.1 963.4,898.3 963.8,897.1 964.1,895.1 964.4,891.8 964.7,887.0 965.1,881.1 965.4,876.3 965.7,876.3 966.1,881.1 966.4,886.9 966.7,891.4 967.0,894.1 967.4,895.1 967.7,894.9 968.0,894.0 968.4,893.2 968.7,893.6 969.0,895.2 969.3,897.1 969.7,898.5 970.0,899.4 970.3,899.8 970.7,900.0 971.0,900.2 971.3,900.4 971.6,900.6 972.0,900.8 972.3,900.9 972.6,900.9 973.0,900.9 973.3,900.9 973.6,900.9 973.9,900.9 974.3,900.9 974.6,900.9 974.9,900.9 975.3,900.9 975.6,901.0 975.9,901.0 976.2,901.0 976.6,900.9 976.9,901.0 977.2,901.1 977.6,901.2 977.9,901.2 978.2,901.2 978.5,901.1 978.9,901.0 979.2,901.0 979.5,900.9 979.9,900.8 980.2,900.6 980.5,900.4 980.8,900.3 981.2,900.3 981.5,900.3 981.8,900.3 982.2,900.2 982.5,900.0 982.8,899.6 983.1,898.9 983.5,897.9 983.8,896.2 984.1,893.9 984.5,891.4 984.8,890.1 985.1,891.4 985.4,894.0 985.8,896.4 986.1,898.1 986.4,899.1 986.8,899.7 987.1,900.1 987.4,900.5 987.7,900.8 988.1,901.1 988.4,901.2 988.7,901.3 989.1,901.3 989.4,901.2 989.7,901.1 990.0,901.0 990.4,900.9 990.7,900.9 991.0,900.9 991.4,901.0 991.7,901.1 992.0,901.1 992.3,901.1 992.7,901.0 993.0,900.9 993.3,900.8 993.7,900.8 994.0,900.8 994.3,900.8 994.6,900.7 995.0,900.4 995.3,899.8 995.6,898.9 996.0,897.5 996.3,895.9 996.6,894.6 996.9,894.6 997.3,895.9 997.6,897.4 997.9,898.6 998.3,899.4 998.6,900.0 998.9,900.3 999.2,900.5 999.6,900.6 999.9,900.6 1000.2,900.7 1000.5,900.8 1000.9,900.9 1001.2,900.9 1001.5,901.0 1001.9,901.0 1002.2,901.2 1002.5,901.4 1002.8,901.6 1003.2,901.7 1003.5,901.7 1003.8,901.7 1004.2,901.7 1004.5,901.6 1004.8,901.4 1005.1,901.2 1005.5,901.0 1005.8,900.8 1006.1,900.8 1006.5,900.8 1006.8,900.9 1007.1,901.0 1007.4,900.9 1007.8,900.5 1008.1,899.9 1008.4,898.9 1008.8,897.6 1009.1,895.9 1009.4,894.1 1009.7,893.3 1010.1,894.2 1010.4,896.0 1010.7,897.6 1011.1,898.8 1011.4,899.5 1011.7,899.8 1012.0,899.9 1012.4,900.0 1012.7,900.0 1013.0,900.0 1013.4,899.9 1013.7,899.8 1014.0,899.4 1014.3,898.7 1014.7,897.6 1015.0,895.8 1015.3,893.6 1015.7,891.8 1016.0,891.8 1016.3,893.7 1016.6,896.1 1017.0,898.0 1017.3,899.2 1017.6,899.8 1018.0,899.9 1018.3,899.9 1018.6,900.0 1018.9,900.0 1019.3,900.1 1019.6,900.2 1019.9,900.2 1020.3,900.1 1020.6,899.8 1020.9,899.5 1021.2,898.9 1021.6,898.1 1021.9,897.0 1022.2,895.6 1022.6,894.4 1022.9,894.3 1023.2,895.5 1023.5,897.0 1023.9,898.3 1024.2,899.2 1024.5,899.6 1024.9,899.8 1025.2,899.8 1025.5,899.8 1025.8,899.7 1026.2,899.7 1026.5,899.6 1026.8,899.4 1027.2,899.2 1027.5,898.8 1027.8,898.1 1028.1,897.1 1028.5,895.5 1028.8,892.7 1029.1,888.5 1029.5,882.2 1029.8,874.5 1030.1,868.2 1030.4,868.2 1030.8,874.7 1031.1,882.6 1031.4,888.9 1031.8,893.1 1032.1,895.7 1032.4,897.2 1032.7,898.1 1033.1,898.6 1033.4,898.9 1033.7,899.1 1034.1,899.1 1034.4,899.1 1034.7,899.2 1035.0,899.4 1035.4,899.6 1035.7,899.9 1036.0,900.1 1036.4,900.3 1036.7,900.5 1037.0,900.7 1037.3,900.8 1037.7,901.0 1038.0,901.0 1038.3,900.9 1038.7,900.7 1039.0,900.6 1039.3,900.5 1039.6,900.4 1040.0,900.4 1040.3,900.2 1040.6,900.0 1041.0,899.5 1041.3,898.7 1041.6,897.5 1041.9,895.8 1042.3,894.0 1042.6,893.0 1042.9,893.8 1043.3,895.5 1043.6,897.1 1043.9,898.0 1044.2,898.6 1044.6,898.8 1044.9,899.0 1045.2,899.1 1045.6,899.0 1045.9,898.5 1046.2,897.6 1046.5,896.3 1046.9,895.0 1047.2,894.4 1047.5,895.2 1047.9,896.7 1048.2,898.0 1048.5,899.0 1048.8,899.6 1049.2,900.1 1049.5,900.4 1049.8,900.7 1050.2,900.9 1050.5,901.0 1050.8,900.9 1051.1,900.8 1051.5,900.8 1051.8,900.8 1052.1,900.8 1052.5,900.8 1052.8,900.7 1053.1,900.7 1053.4,900.7 1053.8,900.7 1054.1,900.7 1054.4,900.8 1054.8,901.0 1055.1,901.1 1055.4,901.2 1055.7,901.2 1056.1,901.2 1056.4,901.3 1056.7,901.3 1057.1,901.3 1057.4,901.3 1057.7,901.2 1058.0,901.1 1058.4,901.1 1058.7,901.1 1059.0,901.0 1059.4,900.9 1059.7,900.8 1060.0,900.7 1060.3,900.6 1060.7,900.5 1061.0,900.6 1061.3,900.8 1061.7,901.0 1062.0,901.1 1062.3,901.2 1062.6,901.2 1063.0,901.1 1063.3,901.0 1063.6,900.9 1064.0,900.8 1064.3,900.8 1064.6,900.8 1064.9,900.8 1065.3,900.9 1065.6,901.0 1065.9,901.0 1066.3,901.0 1066.6,900.9 1066.9,900.7 1067.2,900.4 1067.6,900.0 1067.9,899.3 1068.2,898.3 1068.6,897.0 1068.9,895.7 1069.2,895.0 1069.5,895.6 1069.9,897.0 1070.2,898.3 1070.5,899.2 1070.9,899.8 1071.2,900.1 1071.5,900.2 1071.8,900.2 1072.2,900.2 1072.5,900.3 1072.8,900.4 1073.2,900.5 1073.5,900.6 1073.8,900.6 1074.1,900.6 1074.5,900.6 1074.8,900.6 1075.1,900.7 1075.5,900.8 1075.8,900.8 1076.1,900.9 1076.4,901.0 1076.8,901.1 1077.1,901.2 1077.4,901.3 1077.8,901.3 1078.1,901.3 1078.4,901.2 1078.7,901.2 1079.1,901.0 1079.4,900.9 1079.7,900.7 1080.1,900.7 1080.4,900.7 1080.7,900.7 1081.0,900.8 1081.4,900.8 1081.7,900.6 1082.0,900.3 1082.4,899.7 1082.7,898.8 1083.0,897.4 1083.3,895.8 1083.7,894.6 1084.0,894.6 1084.3,895.9 1084.6,897.4 1085.0,898.7 1085.3,899.5 1085.6,900.0 1086.0,900.1 1086.3,900.0 1086.6,899.6 1086.9,898.9 1087.3,898.0 1087.6,896.8 1087.9,895.6 1088.3,895.2 1088.6,895.9 1088.9,897.3 1089.2,898.5 1089.6,899.3 1089.9,899.8 1090.2,900.1 1090.6,900.4 1090.9,900.6 1091.2,900.8 1091.5,901.0 1091.9,901.2 1092.2,901.3 1092.5,901.4 1092.9,901.3 1093.2,901.2 1093.5,901.1 1093.8,900.9 1094.2,900.8 1094.5,900.6 1094.8,900.6 1095.2,900.7 1095.5,900.8 1095.8,901.0 1096.1,901.2 1096.5,901.2 1096.8,901.2 1097.1,901.0 1097.5,900.9 1097.8,900.8 1098.1,900.8 1098.4,900.8 1098.8,900.8 1099.1,900.7 1099.4,900.7 1099.8,900.6 1100.1,900.5 1100.4,900.5 1100.7,900.4 1101.1,900.1 1101.4,899.5 1101.7,898.6 1102.1,897.2 1102.4,895.6 1102.7,894.4 1103.0,894.5 1103.4,895.8 1103.7,897.5 1104.0,898.8 1104.4,899.7 1104.7,900.3 1105.0,900.6 1105.3,900.8 1105.7,901.0 1106.0,901.1 1106.3,901.1 1106.7,901.1 1107.0,901.1 1107.3,901.0 1107.6,901.0 1108.0,901.1 1108.3,901.1 1108.6,901.0 1109.0,901.0 1109.3,900.9 1109.6,900.9 1109.9,900.9 1110.3,901.0 1110.6,901.1 1110.9,901.3 1111.3,901.4 1111.6,901.4 1111.9,901.3 1112.2,901.2 1112.6,901.1 1112.9,901.1 1113.2,901.0 1113.6,901.0 1113.9,900.8 1114.2,900.7 1114.5,900.4 1114.9,900.2 1115.2,899.9 1115.5,899.5 1115.9,898.8 1116.2,897.9 1116.5,896.4 1116.8,894.2 1117.2,891.2 1117.5,887.9 1117.8,886.3 1118.2,887.9 1118.5,891.1 1118.8,894.0 1119.1,896.1 1119.5,897.4 1119.8,898.2 1120.1,898.6 1120.5,898.7 1120.8,898.5 1121.1,897.9 1121.4,896.8 1121.8,895.1 1122.1,893.3 1122.4,892.3 1122.8,893.2 1123.1,895.1 1123.4,897.0 1123.7,898.4 1124.1,899.2 1124.4,899.6 1124.7,899.8 1125.1,899.9 1125.4,900.1 1125.7,900.1 1126.0,900.2 1126.4,900.3 1126.7,900.4 1127.0,900.5 1127.4,900.5 1127.7,900.6 1128.0,900.7 1128.3,900.9 1128.7,901.0 1129.0,901.1 1129.3,901.1 1129.7,901.1 1130.0,901.0 1130.3,901.0 1130.6,901.0 1131.0,901.0 1131.3,901.0 1131.6,901.0 1132.0,901.0 1132.3,900.9 1132.6,900.9 1132.9,900.8 1133.3,900.7 1133.6,900.7 1133.9,900.7 1134.3,900.8 1134.6,900.9 1134.9,901.0 1135.2,901.0 1135.6,901.0 1135.9,901.1 1136.2,901.2 1136.6,901.2 1136.9,901.3 1137.2,901.2 1137.5,901.2 1137.9,901.2 1138.2,901.2 1138.5,901.1 1138.9,901.1 1139.2,900.9 1139.5,900.8 1139.8,900.7 1140.2,900.7 1140.5,900.7 1140.8,900.8 1141.2,900.8 1141.5,900.9 1141.8,900.9 1142.1,901.0 1142.5,901.1 1142.8,901.2 1143.1,901.3 1143.5,901.3 1143.8,901.2 1144.1,901.1 1144.4,901.0 1144.8,900.8 1145.1,900.7 1145.4,900.6 1145.8,900.6 1146.1,900.8 1146.4,900.9 1146.7,901.0 1147.1,901.1 1147.4,901.1 1147.7,901.1 1148.1,901.0 1148.4,900.9 1148.7,900.8 1149.0,900.7 1149.4,900.7 1149.7,900.7 1150.0,900.8 1150.4,900.9 1150.7,900.9 1151.0,900.9 1151.3,900.8 1151.7,900.7 1152.0,900.7 1152.3,900.7 1152.7,900.9 1153.0,901.1 1153.3,901.3 1153.6,901.4 1154.0,901.4 1154.3,901.2 1154.6,901.0 1155.0,900.8 1155.3,900.8 1155.6,900.8 1155.9,900.8 1156.3,900.7 1156.6,900.7 1156.9,900.5 1157.3,900.2 1157.6,899.7 1157.9,898.9 1158.2,897.7 1158.6,896.2 1158.9,895.0 1159.2,894.9 1159.6,896.0 1159.9,897.5 1160.2,898.8 1160.5,899.6 1160.9,900.1 1161.2,900.4 1161.5,900.7 1161.9,900.9 1162.2,901.1 1162.5,901.1 1162.8,901.1 1163.2,901.0 1163.5,900.8 1163.8,900.7 1164.2,900.6 1164.5,900.6 1164.8,900.6 1165.1,900.7 1165.5,900.8 1165.8,900.9 1166.1,900.8 1166.4,900.7 1166.8,900.6 1167.1,900.4 1167.4,900.1 1167.8,899.7 1168.1,899.1 1168.4,898.1 1168.7,896.8 1169.1,895.4 1169.4,894.7 1169.7,895.4 1170.1,896.9 1170.4,898.3 1170.7,899.3 1171.0,899.9 1171.4,900.3 1171.7,900.5 1172.0,900.5 1172.4,900.5 1172.7,900.4 1173.0,900.4 1173.3,900.4 1173.7,900.4 1174.0,900.4 1174.3,900.4 1174.7,900.2 1175.0,900.1 1175.3,899.9 1175.6,899.8 1176.0,899.5 1176.3,898.8 1176.6,897.8 1177.0,896.3 1177.3,895.1 1177.6,895.0 1177.9,896.1 1178.3,897.5 1178.6,898.7 1178.9,899.6 1179.3,900.2 1179.6,900.5 1179.9,900.7 1180.2,900.7 1180.6,900.7 1180.9,900.7 1181.2,900.6 1181.6,900.5 1181.9,900.4 1182.2,900.4 1182.5,900.3 1182.9,900.3 1183.2,900.3 1183.5,900.3 1183.9,900.3 1184.2,900.2 1184.5,900.1 1184.8,900.0 1185.2,899.9 1185.5,899.7 1185.8,899.4 1186.2,898.9 1186.5,898.4 1186.8,897.9 1187.1,897.4 1187.5,897.0 1187.8,896.5 1188.1,896.0 1188.5,895.3 1188.8,894.7 1189.1,894.3 1189.4,894.1 1189.8,894.2 1190.1,894.6 1190.4,895.1 1190.8,895.6 1191.1,896.0 1191.4,896.2 1191.7,896.3 1192.1,896.4 1192.4,896.6 1192.7,896.7 1193.1,896.8 1193.4,896.8 1193.7,896.6 1194.0,896.4 1194.4,896.0 1194.7,895.6 1195.0,895.2 1195.4,894.9 1195.7,894.7 1196.0,894.6 1196.3,894.6 1196.7,894.8 1197.0,895.2 1197.3,895.6 1197.7,896.2 1198.0,896.8 1198.3,897.5 1198.6,898.1 1199.0,898.6 1199.3,899.0 1199.6,899.4 1200.0,899.7 1200.3,899.9 1200.6,900.0 1200.9,900.1 1201.3,900.2 1201.6,900.2 1201.9,900.3 1202.3,900.4 1202.6,900.5 1202.9,900.6 1203.2,900.6 1203.6,900.6 1203.9,900.6 1204.2,900.6 1204.6,900.8 1204.9,900.9 1205.2,901.0 1205.5,901.1 1205.9,901.1 1206.2,901.1 1206.5,901.2 1206.9,901.3 1207.2,901.3 1207.5,901.3 1207.8,901.2 1208.2,901.1 1208.5,901.0 1208.8,900.9 1209.2,900.8 1209.5,900.8 1209.8,900.8 1210.1,900.9 1210.5,900.9 1210.8,900.8 1211.1,900.6 1211.5,900.4 1211.8,900.2 1212.1,900.3 1212.4,900.4 1212.8,900.4 1213.1,900.3 1213.4,900.0 1213.8,899.4 1214.1,898.5 1214.4,897.4 1214.7,896.0 1215.1,895.0 1215.4,895.1 1215.7,896.4 1216.1,897.9 1216.4,899.1 1216.7,899.9 1217.0,900.3 1217.4,900.5 1217.7,900.7 1218.0,900.8 1218.4,901.0 1218.7,901.1 1219.0,901.3 1219.3,901.4 1219.7,901.4 1220.0,901.4 1220.3,901.4 1220.7,901.3 1221.0,901.2 1221.3,901.0 1221.6,901.0 1222.0,900.9 1222.3,900.9 1222.6,901.0 1223.0,901.1 1223.3,901.3 1223.6,901.4 1223.9,901.5 1224.3,901.6 1224.6,901.6 1224.9,901.6 1225.3,901.6 1225.6,901.5 1225.9,901.6 1226.2,901.6 1226.6,901.7 1226.9,901.7 1227.2,901.7 1227.6,901.6 1227.9,901.6 1228.2,901.6 1228.5,901.7 1228.9,901.7 1229.2,901.6 1229.5,901.5 1229.9,901.3 1230.2,901.2 1230.5,901.1 1230.8,900.9 1231.2,900.8 1231.5,900.6 1231.8,900.4 1232.2,900.3 1232.5,900.2 1232.8,900.1 1233.1,899.8 1233.5,899.1 1233.8,898.1 1234.1,896.8 1234.5,895.8 1234.8,895.9 1235.1,897.1 1235.4,898.3 1235.8,899.3 1236.1,899.9 1236.4,900.3 1236.8,900.6 1237.1,900.8 1237.4,901.0 1237.7,901.1 1238.1,901.1 1238.4,901.2 1238.7,901.2 1239.1,901.3 1239.4,901.3 1239.7,901.3 1240.0,901.4 1240.4,901.5 1240.7,901.6 1241.0,901.7 1241.4,901.7 1241.7,901.6 1242.0,901.4 1242.3,901.2 1242.7,901.1 1243.0,901.0 1243.3,901.1 1243.7,901.1 1244.0,901.0 1244.3,901.0 1244.6,900.9 1245.0,900.9 1245.3,900.9 1245.6,901.0 1246.0,901.2 1246.3,901.2 1246.6,901.3 1246.9,901.2 1247.3,901.2 1247.6,901.1 1247.9,901.0 1248.2,900.9 1248.6,900.9 1248.9,900.9 1249.2,901.0 1249.6,901.1 1249.9,901.1 1250.2,901.1 1250.5,901.1 1250.9,901.1 1251.2,901.1 1251.5,901.0 1251.9,900.9 1252.2,900.8 1252.5,900.8 1252.8,900.9 1253.2,900.9 1253.5,901.0 1253.8,901.0 1254.2,901.0 1254.5,900.8 1254.8,900.6 1255.1,900.3 1255.5,900.0 1255.8,899.7 1256.1,899.3 1256.5,898.8 1256.8,898.2 1257.1,897.3 1257.4,896.3 1257.8,895.3 1258.1,894.4 1258.4,893.9 1258.8,893.9 1259.1,894.5 1259.4,895.4 1259.7,896.4 1260.1,897.4 1260.4,898.2 1260.7,898.7 1261.1,899.1 1261.4,899.5 1261.7,899.8 1262.0,900.2 1262.4,900.5 1262.7,900.7 1263.0,900.8 1263.4,900.8 1263.7,900.9 1264.0,900.9 1264.3,900.9 1264.7,901.0 1265.0,901.0 1265.3,901.1 1265.7,901.1 1266.0,901.2 1266.3,901.2 1266.6,901.1 1267.0,901.1 1267.3,901.0 1267.6,901.0 1268.0,901.0 1268.3,900.9 1268.6,900.8 1268.9,900.7 1269.3,900.7 1269.6,900.7 1269.9,900.9 1270.3,901.1 1270.6,901.2 1270.9,901.3 1271.2,901.2 1271.6,901.1 1271.9,900.9 1272.2,900.9 1272.6,901.0 1272.9,901.1 1273.2,901.2 1273.5,901.2 1273.9,901.2 1274.2,901.2 1274.5,901.4 1274.9,901.6 1275.2,901.7 1275.5,901.7 1275.8,901.6 1276.2,901.4 1276.5,901.1 1276.8,900.9 1277.2,900.7 1277.5,900.7 1277.8,900.8 1278.1,901.0 1278.5,901.1 1278.8,901.1 1279.1,901.1 1279.5,901.0 1279.8,901.0 1280.1,901.1 1280.4,901.3 1280.8,901.4 1281.1,901.4 1281.4,901.3 1281.8,901.2 1282.1,901.0 1282.4,900.9 1282.7,900.8 1283.1,900.9 1283.4,900.9 1283.7,901.0 1284.1,901.0 1284.4,901.0 1284.7,901.0 1285.0,900.9 1285.4,900.9 1285.7,901.0 1286.0,901.2 1286.4,901.3 1286.7,901.4 1287.0,901.4 1287.3,901.3 1287.7,901.2 1288.0,901.1" fill="none" stroke="#505050" stroke-width="3.7" stroke-linejoin="round"/>
<path d="M713.1,760.9 713.4,760.7 713.8,760.5 714.1,760.5 714.4,760.5 714.7,760.7 715.1,761.0 715.4,761.2 715.7,761.4 716.1,761.5 716.4,761.5 716.7,761.4 717.0,761.2 717.4,761.0 717.7,760.8 718.0,760.6 718.4,760.5 718.7,760.3 719.0,760.3 719.3,760.2 719.7,760.2 720.0,760.2 720.3,760.2 720.7,760.3 721.0,760.4 721.3,760.6 721.6,760.7 722.0,760.8 722.3,760.9 722.6,760.9 723.0,760.9 723.3,760.9 723.6,760.9 723.9,760.8 724.3,760.7 724.6,760.5 724.9,760.3 725.3,760.0 725.6,759.8 725.9,759.8 726.2,759.8 726.6,759.9 726.9,760.0 727.2,760.1 727.6,760.1 727.9,759.9 728.2,759.6 728.5,759.3 728.9,758.8 729.2,758.4 729.5,757.9 729.9,757.6 730.2,757.3 730.5,757.2 730.8,757.2 731.2,757.2 731.5,757.4 731.8,757.5 732.2,757.5 732.5,757.4 732.8,757.3 733.1,757.0 733.5,756.8 733.8,756.4 734.1,755.9 734.5,755.2 734.8,754.3 735.1,753.2 735.4,752.0 735.8,750.7 736.1,749.4 736.4,748.3 736.8,747.2 737.1,746.2 737.4,745.0 737.7,743.6 738.1,741.8 738.4,739.7 738.7,737.1 739.1,733.9 739.4,730.0 739.7,725.4 740.0,720.0 740.4,713.5 740.7,706.0 741.0,697.2 741.4,687.0 741.7,675.7 742.0,663.4 742.3,650.9 742.7,639.4 743.0,630.3 743.3,625.1 743.7,625.5 744.0,635.6 744.3,652.2 744.6,670.6 745.0,687.7 745.3,702.4 745.6,714.4 746.0,723.8 746.3,731.1 746.6,736.7 746.9,741.0 747.3,744.3 747.6,746.9 747.9,748.8 748.3,750.4 748.6,751.7 748.9,752.8 749.2,753.9 749.6,754.9 749.9,756.0 750.2,756.9 750.6,757.8 750.9,758.5 751.2,759.0 751.5,759.4 751.9,759.7 752.2,759.9 752.5,760.1 752.9,760.3 753.2,760.4 753.5,760.5 753.8,760.7 754.2,760.8 754.5,761.0 754.8,761.2 755.1,761.5 755.5,761.6 755.8,761.8 756.1,761.8 756.5,761.9 756.8,761.9 757.1,761.9 757.4,761.9 757.8,761.8 758.1,761.7 758.4,761.6 758.8,761.5 759.1,761.5 759.4,761.7 759.7,761.8 760.1,762.0 760.4,762.2 760.7,762.3 761.1,762.3 761.4,762.3 761.7,762.3 762.0,762.2 762.4,762.1 762.7,762.1 763.0,762.0 763.4,762.1 763.7,762.1 764.0,762.2 764.3,762.2 764.7,762.3 765.0,762.3 765.3,762.3 765.7,762.1 766.0,761.8 766.3,761.5 766.6,761.2 767.0,760.9 767.3,760.7 767.6,760.7 768.0,760.8 768.3,760.9 768.6,761.2 768.9,761.5 769.3,761.8 769.6,762.1 769.9,762.4 770.3,762.6 770.6,762.7 770.9,762.8 771.2,762.8 771.6,762.7 771.9,762.7 772.2,762.6 772.6,762.5 772.9,762.4 773.2,762.3 773.5,762.1 773.9,761.9 774.2,761.7 774.5,761.5 774.9,761.3 775.2,761.1 775.5,760.9 775.8,760.6 776.2,760.1 776.5,759.3 776.8,758.1 777.2,756.5 777.5,754.4 777.8,751.8 778.1,748.9 778.5,745.8 778.8,743.0 779.1,741.4 779.5,741.9 779.8,745.7 780.1,750.3 780.4,754.0 780.8,756.6 781.1,758.3 781.4,759.3 781.8,759.9 782.1,760.2 782.4,760.4 782.7,760.3 783.1,760.1 783.4,759.7 783.7,759.2 784.1,758.7 784.4,758.2 784.7,757.8 785.0,757.5 785.4,757.6 785.7,758.4 786.0,759.8 786.4,761.1 786.7,761.9 787.0,762.5 787.3,762.8 787.7,763.0 788.0,763.2 788.3,763.3 788.7,763.4 789.0,763.4 789.3,763.3 789.6,763.2 790.0,762.9 790.3,762.6 790.6,762.3 791.0,762.1 791.3,762.0 791.6,762.0 791.9,762.1 792.3,762.4 792.6,762.7 792.9,763.1 793.3,763.5 793.6,763.8 793.9,764.3 794.2,764.7 794.6,764.9 794.9,765.1 795.2,765.1 795.6,765.0 795.9,764.7 796.2,764.4 796.5,764.0 796.9,763.5 797.2,763.1 797.5,762.6 797.9,762.1 798.2,761.6 798.5,761.2 798.8,760.7 799.2,760.3 799.5,759.9 799.8,759.6 800.2,759.2 800.5,758.8 800.8,758.3 801.1,757.6 801.5,756.7 801.8,755.5 802.1,753.9 802.5,751.7 802.8,748.9 803.1,745.2 803.4,740.5 803.8,734.3 804.1,726.2 804.4,715.6 804.8,702.0 805.1,685.0 805.4,665.1 805.7,644.3 806.1,627.5 806.4,620.7 806.7,634.5 807.1,664.3 807.4,693.2 807.7,715.0 808.0,729.9 808.4,739.7 808.7,746.1 809.0,750.4 809.4,753.5 809.7,755.9 810.0,757.7 810.3,759.1 810.7,760.1 811.0,760.9 811.3,761.5 811.7,762.0 812.0,762.5 812.3,762.9 812.6,763.3 813.0,763.7 813.3,763.9 813.6,764.1 814.0,764.1 814.3,763.9 814.6,763.6 814.9,763.2 815.3,762.7 815.6,762.3 815.9,761.8 816.3,761.5 816.6,761.4 816.9,761.4 817.2,761.5 817.6,761.6 817.9,761.6 818.2,761.6 818.6,761.6 818.9,761.5 819.2,761.4 819.5,761.3 819.9,761.1 820.2,760.9 820.5,760.6 820.9,760.2 821.2,759.5 821.5,758.6 821.8,757.4 822.2,755.6 822.5,753.3 822.8,750.2 823.2,746.1 823.5,740.8 823.8,734.1 824.1,726.0 824.5,716.5 824.8,706.9 825.1,699.1 825.5,696.1 825.8,702.7 826.1,716.7 826.4,730.1 826.8,740.2 827.1,747.0 827.4,751.3 827.8,754.2 828.1,756.1 828.4,757.4 828.7,758.4 829.1,759.1 829.4,759.6 829.7,759.9 830.1,760.1 830.4,760.1 830.7,759.9 831.0,759.5 831.4,758.8 831.7,757.8 832.0,756.7 832.4,755.3 832.7,753.7 833.0,751.8 833.3,749.4 833.7,746.5 834.0,742.8 834.3,738.5 834.7,733.6 835.0,728.4 835.3,723.3 835.6,719.1 836.0,716.8 836.3,717.4 836.6,722.7 836.9,730.5 837.3,738.1 837.6,744.6 837.9,749.5 838.3,753.1 838.6,755.8 838.9,757.7 839.2,759.0 839.6,760.0 839.9,760.6 840.2,761.0 840.6,761.3 840.9,761.5 841.2,761.7 841.5,762.0 841.9,762.3 842.2,762.7 842.5,763.0 842.9,763.1 843.2,763.2 843.5,763.1 843.8,763.0 844.2,762.8 844.5,762.6 844.8,762.4 845.2,762.0 845.5,761.5 845.8,760.9 846.1,760.3 846.5,759.5 846.8,758.8 847.1,758.0 847.5,757.2 847.8,756.4 848.1,755.6 848.4,754.7 848.8,753.6 849.1,752.3 849.4,750.6 849.8,748.4 850.1,745.5 850.4,741.6 850.7,736.5 851.1,729.8 851.4,721.3 851.7,710.6 852.1,697.5 852.4,682.3 852.7,666.6 853.0,653.4 853.4,646.9 853.7,654.1 854.0,671.9 854.4,688.8 854.7,700.6 855.0,707.6 855.3,711.1 855.7,712.2 856.0,712.0 856.3,711.3 856.7,710.3 857.0,709.6 857.3,709.3 857.6,709.8 858.0,712.1 858.3,715.8 858.6,720.7 859.0,725.9 859.3,731.2 859.6,736.2 859.9,740.6 860.3,744.5 860.6,747.9 860.9,750.6 861.3,753.0 861.6,754.8 861.9,756.3 862.2,757.5 862.6,758.4 862.9,759.1 863.2,759.7 863.6,760.3 863.9,760.8 864.2,761.4 864.5,762.0 864.9,762.6 865.2,763.2 865.5,763.7 865.9,764.0 866.2,764.1 866.5,764.1 866.8,763.9 867.2,763.5 867.5,763.1 867.8,762.7 868.2,762.2 868.5,761.8 868.8,761.3 869.1,760.9 869.5,760.3 869.8,759.4 870.1,758.3 870.5,756.9 870.8,755.0 871.1,752.8 871.4,750.7 871.8,749.3 872.1,749.2 872.4,751.5 872.8,754.5 873.1,757.1 873.4,758.9 873.7,760.1 874.1,760.8 874.4,761.0 874.7,760.9 875.1,760.3 875.4,759.4 875.7,757.9 876.0,756.0 876.4,753.4 876.7,750.2 877.0,746.3 877.4,742.0 877.7,737.9 878.0,735.3 878.3,735.7 878.7,740.7 879.0,747.0 879.3,752.1 879.7,755.7 880.0,758.1 880.3,759.5 880.6,760.5 881.0,761.0 881.3,761.4 881.6,761.5 882.0,761.6 882.3,761.4 882.6,761.1 882.9,760.6 883.3,759.8 883.6,758.6 883.9,757.1 884.3,755.3 884.6,753.6 884.9,752.4 885.2,752.5 885.6,754.7 885.9,757.6 886.2,760.0 886.6,761.7 886.9,763.0 887.2,763.8 887.5,764.3 887.9,764.6 888.2,764.6 888.5,764.4 888.9,764.1 889.2,763.7 889.5,763.3 889.8,762.9 890.2,762.6 890.5,762.3 890.8,762.1 891.2,761.8 891.5,761.5 891.8,761.3 892.1,761.1 892.5,760.9 892.8,760.5 893.1,759.9 893.5,759.1 893.8,758.0 894.1,756.6 894.4,755.0 894.8,753.2 895.1,751.3 895.4,749.3 895.8,747.3 896.1,745.5 896.4,744.2 896.7,743.6 897.1,744.1 897.4,746.0 897.7,748.6 898.1,751.4 898.4,753.9 898.7,756.0 899.0,757.7 899.4,759.0 899.7,759.9 900.0,760.6 900.4,761.1 900.7,761.5 901.0,761.8 901.3,762.1 901.7,762.3 902.0,762.5 902.3,762.6 902.7,762.6 903.0,762.6 903.3,762.6 903.6,762.6 904.0,762.7 904.3,762.8 904.6,762.9 905.0,763.0 905.3,763.0 905.6,762.9 905.9,762.7 906.3,762.3 906.6,761.9 906.9,761.4 907.3,760.9 907.6,760.3 907.9,759.7 908.2,759.1 908.6,758.4 908.9,757.6 909.2,756.6 909.6,755.6 909.9,754.4 910.2,753.3 910.5,752.2 910.9,751.3 911.2,750.6 911.5,750.1 911.9,750.0 912.2,750.1 912.5,750.8 912.8,751.7 913.2,752.7 913.5,753.6 913.8,754.3 914.2,754.8 914.5,755.1 914.8,755.3 915.1,755.3 915.5,755.2 915.8,754.8 916.1,754.1 916.5,752.9 916.8,751.2 917.1,748.7 917.4,745.3 917.8,741.0 918.1,736.1 918.4,731.5 918.7,728.3 919.1,728.0 919.4,732.5 919.7,738.2 920.1,742.8 920.4,745.8 920.7,747.3 921.0,747.9 921.4,747.7 921.7,746.8 922.0,745.2 922.4,742.8 922.7,739.4 923.0,734.5 923.3,727.9 923.7,719.3 924.0,708.6 924.3,696.2 924.7,683.3 925.0,672.6 925.3,667.6 925.6,674.3 926.0,689.6 926.3,703.6 926.6,712.5 927.0,716.1 927.3,715.1 927.6,710.6 927.9,703.8 928.3,696.8 928.6,692.4 928.9,693.9 929.3,705.2 929.6,719.0 929.9,730.4 930.2,738.3 930.6,743.5 930.9,746.8 931.2,748.9 931.6,750.2 931.9,751.1 932.2,751.6 932.5,751.7 932.9,751.4 933.2,750.9 933.5,750.0 933.9,748.8 934.2,747.4 934.5,745.5 934.8,743.1 935.2,739.8 935.5,735.3 935.8,729.1 936.2,720.9 936.5,710.9 936.8,699.5 937.1,688.7 937.5,681.5 937.8,681.8 938.1,693.9 938.5,709.2 938.8,721.4 939.1,729.3 939.4,733.4 939.8,734.5 940.1,733.5 940.4,731.0 940.8,727.8 941.1,725.1 941.4,724.6 941.7,728.9 942.1,736.7 942.4,744.2 942.7,749.7 943.1,753.6 943.4,756.1 943.7,757.7 944.0,758.9 944.4,759.7 944.7,760.2 945.0,760.6 945.4,760.9 945.7,761.0 946.0,761.2 946.3,761.4 946.7,761.7 947.0,762.0 947.3,762.3 947.7,762.5 948.0,762.7 948.3,762.8 948.6,762.8 949.0,762.7 949.3,762.4 949.6,762.1 950.0,761.7 950.3,761.2 950.6,760.7 950.9,760.2 951.3,759.5 951.6,758.8 951.9,758.0 952.3,757.0 952.6,755.9 952.9,754.5 953.2,752.7 953.6,750.3 953.9,747.0 954.2,742.6 954.6,736.8 954.9,729.8 955.2,722.0 955.5,714.7 955.9,710.0 956.2,710.5 956.5,719.2 956.9,730.2 957.2,739.2 957.5,745.5 957.8,749.4 958.2,751.7 958.5,752.9 958.8,753.3 959.2,753.0 959.5,752.2 959.8,750.8 960.1,748.6 960.5,745.6 960.8,741.4 961.1,735.9 961.5,729.0 961.8,720.8 962.1,712.2 962.4,705.0 962.8,701.8 963.1,706.7 963.4,717.9 963.8,728.6 964.1,736.2 964.4,740.8 964.7,742.9 965.1,742.9 965.4,741.4 965.7,738.5 966.1,734.6 966.4,730.4 966.7,726.8 967.0,725.5 967.4,728.5 967.7,735.0 968.0,741.1 968.4,745.4 968.7,747.9 969.0,748.9 969.3,749.0 969.7,748.5 970.0,747.5 970.3,746.4 970.7,745.2 971.0,744.3 971.3,743.7 971.6,743.5 972.0,744.0 972.3,745.5 972.6,747.6 973.0,750.0 973.3,752.4 973.6,754.6 973.9,756.5 974.3,758.0 974.6,759.3 974.9,760.2 975.3,761.0 975.6,761.4 975.9,761.7 976.2,761.9 976.6,761.9 976.9,761.9 977.2,761.9 977.6,761.9 977.9,761.8 978.2,761.9 978.5,761.9 978.9,762.0 979.2,762.1 979.5,762.2 979.9,762.2 980.2,762.1 980.5,761.9 980.8,761.5 981.2,761.0 981.5,760.3 981.8,759.4 982.2,758.4 982.5,757.1 982.8,755.3 983.1,753.1 983.5,750.1 983.8,746.3 984.1,741.6 984.5,735.8 984.8,729.5 985.1,723.7 985.4,720.1 985.8,720.9 986.1,728.6 986.4,738.1 986.8,746.0 987.1,751.5 987.4,755.2 987.7,757.6 988.1,759.2 988.4,760.4 988.7,761.2 989.1,761.8 989.4,762.3 989.7,762.5 990.0,762.7 990.4,762.7 990.7,762.7 991.0,762.7 991.4,762.6 991.7,762.5 992.0,762.4 992.3,762.4 992.7,762.4 993.0,762.4 993.3,762.4 993.7,762.3 994.0,762.2 994.3,761.9 994.6,761.5 995.0,760.9 995.3,760.3 995.6,759.5 996.0,758.6 996.3,757.6 996.6,756.4 996.9,755.2 997.3,753.8 997.6,752.4 997.9,751.3 998.3,750.5 998.6,750.3 998.9,751.1 999.2,753.0 999.6,755.0 999.9,756.8 1000.2,758.0 1000.5,758.8 1000.9,759.3 1001.2,759.5 1001.5,759.7 1001.9,760.0 1002.2,760.3 1002.5,760.6 1002.8,760.9 1003.2,761.1 1003.5,761.2 1003.8,761.0 1004.2,760.7 1004.5,760.4 1004.8,760.0 1005.1,759.8 1005.5,759.8 1005.8,759.7 1006.1,759.7 1006.5,759.6 1006.8,759.3 1007.1,758.9 1007.4,758.5 1007.8,758.0 1008.1,757.6 1008.4,757.3 1008.8,757.1 1009.1,756.9 1009.4,756.8 1009.7,756.7 1010.1,756.5 1010.4,756.4 1010.7,756.2 1011.1,755.9 1011.4,755.7 1011.7,755.4 1012.0,755.1 1012.4,754.9 1012.7,754.7 1013.0,754.6 1013.4,754.6 1013.7,754.5 1014.0,754.2 1014.3,753.7 1014.7,753.0 1015.0,752.1 1015.3,750.9 1015.7,749.3 1016.0,747.1 1016.3,744.1 1016.6,740.2 1017.0,735.2 1017.3,729.2 1017.6,722.4 1018.0,716.0 1018.3,711.9 1018.6,712.5 1018.9,720.3 1019.3,730.0 1019.6,737.9 1019.9,743.2 1020.3,746.2 1020.6,747.4 1020.9,747.5 1021.2,746.6 1021.6,745.3 1021.9,743.8 1022.2,742.6 1022.6,741.9 1022.9,742.2 1023.2,744.1 1023.5,746.9 1023.9,749.7 1024.2,752.1 1024.5,754.0 1024.9,755.5 1025.2,756.4 1025.5,757.0 1025.8,757.0 1026.2,756.2 1026.5,754.9 1026.8,753.2 1027.2,751.1 1027.5,748.6 1027.8,745.7 1028.1,742.3 1028.5,738.4 1028.8,733.9 1029.1,728.6 1029.5,722.6 1029.8,715.9 1030.1,708.8 1030.4,701.5 1030.8,694.8 1031.1,689.4 1031.4,685.9 1031.8,686.0 1032.1,689.6 1032.4,694.4 1032.7,698.7 1033.1,701.8 1033.4,703.5 1033.7,704.2 1034.1,704.1 1034.4,703.7 1034.7,703.4 1035.0,703.4 1035.4,703.9 1035.7,705.5 1036.0,708.7 1036.4,713.0 1036.7,717.8 1037.0,722.9 1037.3,727.7 1037.7,732.1 1038.0,736.1 1038.3,739.5 1038.7,742.4 1039.0,744.7 1039.3,746.7 1039.6,748.3 1040.0,749.5 1040.3,750.5 1040.6,751.3 1041.0,751.9 1041.3,752.3 1041.6,752.5 1041.9,752.3 1042.3,751.8 1042.6,750.7 1042.9,749.0 1043.3,746.7 1043.6,743.8 1043.9,740.2 1044.2,736.3 1044.6,732.2 1044.9,728.5 1045.2,725.9 1045.6,725.0 1045.9,727.4 1046.2,733.0 1046.5,739.6 1046.9,745.6 1047.2,750.4 1047.5,754.0 1047.9,756.5 1048.2,758.2 1048.5,759.3 1048.8,760.1 1049.2,760.8 1049.5,761.4 1049.8,762.0 1050.2,762.6 1050.5,763.2 1050.8,763.6 1051.1,763.9 1051.5,764.0 1051.8,763.9 1052.1,763.6 1052.5,763.2 1052.8,762.9 1053.1,762.6 1053.4,762.5 1053.8,762.6 1054.1,762.8 1054.4,763.0 1054.8,763.2 1055.1,763.3 1055.4,763.3 1055.7,763.3 1056.1,763.4 1056.4,763.4 1056.7,763.5 1057.1,763.6 1057.4,763.6 1057.7,763.5 1058.0,763.5 1058.4,763.4 1058.7,763.3 1059.0,763.3 1059.4,763.3 1059.7,763.3 1060.0,763.2 1060.3,763.0 1060.7,762.7 1061.0,762.4 1061.3,762.1 1061.7,761.9 1062.0,761.8 1062.3,761.8 1062.6,761.7 1063.0,761.6 1063.3,761.2 1063.6,760.7 1064.0,759.9 1064.3,758.8 1064.6,757.5 1064.9,756.0 1065.3,754.2 1065.6,752.2 1065.9,750.0 1066.3,747.8 1066.6,746.1 1066.9,745.7 1067.2,747.6 1067.6,751.2 1067.9,754.7 1068.2,757.2 1068.6,758.9 1068.9,759.9 1069.2,760.5 1069.5,760.8 1069.9,760.7 1070.2,760.3 1070.5,759.5 1070.9,758.3 1071.2,756.6 1071.5,754.8 1071.8,752.9 1072.2,751.7 1072.5,751.8 1072.8,753.7 1073.2,756.3 1073.5,758.5 1073.8,760.0 1074.1,761.0 1074.5,761.4 1074.8,761.6 1075.1,761.5 1075.5,761.4 1075.8,761.3 1076.1,761.3 1076.4,761.5 1076.8,761.7 1077.1,761.9 1077.4,762.1 1077.8,762.2 1078.1,762.2 1078.4,762.1 1078.7,762.0 1079.1,761.8 1079.4,761.6 1079.7,761.3 1080.1,761.0 1080.4,760.6 1080.7,760.1 1081.0,759.6 1081.4,759.1 1081.7,758.4 1082.0,757.7 1082.4,756.9 1082.7,756.0 1083.0,755.1 1083.3,754.2 1083.7,753.3 1084.0,752.4 1084.3,751.5 1084.6,750.8 1085.0,750.2 1085.3,749.7 1085.6,749.4 1086.0,749.4 1086.3,749.9 1086.6,750.9 1086.9,752.2 1087.3,753.5 1087.6,754.7 1087.9,755.9 1088.3,756.9 1088.6,757.7 1088.9,758.4 1089.2,758.9 1089.6,759.4 1089.9,759.8 1090.2,760.2 1090.6,760.5 1090.9,760.9 1091.2,761.2 1091.5,761.6 1091.9,761.9 1092.2,762.2 1092.5,762.4 1092.9,762.6 1093.2,762.7 1093.5,762.6 1093.8,762.4 1094.2,762.1 1094.5,761.8 1094.8,761.4 1095.2,761.1 1095.5,761.0 1095.8,761.1 1096.1,761.4 1096.5,761.8 1096.8,762.3 1097.1,762.7 1097.5,762.9 1097.8,762.9 1098.1,762.7 1098.4,762.4 1098.8,762.0 1099.1,761.7 1099.4,761.4 1099.8,761.2 1100.1,761.0 1100.4,760.8 1100.7,760.6 1101.1,760.4 1101.4,760.2 1101.7,760.0 1102.1,759.9 1102.4,759.8 1102.7,759.9 1103.0,760.2 1103.4,760.5 1103.7,761.0 1104.0,761.3 1104.4,761.6 1104.7,761.7 1105.0,761.5 1105.3,761.2 1105.7,760.8 1106.0,760.3 1106.3,759.7 1106.7,759.2 1107.0,758.9 1107.3,758.6 1107.6,758.4 1108.0,758.2 1108.3,758.1 1108.6,757.9 1109.0,757.6 1109.3,757.2 1109.6,756.6 1109.9,756.0 1110.3,755.2 1110.6,754.4 1110.9,753.5 1111.3,752.7 1111.6,751.7 1111.9,750.7 1112.2,749.6 1112.6,748.3 1112.9,746.9 1113.2,745.4 1113.6,743.9 1113.9,742.5 1114.2,741.3 1114.5,740.2 1114.9,739.2 1115.2,738.3 1115.5,737.5 1115.9,736.8 1116.2,735.9 1116.5,734.8 1116.8,733.4 1117.2,731.6 1117.5,729.5 1117.8,727.4 1118.2,725.7 1118.5,724.8 1118.8,725.5 1119.1,728.9 1119.5,733.9 1119.8,738.9 1120.1,743.2 1120.5,746.6 1120.8,748.9 1121.1,750.2 1121.4,750.7 1121.8,750.5 1122.1,749.8 1122.4,748.8 1122.8,747.6 1123.1,746.3 1123.4,745.1 1123.7,744.1 1124.1,743.7 1124.4,744.1 1124.7,746.1 1125.1,748.8 1125.4,751.6 1125.7,753.9 1126.0,755.7 1126.4,757.0 1126.7,758.0 1127.0,758.7 1127.4,759.4 1127.7,760.0 1128.0,760.5 1128.3,760.9 1128.7,761.3 1129.0,761.7 1129.3,762.0 1129.7,762.3 1130.0,762.5 1130.3,762.8 1130.6,763.1 1131.0,763.3 1131.3,763.5 1131.6,763.6 1132.0,763.6 1132.3,763.6 1132.6,763.6 1132.9,763.7 1133.3,763.8 1133.6,764.0 1133.9,764.1 1134.3,764.2 1134.6,764.2 1134.9,764.1 1135.2,764.1 1135.6,764.0 1135.9,763.9 1136.2,763.8 1136.6,763.5 1136.9,763.2 1137.2,762.8 1137.5,762.4 1137.9,762.0 1138.2,761.7 1138.5,761.3 1138.9,760.8 1139.2,760.3 1139.5,759.8 1139.8,759.2 1140.2,758.5 1140.5,757.8 1140.8,757.1 1141.2,756.4 1141.5,755.7 1141.8,755.1 1142.1,754.5 1142.5,753.9 1142.8,753.4 1143.1,753.1 1143.5,752.9 1143.8,752.8 1144.1,752.8 1144.4,752.9 1144.8,753.2 1145.1,753.7 1145.4,754.2 1145.8,754.8 1146.1,755.4 1146.4,756.0 1146.7,756.6 1147.1,757.1 1147.4,757.7 1147.7,758.2 1148.1,758.7 1148.4,759.2 1148.7,759.7 1149.0,760.1 1149.4,760.4 1149.7,760.6 1150.0,760.7 1150.4,760.7 1150.7,760.6 1151.0,760.7 1151.3,760.8 1151.7,761.1 1152.0,761.5 1152.3,761.9 1152.7,762.4 1153.0,762.8 1153.3,763.2 1153.6,763.4 1154.0,763.4 1154.3,763.4 1154.6,763.2 1155.0,763.0 1155.3,762.9 1155.6,762.7 1155.9,762.4 1156.3,762.1 1156.6,761.7 1156.9,761.2 1157.3,760.6 1157.6,760.1 1157.9,759.8 1158.2,759.6 1158.6,759.6 1158.9,759.8 1159.2,760.1 1159.6,760.4 1159.9,760.6 1160.2,760.7 1160.5,760.7 1160.9,760.7 1161.2,760.7 1161.5,760.7 1161.9,760.7 1162.2,760.8 1162.5,760.9 1162.8,761.1 1163.2,761.3 1163.5,761.4 1163.8,761.4 1164.2,761.2 1164.5,760.8 1164.8,760.3 1165.1,759.6 1165.5,758.8 1165.8,758.1 1166.1,757.3 1166.4,756.5 1166.8,755.6 1167.1,754.6 1167.4,753.4 1167.8,752.1 1168.1,750.6 1168.4,749.2 1168.7,748.0 1169.1,747.3 1169.4,747.4 1169.7,748.7 1170.1,750.8 1170.4,753.0 1170.7,754.8 1171.0,756.3 1171.4,757.5 1171.7,758.3 1172.0,758.9 1172.4,759.3 1172.7,759.6 1173.0,759.8 1173.3,760.0 1173.7,760.3 1174.0,760.6 1174.3,760.8 1174.7,761.0 1175.0,761.0 1175.3,760.8 1175.6,760.5 1176.0,760.1 1176.3,759.7 1176.6,759.4 1177.0,759.3 1177.3,759.3 1177.6,759.6 1177.9,759.9 1178.3,760.3 1178.6,760.7 1178.9,761.1 1179.3,761.3 1179.6,761.5 1179.9,761.6 1180.2,761.5 1180.6,761.2 1180.9,760.9 1181.2,760.5 1181.6,760.0 1181.9,759.6 1182.2,759.2 1182.5,758.9 1182.9,758.7 1183.2,758.6 1183.5,758.4 1183.9,758.3 1184.2,758.1 1184.5,757.8 1184.8,757.4 1185.2,757.1 1185.5,756.8 1185.8,756.4 1186.2,756.0 1186.5,755.4 1186.8,754.7 1187.1,753.8 1187.5,752.8 1187.8,751.8 1188.1,750.8 1188.5,749.8 1188.8,748.9 1189.1,748.0 1189.4,747.1 1189.8,746.4 1190.1,745.7 1190.4,745.1 1190.8,744.4 1191.1,743.7 1191.4,743.0 1191.7,742.1 1192.1,741.1 1192.4,740.1 1192.7,739.1 1193.1,738.2 1193.4,737.4 1193.7,736.8 1194.0,736.4 1194.4,736.3 1194.7,736.7 1195.0,737.7 1195.4,739.2 1195.7,741.2 1196.0,743.4 1196.3,745.6 1196.7,747.8 1197.0,749.8 1197.3,751.6 1197.7,753.2 1198.0,754.6 1198.3,755.8 1198.6,756.8 1199.0,757.7 1199.3,758.4 1199.6,758.9 1200.0,759.4 1200.3,759.7 1200.6,760.0 1200.9,760.3 1201.3,760.5 1201.6,760.8 1201.9,761.1 1202.3,761.4 1202.6,761.9 1202.9,762.4 1203.2,762.9 1203.6,763.3 1203.9,763.7 1204.2,763.9 1204.6,764.0 1204.9,764.0 1205.2,763.8 1205.5,763.6 1205.9,763.3 1206.2,763.0 1206.5,762.8 1206.9,762.7 1207.2,762.6 1207.5,762.6 1207.8,762.6 1208.2,762.6 1208.5,762.6 1208.8,762.5 1209.2,762.2 1209.5,761.8 1209.8,761.3 1210.1,760.7 1210.5,760.1 1210.8,759.6 1211.1,759.1 1211.5,758.7 1211.8,758.3 1212.1,758.0 1212.4,757.8 1212.8,757.6 1213.1,757.4 1213.4,757.1 1213.8,756.7 1214.1,756.3 1214.4,755.7 1214.7,755.2 1215.1,754.6 1215.4,754.0 1215.7,753.6 1216.1,753.2 1216.4,753.0 1216.7,753.0 1217.0,752.9 1217.4,752.9 1217.7,752.8 1218.0,752.6 1218.4,752.4 1218.7,752.3 1219.0,752.3 1219.3,752.5 1219.7,752.8 1220.0,753.4 1220.3,754.1 1220.7,754.9 1221.0,755.7 1221.3,756.4 1221.6,757.0 1222.0,757.4 1222.3,757.8 1222.6,758.2 1223.0,758.5 1223.3,758.8 1223.6,759.2 1223.9,759.5 1224.3,759.8 1224.6,760.0 1224.9,760.3 1225.3,760.7 1225.6,761.0 1225.9,761.2 1226.2,761.4 1226.6,761.5 1226.9,761.5 1227.2,761.3 1227.6,761.0 1227.9,760.7 1228.2,760.3 1228.5,759.9 1228.9,759.6 1229.2,759.3 1229.5,759.2 1229.9,759.2 1230.2,759.3 1230.5,759.4 1230.8,759.5 1231.2,759.5 1231.5,759.3 1231.8,758.9 1232.2,758.4 1232.5,757.8 1232.8,757.2 1233.1,756.6 1233.5,756.1 1233.8,755.6 1234.1,755.2 1234.5,754.7 1234.8,754.3 1235.1,753.8 1235.4,753.5 1235.8,753.2 1236.1,753.1 1236.4,753.0 1236.8,753.0 1237.1,753.0 1237.4,753.0 1237.7,753.1 1238.1,753.2 1238.4,753.4 1238.7,753.7 1239.1,754.1 1239.4,754.5 1239.7,755.0 1240.0,755.5 1240.4,755.9 1240.7,756.4 1241.0,756.9 1241.4,757.3 1241.7,757.8 1242.0,758.1 1242.3,758.4 1242.7,758.7 1243.0,758.9 1243.3,759.2 1243.7,759.4 1244.0,759.7 1244.3,760.1 1244.6,760.5 1245.0,760.9 1245.3,761.3 1245.6,761.6 1246.0,761.9 1246.3,762.1 1246.6,762.2 1246.9,762.4 1247.3,762.5 1247.6,762.7 1247.9,762.9 1248.2,763.1 1248.6,763.2 1248.9,763.0 1249.2,762.7 1249.6,762.3 1249.9,761.7 1250.2,760.9 1250.5,760.0 1250.9,759.0 1251.2,757.9 1251.5,756.7 1251.9,755.5 1252.2,754.1 1252.5,752.7 1252.8,751.2 1253.2,749.7 1253.5,748.2 1253.8,746.9 1254.2,745.8 1254.5,745.1 1254.8,744.8 1255.1,745.2 1255.5,746.3 1255.8,747.9 1256.1,749.5 1256.5,750.9 1256.8,752.2 1257.1,753.4 1257.4,754.3 1257.8,755.1 1258.1,755.5 1258.4,755.7 1258.8,755.5 1259.1,755.1 1259.4,754.6 1259.7,754.0 1260.1,753.5 1260.4,753.0 1260.7,752.6 1261.1,752.2 1261.4,751.8 1261.7,751.4 1262.0,751.1 1262.4,750.9 1262.7,751.1 1263.0,751.6 1263.4,752.5 1263.7,753.5 1264.0,754.6 1264.3,755.8 1264.7,756.9 1265.0,758.0 1265.3,759.0 1265.7,759.9 1266.0,760.7 1266.3,761.3 1266.6,761.6 1267.0,761.7 1267.3,761.6 1267.6,761.5 1268.0,761.5 1268.3,761.5 1268.6,761.6 1268.9,761.8 1269.3,761.9 1269.6,762.1 1269.9,762.1 1270.3,762.2 1270.6,762.2 1270.9,762.2 1271.2,762.2 1271.6,762.2 1271.9,762.2 1272.2,762.2 1272.6,762.1 1272.9,761.9 1273.2,761.7 1273.5,761.5 1273.9,761.2 1274.2,760.8 1274.5,760.6 1274.9,760.4 1275.2,760.3 1275.5,760.3 1275.8,760.4 1276.2,760.5 1276.5,760.7 1276.8,760.8 1277.2,760.8 1277.5,760.8 1277.8,760.9 1278.1,761.0 1278.5,761.1 1278.8,761.3 1279.1,761.4 1279.5,761.5 1279.8,761.5 1280.1,761.6 1280.4,761.6 1280.8,761.6 1281.1,761.6 1281.4,761.5 1281.8,761.4 1282.1,761.3 1282.4,761.2 1282.7,761.0 1283.1,761.0 1283.4,760.9 1283.7,760.8 1284.1,760.8 1284.4,760.7 1284.7,760.5 1285.0,760.4 1285.4,760.2 1285.7,760.2 1286.0,760.1 1286.4,760.2 1286.7,760.2 1287.0,760.2 1287.3,760.2 1287.7,760.1 1288.0,760.1" fill="none" stroke="#ee3e3f" stroke-width="3.9" stroke-linejoin="round"/>
<path d="M713.1,597.9 713.4,597.8 713.8,597.8 714.1,598.0 714.4,598.3 714.7,598.7 715.1,599.0 715.4,599.4 715.7,599.5 716.1,599.6 716.4,599.5 716.7,599.4 717.0,599.2 717.4,599.1 717.7,598.9 718.0,598.8 718.4,598.6 718.7,598.3 719.0,598.1 719.3,597.9 719.7,597.8 720.0,597.7 720.3,597.5 720.7,597.4 721.0,597.2 721.3,597.0 721.6,596.8 722.0,596.8 722.3,596.9 722.6,597.2 723.0,597.5 723.3,597.8 723.6,598.0 723.9,598.2 724.3,598.3 724.6,598.3 724.9,598.2 725.3,598.1 725.6,598.0 725.9,597.9 726.2,597.8 726.6,597.8 726.9,597.9 727.2,597.9 727.6,598.1 727.9,598.2 728.2,598.4 728.5,598.6 728.9,598.7 729.2,598.8 729.5,598.7 729.9,598.5 730.2,598.2 730.5,597.9 730.8,597.5 731.2,597.1 731.5,596.7 731.8,596.3 732.2,595.8 732.5,595.3 732.8,594.7 733.1,594.1 733.5,593.5 733.8,593.0 734.1,592.5 734.5,592.1 734.8,591.7 735.1,591.4 735.4,591.1 735.8,590.8 736.1,590.5 736.4,590.2 736.8,589.8 737.1,589.4 737.4,588.8 737.7,587.8 738.1,586.6 738.4,584.8 738.7,582.6 739.1,579.8 739.4,576.5 739.7,572.7 740.0,568.2 740.4,563.0 740.7,557.0 741.0,550.2 741.4,542.5 741.7,534.0 742.0,525.1 742.3,516.1 742.7,507.8 743.0,501.3 743.3,497.7 743.7,498.3 744.0,506.0 744.3,518.4 744.6,532.1 745.0,544.9 745.3,555.8 745.6,564.6 746.0,571.5 746.3,576.7 746.6,580.6 746.9,583.5 747.3,585.7 747.6,587.2 747.9,588.5 748.3,589.5 748.6,590.3 748.9,591.0 749.2,591.7 749.6,592.3 749.9,592.8 750.2,593.2 750.6,593.6 750.9,594.0 751.2,594.3 751.5,594.6 751.9,594.9 752.2,595.1 752.5,595.3 752.9,595.4 753.2,595.6 753.5,595.7 753.8,595.8 754.2,595.9 754.5,596.0 754.8,596.1 755.1,596.2 755.5,596.5 755.8,596.8 756.1,597.3 756.5,597.8 756.8,598.2 757.1,598.6 757.4,598.9 757.8,599.0 758.1,598.9 758.4,598.8 758.8,598.7 759.1,598.6 759.4,598.6 759.7,598.7 760.1,598.8 760.4,599.0 760.7,599.1 761.1,599.3 761.4,599.4 761.7,599.4 762.0,599.3 762.4,599.3 762.7,599.2 763.0,599.1 763.4,599.0 763.7,598.9 764.0,598.9 764.3,598.9 764.7,599.1 765.0,599.3 765.3,599.5 765.7,599.7 766.0,599.7 766.3,599.6 766.6,599.4 767.0,599.1 767.3,598.8 767.6,598.5 768.0,598.3 768.3,598.3 768.6,598.3 768.9,598.4 769.3,598.6 769.6,598.7 769.9,598.7 770.3,598.6 770.6,598.4 770.9,598.1 771.2,597.9 771.6,597.8 771.9,597.8 772.2,598.0 772.6,598.3 772.9,598.5 773.2,598.7 773.5,598.7 773.9,598.5 774.2,598.2 774.5,597.8 774.9,597.4 775.2,597.0 775.5,596.5 775.8,596.0 776.2,595.4 776.5,594.6 776.8,593.5 777.2,592.2 777.5,590.5 777.8,588.5 778.1,586.4 778.5,584.5 778.8,583.4 779.1,583.8 779.5,586.6 779.8,589.9 780.1,592.7 780.4,594.7 780.8,596.2 781.1,597.2 781.4,597.8 781.8,598.2 782.1,598.2 782.4,598.0 782.7,597.6 783.1,597.0 783.4,596.3 783.7,595.6 784.1,594.8 784.4,593.8 784.7,592.8 785.0,591.9 785.4,591.5 785.7,592.1 786.0,593.6 786.4,595.0 786.7,596.2 787.0,597.0 787.3,597.7 787.7,598.1 788.0,598.4 788.3,598.6 788.7,598.8 789.0,598.9 789.3,599.0 789.6,599.1 790.0,599.2 790.3,599.2 790.6,599.2 791.0,599.1 791.3,598.9 791.6,598.7 791.9,598.5 792.3,598.6 792.6,598.7 792.9,599.0 793.3,599.4 793.6,599.9 793.9,600.3 794.2,600.6 794.6,600.8 794.9,600.9 795.2,600.9 795.6,600.8 795.9,600.6 796.2,600.4 796.5,600.2 796.9,600.1 797.2,600.1 797.5,600.2 797.9,600.3 798.2,600.4 798.5,600.4 798.8,600.4 799.2,600.2 799.5,599.9 799.8,599.4 800.2,598.8 800.5,598.0 800.8,597.2 801.1,596.3 801.5,595.3 801.8,594.1 802.1,592.8 802.5,591.2 802.8,589.3 803.1,586.7 803.4,583.3 803.8,578.9 804.1,573.1 804.4,565.5 804.8,555.8 805.1,543.6 805.4,528.5 805.7,511.0 806.1,492.8 806.4,478.2 806.7,472.5 807.1,484.9 807.4,511.5 807.7,537.1 808.0,556.5 808.4,569.8 808.7,578.6 809.0,584.3 809.4,588.2 809.7,590.9 810.0,592.8 810.3,594.4 810.7,595.6 811.0,596.5 811.3,597.2 811.7,597.8 812.0,598.3 812.3,598.6 812.6,598.7 813.0,598.8 813.3,598.8 813.6,598.9 814.0,598.9 814.3,599.1 814.6,599.3 814.9,599.4 815.3,599.6 815.6,599.6 815.9,599.5 816.3,599.4 816.6,599.3 816.9,599.1 817.2,599.0 817.6,599.0 817.9,599.0 818.2,598.9 818.6,598.7 818.9,598.4 819.2,597.9 819.5,597.3 819.9,596.6 820.2,596.0 820.5,595.3 820.9,594.6 821.2,593.9 821.5,592.8 821.8,591.4 822.2,589.5 822.5,587.0 822.8,583.7 823.2,579.4 823.5,573.9 823.8,566.8 824.1,558.0 824.5,547.5 824.8,536.6 825.1,527.7 825.5,524.2 825.8,531.6 826.1,547.5 826.4,562.8 826.8,574.2 827.1,581.9 827.4,586.9 827.8,590.0 828.1,592.1 828.4,593.6 828.7,594.7 829.1,595.5 829.4,595.9 829.7,596.1 830.1,596.0 830.4,595.7 830.7,595.3 831.0,594.8 831.4,594.3 831.7,593.9 832.0,593.4 832.4,592.8 832.7,591.8 833.0,590.3 833.3,588.3 833.7,585.6 834.0,582.2 834.3,578.2 834.7,573.6 835.0,568.8 835.3,564.0 835.6,560.2 836.0,557.9 836.3,558.3 836.6,563.0 836.9,569.9 837.3,576.9 837.6,582.8 837.9,587.4 838.3,590.8 838.6,593.3 838.9,595.1 839.2,596.4 839.6,597.3 839.9,597.9 840.2,598.2 840.6,598.3 840.9,598.5 841.2,598.6 841.5,598.9 841.9,599.2 842.2,599.5 842.5,599.8 842.9,600.0 843.2,600.1 843.5,600.0 843.8,600.0 844.2,600.0 844.5,600.0 844.8,600.0 845.2,599.8 845.5,599.5 845.8,599.1 846.1,598.6 846.5,598.0 846.8,597.4 847.1,596.7 847.5,596.1 847.8,595.4 848.1,594.6 848.4,593.7 848.8,592.6 849.1,591.3 849.4,589.5 849.8,587.4 850.1,584.9 850.4,581.8 850.7,578.1 851.1,573.5 851.4,567.7 851.7,560.2 852.1,550.8 852.4,539.1 852.7,525.3 853.0,510.7 853.4,498.2 853.7,491.5 854.0,497.3 854.4,512.6 854.7,527.2 855.0,537.2 855.3,543.0 855.7,545.6 856.0,546.2 856.3,545.9 856.7,545.2 857.0,544.8 857.3,544.8 857.6,545.7 858.0,548.3 858.3,552.4 858.6,557.4 859.0,562.8 859.3,568.0 859.6,572.8 859.9,577.2 860.3,581.0 860.6,584.3 860.9,587.0 861.3,589.3 861.6,591.1 861.9,592.5 862.2,593.6 862.6,594.4 862.9,595.2 863.2,595.9 863.6,596.6 863.9,597.3 864.2,597.9 864.5,598.4 864.9,598.8 865.2,599.1 865.5,599.1 865.9,599.1 866.2,598.9 866.5,598.8 866.8,598.7 867.2,598.7 867.5,598.8 867.8,598.8 868.2,598.8 868.5,598.5 868.8,598.2 869.1,597.6 869.5,596.9 869.8,596.0 870.1,594.8 870.5,593.1 870.8,591.0 871.1,588.7 871.4,586.4 871.8,584.9 872.1,585.0 872.4,587.8 872.8,591.2 873.1,594.0 873.4,595.8 873.7,596.8 874.1,597.3 874.4,597.4 874.7,597.3 875.1,596.9 875.4,596.2 875.7,595.2 876.0,593.8 876.4,591.9 876.7,589.5 877.0,586.2 877.4,582.3 877.7,577.9 878.0,573.9 878.3,571.3 878.7,571.8 879.0,577.1 879.3,583.7 879.7,589.3 880.0,593.3 880.3,595.9 880.6,597.5 881.0,598.4 881.3,598.7 881.6,598.7 882.0,598.5 882.3,598.1 882.6,597.6 882.9,597.0 883.3,596.2 883.6,595.0 883.9,593.6 884.3,591.8 884.6,590.2 884.9,589.1 885.2,589.3 885.6,591.4 885.9,594.0 886.2,596.1 886.6,597.6 886.9,598.5 887.2,599.2 887.5,599.7 887.9,600.1 888.2,600.5 888.5,600.7 888.9,600.9 889.2,600.9 889.5,600.9 889.8,600.9 890.2,600.8 890.5,600.6 890.8,600.3 891.2,599.9 891.5,599.4 891.8,598.9 892.1,598.5 892.5,598.0 892.8,597.5 893.1,597.1 893.5,596.7 893.8,596.3 894.1,595.8 894.4,595.2 894.8,594.5 895.1,593.6 895.4,592.4 895.8,591.1 896.1,589.6 896.4,588.1 896.7,586.5 897.1,585.2 897.4,584.3 897.7,584.1 898.1,585.0 898.4,586.8 898.7,588.8 899.0,590.8 899.4,592.5 899.7,593.8 900.0,594.9 900.4,595.7 900.7,596.3 901.0,596.9 901.3,597.3 901.7,597.7 902.0,598.0 902.3,598.2 902.7,598.3 903.0,598.3 903.3,598.4 903.6,598.5 904.0,598.6 904.3,598.8 904.6,599.0 905.0,599.0 905.3,598.9 905.6,598.7 905.9,598.4 906.3,597.9 906.6,597.3 906.9,596.7 907.3,596.1 907.6,595.5 907.9,595.0 908.2,594.4 908.6,593.9 908.9,593.4 909.2,592.8 909.6,592.2 909.9,591.4 910.2,590.5 910.5,589.3 910.9,588.1 911.2,587.0 911.5,586.0 911.9,585.4 912.2,585.2 912.5,585.6 912.8,586.4 913.2,587.4 913.5,588.2 913.8,588.8 914.2,589.2 914.5,589.3 914.8,589.1 915.1,588.6 915.5,587.7 915.8,586.2 916.1,584.1 916.5,581.4 916.8,577.9 917.1,573.8 917.4,569.6 917.8,566.1 918.1,564.6 918.4,567.0 918.7,572.5 919.1,577.7 919.4,581.4 919.7,583.7 920.1,584.9 920.4,585.4 920.7,585.4 921.0,584.9 921.4,583.9 921.7,582.5 922.0,580.4 922.4,577.5 922.7,573.5 923.0,568.2 923.3,561.2 923.7,552.2 924.0,541.1 924.3,528.0 924.7,514.5 925.0,503.3 925.3,498.3 925.6,505.8 926.0,522.8 926.3,538.6 926.6,549.0 927.0,554.1 927.3,554.8 927.6,552.2 927.9,547.6 928.3,542.5 928.6,539.4 928.9,540.8 929.3,549.5 929.6,560.3 929.9,569.3 930.2,575.7 930.6,579.9 930.9,582.5 931.2,584.0 931.6,584.8 931.9,585.4 932.2,585.7 932.5,585.9 932.9,586.0 933.2,586.0 933.5,585.6 933.9,585.0 934.2,583.9 934.5,582.4 934.8,580.3 935.2,577.4 935.5,573.6 935.8,568.6 936.2,562.0 936.5,554.1 936.8,545.2 937.1,536.8 937.5,531.4 937.8,532.0 938.1,541.9 938.5,554.3 938.8,564.2 939.1,570.5 939.4,573.7 939.8,574.5 940.1,573.4 940.4,570.8 940.8,567.2 941.1,563.2 941.4,559.9 941.7,558.9 942.1,562.6 942.4,570.0 942.7,577.2 943.1,582.7 943.4,586.7 943.7,589.5 944.0,591.4 944.4,592.7 944.7,593.7 945.0,594.5 945.4,595.1 945.7,595.7 946.0,596.2 946.3,596.7 946.7,597.1 947.0,597.4 947.3,597.5 947.7,597.5 948.0,597.5 948.3,597.4 948.6,597.2 949.0,597.1 949.3,597.0 949.6,596.9 950.0,596.7 950.3,596.4 950.6,595.9 950.9,595.4 951.3,594.7 951.6,594.1 951.9,593.4 952.3,592.7 952.6,591.9 952.9,590.9 953.2,589.5 953.6,587.5 953.9,584.7 954.2,580.9 954.6,576.0 954.9,569.9 955.2,563.2 955.5,556.8 955.9,552.6 956.2,552.7 956.5,559.7 956.9,568.6 957.2,575.9 957.5,581.0 957.8,584.2 958.2,586.0 958.5,586.8 958.8,586.8 959.2,586.2 959.5,585.0 959.8,583.0 960.1,580.3 960.5,576.6 960.8,571.5 961.1,564.9 961.5,556.5 961.8,546.7 962.1,536.5 962.4,528.1 962.8,524.6 963.1,531.0 963.4,545.0 963.8,558.3 964.1,568.1 964.4,574.3 964.7,577.8 965.1,579.2 965.4,579.2 965.7,577.9 966.1,575.5 966.4,572.4 966.7,568.8 967.0,565.7 967.4,564.3 967.7,566.5 968.0,571.6 968.4,576.3 968.7,579.5 969.0,581.4 969.3,582.1 969.7,582.1 970.0,581.6 970.3,580.7 970.7,579.7 971.0,578.8 971.3,578.2 971.6,578.1 972.0,578.7 972.3,580.2 972.6,582.3 973.0,584.7 973.3,587.0 973.6,589.2 973.9,591.1 974.3,592.8 974.6,594.2 974.9,595.4 975.3,596.4 975.6,597.2 975.9,597.8 976.2,598.3 976.6,598.7 976.9,598.9 977.2,598.9 977.6,598.9 977.9,598.8 978.2,598.7 978.5,598.6 978.9,598.5 979.2,598.3 979.5,598.1 979.9,598.0 980.2,597.8 980.5,597.6 980.8,597.4 981.2,597.1 981.5,596.7 981.8,596.2 982.2,595.3 982.5,594.2 982.8,592.6 983.1,590.6 983.5,588.0 983.8,584.6 984.1,580.3 984.5,575.1 984.8,568.9 985.1,562.6 985.4,557.6 985.8,555.6 986.1,559.8 986.4,568.9 986.8,577.6 987.1,584.1 987.4,588.6 987.7,591.5 988.1,593.5 988.4,594.9 988.7,596.0 989.1,596.8 989.4,597.4 989.7,597.7 990.0,597.9 990.4,598.0 990.7,598.0 991.0,598.1 991.4,598.1 991.7,598.3 992.0,598.4 992.3,598.6 992.7,598.8 993.0,598.9 993.3,599.0 993.7,598.9 994.0,598.8 994.3,598.5 994.6,598.2 995.0,597.8 995.3,597.4 995.6,596.9 996.0,596.3 996.3,595.7 996.6,595.1 996.9,594.2 997.3,593.2 997.6,592.1 997.9,590.8 998.3,589.4 998.6,588.3 998.9,587.5 999.2,587.4 999.6,588.4 999.9,590.2 1000.2,592.1 1000.5,593.8 1000.9,595.4 1001.2,596.6 1001.5,597.6 1001.9,598.4 1002.2,598.8 1002.5,599.0 1002.8,599.0 1003.2,598.8 1003.5,598.5 1003.8,598.3 1004.2,598.1 1004.5,598.0 1004.8,597.9 1005.1,597.8 1005.5,597.6 1005.8,597.4 1006.1,597.1 1006.5,596.8 1006.8,596.6 1007.1,596.4 1007.4,596.2 1007.8,596.1 1008.1,596.0 1008.4,595.8 1008.8,595.5 1009.1,595.0 1009.4,594.5 1009.7,594.0 1010.1,593.6 1010.4,593.3 1010.7,593.1 1011.1,592.9 1011.4,592.7 1011.7,592.5 1012.0,592.1 1012.4,591.5 1012.7,590.9 1013.0,590.4 1013.4,590.2 1013.7,590.0 1014.0,589.9 1014.3,589.9 1014.7,589.9 1015.0,589.7 1015.3,589.1 1015.7,588.0 1016.0,586.3 1016.3,583.8 1016.6,580.3 1017.0,575.7 1017.3,570.2 1017.6,563.9 1018.0,558.0 1018.3,554.1 1018.6,554.2 1018.9,560.6 1019.3,568.9 1019.6,575.5 1019.9,579.8 1020.3,582.1 1020.6,582.9 1020.9,582.6 1021.2,581.4 1021.6,579.8 1021.9,577.9 1022.2,576.4 1022.6,575.6 1022.9,576.1 1023.2,578.7 1023.5,582.2 1023.9,585.6 1024.2,588.2 1024.5,590.0 1024.9,591.1 1025.2,591.6 1025.5,591.6 1025.8,591.2 1026.2,590.0 1026.5,588.4 1026.8,586.5 1027.2,584.0 1027.5,581.2 1027.8,577.8 1028.1,573.8 1028.5,569.1 1028.8,563.7 1029.1,557.3 1029.5,550.1 1029.8,542.0 1030.1,533.3 1030.4,524.4 1030.8,516.2 1031.1,509.4 1031.4,504.8 1031.8,504.5 1032.1,508.5 1032.4,514.1 1032.7,519.1 1033.1,522.5 1033.4,524.3 1033.7,524.9 1034.1,524.7 1034.4,524.2 1034.7,523.7 1035.0,523.6 1035.4,524.2 1035.7,526.3 1036.0,530.2 1036.4,535.7 1036.7,541.9 1037.0,548.5 1037.3,554.8 1037.7,560.7 1038.0,566.0 1038.3,570.6 1038.7,574.5 1039.0,577.9 1039.3,580.8 1039.6,583.2 1040.0,585.3 1040.3,587.0 1040.6,588.2 1041.0,589.1 1041.3,589.4 1041.6,589.4 1041.9,589.0 1042.3,588.3 1042.6,587.2 1042.9,585.6 1043.3,583.5 1043.6,580.8 1043.9,577.6 1044.2,574.1 1044.6,570.4 1044.9,567.0 1045.2,564.7 1045.6,563.9 1045.9,566.1 1046.2,571.2 1046.5,577.2 1046.9,582.6 1047.2,587.0 1047.5,590.4 1047.9,592.9 1048.2,594.8 1048.5,596.3 1048.8,597.3 1049.2,597.9 1049.5,598.4 1049.8,598.6 1050.2,598.8 1050.5,598.9 1050.8,599.0 1051.1,599.2 1051.5,599.4 1051.8,599.6 1052.1,599.9 1052.5,600.1 1052.8,600.3 1053.1,600.5 1053.4,600.6 1053.8,600.7 1054.1,600.8 1054.4,600.9 1054.8,601.0 1055.1,601.1 1055.4,601.1 1055.7,601.1 1056.1,601.0 1056.4,600.9 1056.7,600.7 1057.1,600.5 1057.4,600.3 1057.7,600.1 1058.0,599.8 1058.4,599.5 1058.7,599.1 1059.0,598.8 1059.4,598.4 1059.7,598.0 1060.0,597.6 1060.3,597.2 1060.7,596.9 1061.0,596.6 1061.3,596.4 1061.7,596.3 1062.0,596.3 1062.3,596.4 1062.6,596.5 1063.0,596.6 1063.3,596.6 1063.6,596.4 1064.0,596.1 1064.3,595.6 1064.6,594.7 1064.9,593.4 1065.3,591.7 1065.6,589.5 1065.9,587.0 1066.3,584.6 1066.6,582.9 1066.9,582.9 1067.2,585.3 1067.6,588.6 1067.9,591.4 1068.2,593.5 1068.6,595.0 1068.9,596.0 1069.2,596.7 1069.5,597.0 1069.9,597.0 1070.2,596.7 1070.5,596.2 1070.9,595.3 1071.2,594.2 1071.5,592.9 1071.8,591.3 1072.2,589.4 1072.5,587.5 1072.8,586.0 1073.2,585.3 1073.5,586.6 1073.8,589.3 1074.1,591.9 1074.5,594.1 1074.8,595.6 1075.1,596.6 1075.5,597.3 1075.8,597.7 1076.1,597.9 1076.4,598.1 1076.8,598.3 1077.1,598.4 1077.4,598.5 1077.8,598.4 1078.1,598.2 1078.4,597.9 1078.7,597.5 1079.1,597.1 1079.4,596.7 1079.7,596.4 1080.1,596.2 1080.4,596.0 1080.7,595.8 1081.0,595.6 1081.4,595.3 1081.7,595.0 1082.0,594.6 1082.4,594.1 1082.7,593.5 1083.0,592.8 1083.3,591.9 1083.7,590.9 1084.0,589.7 1084.3,588.4 1084.6,586.9 1085.0,585.5 1085.3,584.1 1085.6,583.0 1086.0,582.2 1086.3,581.8 1086.6,582.0 1086.9,583.0 1087.3,584.6 1087.6,586.5 1087.9,588.5 1088.3,590.5 1088.6,592.2 1088.9,593.7 1089.2,595.1 1089.6,596.2 1089.9,597.1 1090.2,597.8 1090.6,598.3 1090.9,598.6 1091.2,598.7 1091.5,598.8 1091.9,598.9 1092.2,599.1 1092.5,599.3 1092.9,599.5 1093.2,599.6 1093.5,599.7 1093.8,599.7 1094.2,599.5 1094.5,599.3 1094.8,599.1 1095.2,598.9 1095.5,598.7 1095.8,598.6 1096.1,598.5 1096.5,598.5 1096.8,598.4 1097.1,598.4 1097.5,598.4 1097.8,598.4 1098.1,598.5 1098.4,598.6 1098.8,598.8 1099.1,599.0 1099.4,599.1 1099.8,599.0 1100.1,598.9 1100.4,598.7 1100.7,598.5 1101.1,598.3 1101.4,598.0 1101.7,597.7 1102.1,597.4 1102.4,597.1 1102.7,596.9 1103.0,596.8 1103.4,596.7 1103.7,596.8 1104.0,596.8 1104.4,596.9 1104.7,596.8 1105.0,596.7 1105.3,596.4 1105.7,596.1 1106.0,595.7 1106.3,595.2 1106.7,594.7 1107.0,594.2 1107.3,593.7 1107.6,593.2 1108.0,592.7 1108.3,592.1 1108.6,591.5 1109.0,590.9 1109.3,590.2 1109.6,589.5 1109.9,588.7 1110.3,587.9 1110.6,587.0 1110.9,585.9 1111.3,584.5 1111.6,583.1 1111.9,581.4 1112.2,579.8 1112.6,578.2 1112.9,576.7 1113.2,575.4 1113.6,574.2 1113.9,573.1 1114.2,572.1 1114.5,571.3 1114.9,570.8 1115.2,570.6 1115.5,570.6 1115.9,570.4 1116.2,569.9 1116.5,568.9 1116.8,567.3 1117.2,565.1 1117.5,562.5 1117.8,560.0 1118.2,558.0 1118.5,557.0 1118.8,557.7 1119.1,561.4 1119.5,566.6 1119.8,571.8 1120.1,576.2 1120.5,579.4 1120.8,581.6 1121.1,582.9 1121.4,583.5 1121.8,583.5 1122.1,583.2 1122.4,582.5 1122.8,581.7 1123.1,581.1 1123.4,581.1 1123.7,582.2 1124.1,584.5 1124.4,587.3 1124.7,589.9 1125.1,592.1 1125.4,594.0 1125.7,595.5 1126.0,596.7 1126.4,597.6 1126.7,598.2 1127.0,598.7 1127.4,598.9 1127.7,599.1 1128.0,599.3 1128.3,599.5 1128.7,599.7 1129.0,599.9 1129.3,600.0 1129.7,600.0 1130.0,600.0 1130.3,599.9 1130.6,599.9 1131.0,600.0 1131.3,600.0 1131.6,600.2 1132.0,600.3 1132.3,600.3 1132.6,600.4 1132.9,600.4 1133.3,600.5 1133.6,600.4 1133.9,600.3 1134.3,600.2 1134.6,599.9 1134.9,599.7 1135.2,599.5 1135.6,599.4 1135.9,599.5 1136.2,599.5 1136.6,599.6 1136.9,599.5 1137.2,599.1 1137.5,598.6 1137.9,597.9 1138.2,597.1 1138.5,596.3 1138.9,595.7 1139.2,595.2 1139.5,595.1 1139.8,595.2 1140.2,595.4 1140.5,595.7 1140.8,595.9 1141.2,595.9 1141.5,595.5 1141.8,594.9 1142.1,594.0 1142.5,592.9 1142.8,591.9 1143.1,590.9 1143.5,590.0 1143.8,589.4 1144.1,588.8 1144.4,588.5 1144.8,588.2 1145.1,588.2 1145.4,588.5 1145.8,589.3 1146.1,590.4 1146.4,591.6 1146.7,592.8 1147.1,594.0 1147.4,595.1 1147.7,596.0 1148.1,596.7 1148.4,597.2 1148.7,597.6 1149.0,597.9 1149.4,598.2 1149.7,598.4 1150.0,598.5 1150.4,598.5 1150.7,598.4 1151.0,598.1 1151.3,597.6 1151.7,597.1 1152.0,596.5 1152.3,596.0 1152.7,595.6 1153.0,595.3 1153.3,595.1 1153.6,594.8 1154.0,594.5 1154.3,594.0 1154.6,593.3 1155.0,592.5 1155.3,591.6 1155.6,590.9 1155.9,590.3 1156.3,589.9 1156.6,589.7 1156.9,589.6 1157.3,589.6 1157.6,589.9 1157.9,590.5 1158.2,591.2 1158.6,592.1 1158.9,593.0 1159.2,594.0 1159.6,595.0 1159.9,595.9 1160.2,596.7 1160.5,597.5 1160.9,598.1 1161.2,598.6 1161.5,598.9 1161.9,599.1 1162.2,599.2 1162.5,599.3 1162.8,599.4 1163.2,599.5 1163.5,599.6 1163.8,599.6 1164.2,599.5 1164.5,599.3 1164.8,598.9 1165.1,598.4 1165.5,597.8 1165.8,597.1 1166.1,596.4 1166.4,595.7 1166.8,595.0 1167.1,594.3 1167.4,593.5 1167.8,592.6 1168.1,591.5 1168.4,590.4 1168.7,589.3 1169.1,588.4 1169.4,588.1 1169.7,588.9 1170.1,590.3 1170.4,591.9 1170.7,593.3 1171.0,594.5 1171.4,595.4 1171.7,596.0 1172.0,596.5 1172.4,596.8 1172.7,597.0 1173.0,597.1 1173.3,597.2 1173.7,597.3 1174.0,597.4 1174.3,597.4 1174.7,597.3 1175.0,597.2 1175.3,597.1 1175.6,597.1 1176.0,597.1 1176.3,597.2 1176.6,597.2 1177.0,597.2 1177.3,597.0 1177.6,596.7 1177.9,596.2 1178.3,595.6 1178.6,594.8 1178.9,594.0 1179.3,593.1 1179.6,592.1 1179.9,591.1 1180.2,590.0 1180.6,588.8 1180.9,587.7 1181.2,586.5 1181.6,585.4 1181.9,584.3 1182.2,583.3 1182.5,582.4 1182.9,581.5 1183.2,580.8 1183.5,580.1 1183.9,579.5 1184.2,579.1 1184.5,578.7 1184.8,578.6 1185.2,579.0 1185.5,579.9 1185.8,581.0 1186.2,582.3 1186.5,583.7 1186.8,585.1 1187.1,586.3 1187.5,587.4 1187.8,588.3 1188.1,588.9 1188.5,589.3 1188.8,589.5 1189.1,589.5 1189.4,589.3 1189.8,589.0 1190.1,588.7 1190.4,588.4 1190.8,588.0 1191.1,587.6 1191.4,587.0 1191.7,586.4 1192.1,585.6 1192.4,584.7 1192.7,583.6 1193.1,582.4 1193.4,581.0 1193.7,579.7 1194.0,578.5 1194.4,577.6 1194.7,576.9 1195.0,576.6 1195.4,576.7 1195.7,577.4 1196.0,578.7 1196.3,580.4 1196.7,582.4 1197.0,584.4 1197.3,586.5 1197.7,588.4 1198.0,590.0 1198.3,591.5 1198.6,592.7 1199.0,593.7 1199.3,594.5 1199.6,595.1 1200.0,595.6 1200.3,596.0 1200.6,596.3 1200.9,596.6 1201.3,596.9 1201.6,597.3 1201.9,597.6 1202.3,597.9 1202.6,598.1 1202.9,598.3 1203.2,598.5 1203.6,598.7 1203.9,598.9 1204.2,599.0 1204.6,599.1 1204.9,599.1 1205.2,599.1 1205.5,598.9 1205.9,598.7 1206.2,598.5 1206.5,598.3 1206.9,598.1 1207.2,597.9 1207.5,597.8 1207.8,597.6 1208.2,597.5 1208.5,597.3 1208.8,597.1 1209.2,596.8 1209.5,596.6 1209.8,596.4 1210.1,596.2 1210.5,595.8 1210.8,595.4 1211.1,594.9 1211.5,594.3 1211.8,593.6 1212.1,592.9 1212.4,592.3 1212.8,591.7 1213.1,591.2 1213.4,590.7 1213.8,590.2 1214.1,589.7 1214.4,589.2 1214.7,588.7 1215.1,588.3 1215.4,587.8 1215.7,587.4 1216.1,587.0 1216.4,586.5 1216.7,586.1 1217.0,585.9 1217.4,585.7 1217.7,585.8 1218.0,586.0 1218.4,586.4 1218.7,586.9 1219.0,587.4 1219.3,588.0 1219.7,588.6 1220.0,589.1 1220.3,589.7 1220.7,590.1 1221.0,590.5 1221.3,590.8 1221.6,591.1 1222.0,591.4 1222.3,591.8 1222.6,592.3 1223.0,593.0 1223.3,593.7 1223.6,594.4 1223.9,594.9 1224.3,595.3 1224.6,595.5 1224.9,595.6 1225.3,595.6 1225.6,595.6 1225.9,595.7 1226.2,595.9 1226.6,596.3 1226.9,596.7 1227.2,597.0 1227.6,597.3 1227.9,597.4 1228.2,597.4 1228.5,597.2 1228.9,596.9 1229.2,596.5 1229.5,596.1 1229.9,595.7 1230.2,595.2 1230.5,594.7 1230.8,594.3 1231.2,593.9 1231.5,593.7 1231.8,593.6 1232.2,593.5 1232.5,593.4 1232.8,593.3 1233.1,593.1 1233.5,592.7 1233.8,592.3 1234.1,591.8 1234.5,591.3 1234.8,590.8 1235.1,590.5 1235.4,590.2 1235.8,589.9 1236.1,589.7 1236.4,589.4 1236.8,589.1 1237.1,588.9 1237.4,588.7 1237.7,588.5 1238.1,588.6 1238.4,588.8 1238.7,589.3 1239.1,589.8 1239.4,590.3 1239.7,590.9 1240.0,591.3 1240.4,591.7 1240.7,592.1 1241.0,592.6 1241.4,593.0 1241.7,593.5 1242.0,593.9 1242.3,594.4 1242.7,594.8 1243.0,595.1 1243.3,595.4 1243.7,595.7 1244.0,595.9 1244.3,596.2 1244.6,596.5 1245.0,596.9 1245.3,597.3 1245.6,597.7 1246.0,598.1 1246.3,598.3 1246.6,598.5 1246.9,598.6 1247.3,598.6 1247.6,598.6 1247.9,598.5 1248.2,598.3 1248.6,598.0 1248.9,597.5 1249.2,597.0 1249.6,596.4 1249.9,595.9 1250.2,595.3 1250.5,594.9 1250.9,594.4 1251.2,593.8 1251.5,593.1 1251.9,592.1 1252.2,591.0 1252.5,589.6 1252.8,588.1 1253.2,586.6 1253.5,585.2 1253.8,583.8 1254.2,582.7 1254.5,581.8 1254.8,581.4 1255.1,581.7 1255.5,582.8 1255.8,584.4 1256.1,586.1 1256.5,587.7 1256.8,588.9 1257.1,589.8 1257.4,590.3 1257.8,590.4 1258.1,590.3 1258.4,589.9 1258.8,589.3 1259.1,588.6 1259.4,587.9 1259.7,587.1 1260.1,586.4 1260.4,585.8 1260.7,585.2 1261.1,584.8 1261.4,584.4 1261.7,584.3 1262.0,584.2 1262.4,584.4 1262.7,584.8 1263.0,585.6 1263.4,586.5 1263.7,587.6 1264.0,588.6 1264.3,589.5 1264.7,590.3 1265.0,591.0 1265.3,591.8 1265.7,592.6 1266.0,593.5 1266.3,594.4 1266.6,595.2 1267.0,596.0 1267.3,596.6 1267.6,597.1 1268.0,597.5 1268.3,597.9 1268.6,598.4 1268.9,598.8 1269.3,599.2 1269.6,599.4 1269.9,599.4 1270.3,599.3 1270.6,599.1 1270.9,598.8 1271.2,598.6 1271.6,598.5 1271.9,598.4 1272.2,598.4 1272.6,598.3 1272.9,598.3 1273.2,598.4 1273.5,598.4 1273.9,598.4 1274.2,598.3 1274.5,598.1 1274.9,598.0 1275.2,597.8 1275.5,597.8 1275.8,597.9 1276.2,598.1 1276.5,598.3 1276.8,598.7 1277.2,598.9 1277.5,599.0 1277.8,599.0 1278.1,598.8 1278.5,598.6 1278.8,598.3 1279.1,598.0 1279.5,597.8 1279.8,597.6 1280.1,597.4 1280.4,597.2 1280.8,597.2 1281.1,597.2 1281.4,597.4 1281.8,597.6 1282.1,597.9 1282.4,598.2 1282.7,598.5 1283.1,598.7 1283.4,598.9 1283.7,598.8 1284.1,598.7 1284.4,598.3 1284.7,597.9 1285.0,597.4 1285.4,596.9 1285.7,596.5 1286.0,596.2 1286.4,596.0 1286.7,595.9 1287.0,596.0 1287.3,596.0 1287.7,596.1 1288.0,596.3" fill="none" stroke="#1c70e0" stroke-width="3.9" stroke-linejoin="round"/>
<path d="M713.1,430.4 713.4,430.4 713.8,430.4 714.1,430.2 714.4,430.0 714.7,429.7 715.1,429.4 715.4,429.1 715.7,428.7 716.1,428.3 716.4,428.0 716.7,427.8 717.0,427.8 717.4,427.8 717.7,427.9 718.0,428.1 718.4,428.2 718.7,428.4 719.0,428.5 719.3,428.5 719.7,428.6 720.0,428.6 720.3,428.6 720.7,428.5 721.0,428.5 721.3,428.4 721.6,428.3 722.0,428.3 722.3,428.3 722.6,428.5 723.0,428.8 723.3,429.0 723.6,429.2 723.9,429.4 724.3,429.4 724.6,429.5 724.9,429.4 725.3,429.3 725.6,429.2 725.9,429.0 726.2,428.9 726.6,428.8 726.9,428.9 727.2,429.0 727.6,429.1 727.9,429.2 728.2,429.3 728.5,429.3 728.9,429.2 729.2,429.1 729.5,428.9 729.9,428.7 730.2,428.5 730.5,428.2 730.8,428.0 731.2,427.7 731.5,427.5 731.8,427.2 732.2,427.0 732.5,426.9 732.8,426.7 733.1,426.4 733.5,426.1 733.8,425.8 734.1,425.4 734.5,424.8 734.8,424.3 735.1,423.7 735.4,423.1 735.8,422.6 736.1,422.2 736.4,421.9 736.8,421.6 737.1,421.3 737.4,420.9 737.7,420.2 738.1,419.3 738.4,418.0 738.7,416.5 739.1,414.8 739.4,413.0 739.7,411.0 740.0,408.8 740.4,406.3 740.7,403.3 741.0,399.8 741.4,395.5 741.7,390.3 742.0,384.0 742.3,376.6 742.7,367.9 743.0,358.0 743.3,346.9 743.7,334.9 744.0,322.4 744.3,310.3 744.6,299.9 745.0,292.8 745.3,290.2 745.6,295.8 746.0,310.2 746.3,328.7 746.6,347.2 746.9,363.5 747.3,376.9 747.6,387.7 747.9,396.0 748.3,402.4 748.6,407.3 748.9,411.1 749.2,414.0 749.6,416.4 749.9,418.3 750.2,419.9 750.6,421.2 750.9,422.2 751.2,422.9 751.5,423.5 751.9,423.9 752.2,424.3 752.5,424.6 752.9,425.0 753.2,425.4 753.5,425.8 753.8,426.3 754.2,426.7 754.5,427.1 754.8,427.4 755.1,427.6 755.5,427.8 755.8,428.0 756.1,428.2 756.5,428.4 756.8,428.6 757.1,428.8 757.4,429.1 757.8,429.3 758.1,429.5 758.4,429.7 758.8,429.9 759.1,430.1 759.4,430.2 759.7,430.2 760.1,430.1 760.4,429.9 760.7,429.6 761.1,429.3 761.4,429.0 761.7,428.8 762.0,428.8 762.4,429.0 762.7,429.3 763.0,429.7 763.4,430.0 763.7,430.1 764.0,430.1 764.3,430.1 764.7,430.0 765.0,429.9 765.3,429.9 765.7,430.0 766.0,430.1 766.3,430.3 766.6,430.4 767.0,430.6 767.3,430.7 767.6,430.9 768.0,431.0 768.3,431.1 768.6,431.1 768.9,431.0 769.3,430.8 769.6,430.4 769.9,430.2 770.3,430.0 770.6,430.0 770.9,430.2 771.2,430.4 771.6,430.6 771.9,430.7 772.2,430.8 772.6,430.9 772.9,431.1 773.2,431.2 773.5,431.4 773.9,431.5 774.2,431.4 774.5,431.2 774.9,430.9 775.2,430.5 775.5,430.1 775.8,429.7 776.2,429.4 776.5,429.0 776.8,428.5 777.2,428.0 777.5,427.5 777.8,426.7 778.1,425.8 778.5,424.7 778.8,423.2 779.1,421.4 779.5,419.2 779.8,416.7 780.1,413.9 780.4,411.7 780.8,410.7 781.1,412.6 781.4,416.7 781.8,420.7 782.1,423.8 782.4,426.0 782.7,427.4 783.1,428.2 783.4,428.6 783.7,428.8 784.1,428.7 784.4,428.4 784.7,428.0 785.0,427.4 785.4,426.6 785.7,425.6 786.0,424.5 786.4,423.7 786.7,423.5 787.0,424.6 787.3,426.0 787.7,427.3 788.0,428.2 788.3,428.9 788.7,429.4 789.0,429.7 789.3,429.9 789.6,430.2 790.0,430.4 790.3,430.6 790.6,430.9 791.0,431.1 791.3,431.3 791.6,431.4 791.9,431.4 792.3,431.3 792.6,431.0 792.9,430.6 793.3,430.0 793.6,429.5 793.9,429.2 794.2,429.1 794.6,429.2 794.9,429.5 795.2,430.0 795.6,430.5 795.9,431.0 796.2,431.4 796.5,431.7 796.9,432.0 797.2,432.1 797.5,432.2 797.9,432.2 798.2,432.1 798.5,431.9 798.8,431.7 799.2,431.5 799.5,431.4 799.8,431.4 800.2,431.4 800.5,431.2 800.8,430.9 801.1,430.4 801.5,429.7 801.8,429.0 802.1,428.3 802.5,427.5 802.8,426.7 803.1,425.5 803.4,424.0 803.8,422.0 804.1,419.4 804.4,416.1 804.8,411.9 805.1,406.2 805.4,398.8 805.7,389.0 806.1,376.2 806.4,360.1 806.7,340.6 807.1,319.0 807.4,298.9 807.7,286.1 808.0,288.2 808.4,313.3 808.7,344.9 809.0,371.0 809.4,389.6 809.7,401.9 810.0,409.9 810.3,415.3 810.7,418.9 811.0,421.6 811.3,423.6 811.7,425.2 812.0,426.5 812.3,427.5 812.6,428.4 813.0,429.2 813.3,429.8 813.6,430.3 814.0,430.7 814.3,431.0 814.6,431.3 814.9,431.7 815.3,432.0 815.6,432.3 815.9,432.5 816.3,432.6 816.6,432.5 816.9,432.2 817.2,431.7 817.6,431.1 817.9,430.4 818.2,429.8 818.6,429.3 818.9,429.0 819.2,428.8 819.5,428.8 819.9,428.9 820.2,429.0 820.5,429.1 820.9,429.3 821.2,429.4 821.5,429.5 821.8,429.3 822.2,429.0 822.5,428.3 822.8,427.3 823.2,426.0 823.5,424.4 823.8,422.2 824.1,419.5 824.5,415.8 824.8,411.1 825.1,405.0 825.5,397.3 825.8,388.1 826.1,377.8 826.4,368.3 826.8,362.2 827.1,363.1 827.4,375.0 827.8,390.0 828.1,402.5 828.4,411.5 828.7,417.6 829.1,421.5 829.4,424.2 829.7,425.9 830.1,427.1 830.4,427.9 830.7,428.4 831.0,428.6 831.4,428.5 831.7,428.2 832.0,427.8 832.4,427.3 832.7,426.8 833.0,426.2 833.3,425.7 833.7,425.2 834.0,424.5 834.3,423.4 834.7,421.8 835.0,419.5 835.3,416.5 835.6,412.8 836.0,408.4 836.3,403.4 836.6,398.0 836.9,392.6 837.3,387.7 837.6,384.3 837.9,383.1 838.3,386.0 838.6,393.0 838.9,401.2 839.2,408.7 839.6,414.8 839.9,419.6 840.2,423.2 840.6,425.9 840.9,428.0 841.2,429.5 841.5,430.6 841.9,431.4 842.2,431.9 842.5,432.3 842.9,432.5 843.2,432.6 843.5,432.5 843.8,432.4 844.2,432.1 844.5,431.9 844.8,431.7 845.2,431.5 845.5,431.5 845.8,431.4 846.1,431.4 846.5,431.3 846.8,431.0 847.1,430.5 847.5,429.8 847.8,429.0 848.1,428.0 848.4,427.0 848.8,426.1 849.1,425.1 849.4,424.1 849.8,422.9 850.1,421.7 850.4,420.3 850.7,418.7 851.1,416.7 851.4,414.1 851.7,410.7 852.1,406.2 852.4,400.3 852.7,392.5 853.0,382.7 853.4,370.3 853.7,355.4 854.0,338.7 854.4,322.8 854.7,311.8 855.0,311.1 855.3,326.7 855.7,346.7 856.0,362.7 856.3,373.1 856.7,378.9 857.0,381.5 857.3,382.0 857.6,381.4 858.0,380.3 858.3,379.2 858.6,378.5 859.0,378.4 859.3,379.4 859.6,382.0 859.9,386.2 860.3,391.2 860.6,396.6 860.9,401.7 861.3,406.4 861.6,410.5 861.9,414.0 862.2,416.9 862.6,419.4 862.9,421.4 863.2,423.1 863.6,424.4 863.9,425.4 864.2,426.2 864.5,426.8 864.9,427.3 865.2,427.7 865.5,428.2 865.9,428.5 866.2,428.9 866.5,429.2 866.8,429.5 867.2,429.6 867.5,429.7 867.8,429.7 868.2,429.7 868.5,429.8 868.8,429.8 869.1,429.7 869.5,429.6 869.8,429.4 870.1,429.2 870.5,428.9 870.8,428.7 871.1,428.4 871.4,428.1 871.8,427.5 872.1,426.8 872.4,425.6 872.8,424.2 873.1,422.4 873.4,420.6 873.7,419.1 874.1,418.5 874.4,419.8 874.7,422.3 875.1,424.6 875.4,426.1 875.7,426.8 876.0,426.8 876.4,426.2 876.7,425.3 877.0,423.9 877.4,421.9 877.7,419.4 878.0,416.1 878.3,412.1 878.7,408.0 879.0,404.7 879.3,403.4 879.7,406.4 880.0,412.6 880.3,418.6 880.6,423.0 881.0,426.0 881.3,428.0 881.6,429.3 882.0,430.2 882.3,430.9 882.6,431.4 882.9,431.7 883.3,431.7 883.6,431.5 883.9,431.1 884.3,430.4 884.6,429.6 884.9,428.6 885.2,427.3 885.6,425.7 885.9,423.9 886.2,422.0 886.6,420.4 886.9,419.7 887.2,420.8 887.5,423.3 887.9,425.9 888.2,427.9 888.5,429.3 888.9,430.2 889.2,430.8 889.5,431.2 889.8,431.5 890.2,431.8 890.5,432.0 890.8,432.2 891.2,432.4 891.5,432.4 891.8,432.4 892.1,432.2 892.5,431.9 892.8,431.5 893.1,431.1 893.5,430.6 893.8,430.0 894.1,429.3 894.4,428.5 894.8,427.7 895.1,426.8 895.4,425.8 895.8,424.6 896.1,423.3 896.4,421.7 896.7,420.0 897.1,418.0 897.4,416.0 897.7,414.0 898.1,412.2 898.4,410.9 898.7,410.3 899.0,411.0 899.4,413.0 899.7,415.9 900.0,418.7 900.4,421.4 900.7,423.6 901.0,425.3 901.3,426.7 901.7,427.6 902.0,428.3 902.3,428.8 902.7,429.2 903.0,429.5 903.3,429.8 903.6,430.0 904.0,430.3 904.3,430.5 904.6,430.6 905.0,430.8 905.3,430.9 905.6,430.8 905.9,430.7 906.3,430.4 906.6,430.1 906.9,429.8 907.3,429.6 907.6,429.4 907.9,429.2 908.2,428.9 908.6,428.6 908.9,428.1 909.2,427.6 909.6,426.9 909.9,426.1 910.2,425.4 910.5,424.6 910.9,423.9 911.2,423.0 911.5,422.2 911.9,421.5 912.2,420.8 912.5,420.3 912.8,420.0 913.2,420.1 913.5,420.6 913.8,421.5 914.2,422.5 914.5,423.5 914.8,424.3 915.1,424.9 915.5,425.3 915.8,425.1 916.1,424.6 916.5,423.5 916.8,422.1 917.1,420.3 917.4,418.1 917.8,415.6 918.1,412.6 918.4,408.9 918.7,404.8 919.1,400.5 919.4,397.0 919.7,395.6 920.1,398.5 920.4,404.5 920.7,410.1 921.0,414.0 921.4,416.2 921.7,417.2 922.0,417.3 922.4,416.9 922.7,416.0 923.0,414.5 923.3,412.2 923.7,408.9 924.0,404.3 924.3,398.2 924.7,390.3 925.0,380.4 925.3,368.4 925.6,355.2 926.0,342.7 926.3,334.3 926.6,334.5 927.0,348.1 927.3,365.2 927.6,378.3 927.9,386.0 928.3,389.0 928.6,388.0 928.9,383.9 929.3,377.4 929.6,369.3 929.9,361.7 930.2,357.1 930.6,359.1 930.9,371.4 931.2,386.4 931.6,398.7 931.9,407.4 932.2,413.0 932.5,416.6 932.9,419.0 933.2,420.5 933.5,421.5 933.9,422.1 934.2,422.4 934.5,422.4 934.8,422.1 935.2,421.5 935.5,420.6 935.8,419.4 936.2,417.9 936.5,415.8 936.8,413.0 937.1,409.2 937.5,404.2 937.8,397.7 938.1,389.3 938.5,379.2 938.8,367.8 939.1,357.0 939.4,349.8 939.8,350.2 940.1,362.6 940.4,378.2 940.8,390.7 941.1,398.7 941.4,402.8 941.7,404.0 942.1,403.0 942.4,400.3 942.7,397.0 943.1,394.3 943.4,393.6 943.7,397.6 944.0,405.1 944.4,412.3 944.7,417.7 945.0,421.4 945.4,424.0 945.7,425.8 946.0,427.1 946.3,428.1 946.7,428.9 947.0,429.4 947.3,429.8 947.7,430.1 948.0,430.5 948.3,430.8 948.6,431.2 949.0,431.6 949.3,431.9 949.6,432.0 950.0,432.0 950.3,431.8 950.6,431.6 950.9,431.4 951.3,431.3 951.6,431.1 951.9,431.1 952.3,431.0 952.6,430.9 952.9,430.7 953.2,430.4 953.6,429.8 953.9,429.0 954.2,427.8 954.6,426.2 954.9,424.1 955.2,421.3 955.5,417.8 955.9,413.4 956.2,407.8 956.5,401.0 956.9,393.2 957.2,385.2 957.5,378.8 957.8,376.3 958.2,381.3 958.5,392.3 958.8,402.7 959.2,410.4 959.5,415.4 959.8,418.3 960.1,419.7 960.5,420.2 960.8,419.9 961.1,419.0 961.5,417.5 961.8,415.3 962.1,412.1 962.4,407.7 962.8,402.1 963.1,394.9 963.4,386.4 963.8,377.5 964.1,370.1 964.4,366.8 964.7,372.1 965.1,383.8 965.4,394.9 965.7,402.7 966.1,407.2 966.4,409.1 966.7,408.9 967.0,407.1 967.4,404.0 967.7,400.2 968.0,396.4 968.4,393.9 968.7,394.6 969.0,400.1 969.3,406.8 969.7,412.0 970.0,415.3 970.3,417.1 970.7,417.6 971.0,417.4 971.3,416.7 971.6,415.7 972.0,414.7 972.3,413.8 972.6,413.2 973.0,413.1 973.3,413.5 973.6,414.9 973.9,416.9 974.3,419.2 974.6,421.5 974.9,423.4 975.3,425.1 975.6,426.5 975.9,427.6 976.2,428.6 976.6,429.5 976.9,430.1 977.2,430.7 977.6,431.1 977.9,431.4 978.2,431.6 978.5,431.6 978.9,431.7 979.2,431.7 979.5,431.8 979.9,431.9 980.2,432.0 980.5,432.2 980.8,432.2 981.2,432.2 981.5,432.1 981.8,432.0 982.2,431.7 982.5,431.3 982.8,430.8 983.1,430.2 983.5,429.5 983.8,428.7 984.1,427.8 984.5,426.7 984.8,425.3 985.1,423.3 985.4,420.6 985.8,416.9 986.1,412.1 986.4,406.2 986.8,399.6 987.1,393.5 987.4,389.7 987.7,390.3 988.1,397.9 988.4,407.5 988.7,415.5 989.1,421.2 989.4,425.0 989.7,427.5 990.0,429.1 990.4,430.1 990.7,430.8 991.0,431.3 991.4,431.7 991.7,432.0 992.0,432.3 992.3,432.5 992.7,432.8 993.0,432.9 993.3,433.0 993.7,433.0 994.0,432.9 994.3,432.7 994.6,432.5 995.0,432.3 995.3,432.0 995.6,431.8 996.0,431.5 996.3,431.1 996.6,430.7 996.9,430.1 997.3,429.4 997.6,428.6 997.9,427.7 998.3,426.8 998.6,425.8 998.9,424.7 999.2,423.5 999.6,422.3 999.9,421.0 1000.2,420.1 1000.5,419.6 1000.9,420.2 1001.2,422.0 1001.5,424.1 1001.9,426.2 1002.2,427.9 1002.5,429.2 1002.8,430.0 1003.2,430.6 1003.5,430.9 1003.8,431.1 1004.2,431.2 1004.5,431.3 1004.8,431.4 1005.1,431.5 1005.5,431.3 1005.8,431.1 1006.1,430.9 1006.5,430.5 1006.8,430.2 1007.1,429.7 1007.4,429.3 1007.8,428.8 1008.1,428.4 1008.4,428.0 1008.8,427.7 1009.1,427.4 1009.4,427.2 1009.7,427.1 1010.1,426.9 1010.4,426.7 1010.7,426.4 1011.1,426.0 1011.4,425.5 1011.7,425.0 1012.0,424.4 1012.4,423.9 1012.7,423.5 1013.0,423.4 1013.4,423.6 1013.7,423.9 1014.0,424.1 1014.3,424.2 1014.7,424.2 1015.0,424.0 1015.3,423.6 1015.7,423.1 1016.0,422.4 1016.3,421.5 1016.6,420.4 1017.0,419.0 1017.3,417.2 1017.6,414.8 1018.0,411.8 1018.3,407.9 1018.6,402.9 1018.9,396.9 1019.3,390.1 1019.6,383.7 1019.9,379.5 1020.3,380.0 1020.6,388.1 1020.9,397.9 1021.2,405.7 1021.6,410.7 1021.9,413.4 1022.2,414.6 1022.6,414.9 1022.9,414.6 1023.2,414.0 1023.5,413.3 1023.9,412.8 1024.2,412.9 1024.5,414.3 1024.9,416.9 1025.2,419.8 1025.5,422.2 1025.8,424.0 1026.2,425.2 1026.5,425.8 1026.8,426.0 1027.2,425.9 1027.5,425.3 1027.8,424.4 1028.1,423.0 1028.5,420.9 1028.8,418.6 1029.1,415.9 1029.5,412.9 1029.8,409.4 1030.1,405.4 1030.4,400.7 1030.8,395.2 1031.1,388.9 1031.4,381.9 1031.8,374.3 1032.1,366.7 1032.4,359.8 1032.7,354.3 1033.1,351.3 1033.4,352.6 1033.7,356.7 1034.1,361.2 1034.4,365.0 1034.7,367.8 1035.0,369.6 1035.4,370.8 1035.7,371.8 1036.0,372.9 1036.4,374.5 1036.7,377.3 1037.0,381.3 1037.3,386.2 1037.7,391.4 1038.0,396.5 1038.3,401.4 1038.7,405.8 1039.0,409.5 1039.3,412.7 1039.6,415.4 1040.0,417.6 1040.3,419.5 1040.6,421.0 1041.0,422.2 1041.3,423.2 1041.6,424.0 1041.9,424.6 1042.3,425.1 1042.6,425.5 1042.9,425.7 1043.3,425.7 1043.6,425.3 1043.9,424.4 1044.2,422.9 1044.6,420.6 1044.9,417.6 1045.2,413.9 1045.6,409.7 1045.9,405.0 1046.2,400.3 1046.5,396.1 1046.9,393.2 1047.2,392.1 1047.5,394.6 1047.9,400.5 1048.2,407.3 1048.5,413.6 1048.8,418.6 1049.2,422.4 1049.5,425.1 1049.8,426.9 1050.2,428.2 1050.5,429.1 1050.8,429.9 1051.1,430.6 1051.5,431.1 1051.8,431.6 1052.1,431.8 1052.5,431.9 1052.8,431.9 1053.1,431.8 1053.4,431.8 1053.8,431.8 1054.1,431.9 1054.4,432.1 1054.8,432.3 1055.1,432.4 1055.4,432.4 1055.7,432.5 1056.1,432.5 1056.4,432.6 1056.7,432.6 1057.1,432.7 1057.4,432.6 1057.7,432.6 1058.0,432.5 1058.4,432.4 1058.7,432.2 1059.0,432.1 1059.4,432.1 1059.7,432.0 1060.0,431.9 1060.3,431.8 1060.7,431.7 1061.0,431.6 1061.3,431.3 1061.7,431.0 1062.0,430.7 1062.3,430.4 1062.6,430.2 1063.0,429.9 1063.3,429.7 1063.6,429.6 1064.0,429.4 1064.3,429.3 1064.6,429.0 1064.9,428.8 1065.3,428.3 1065.6,427.8 1065.9,427.0 1066.3,426.1 1066.6,424.8 1066.9,423.2 1067.2,421.2 1067.6,418.8 1067.9,416.4 1068.2,414.4 1068.6,413.7 1068.9,415.4 1069.2,419.1 1069.5,422.7 1069.9,425.3 1070.2,427.1 1070.5,428.1 1070.9,428.5 1071.2,428.6 1071.5,428.4 1071.8,427.9 1072.2,427.3 1072.5,426.5 1072.8,425.4 1073.2,424.1 1073.5,422.6 1073.8,420.9 1074.1,419.4 1074.5,418.5 1074.8,418.8 1075.1,421.0 1075.5,423.7 1075.8,425.9 1076.1,427.4 1076.4,428.4 1076.8,429.0 1077.1,429.3 1077.4,429.6 1077.8,429.8 1078.1,430.0 1078.4,430.2 1078.7,430.3 1079.1,430.3 1079.4,430.2 1079.7,430.1 1080.1,430.0 1080.4,429.9 1080.7,429.9 1081.0,429.8 1081.4,429.7 1081.7,429.5 1082.0,429.1 1082.4,428.6 1082.7,428.0 1083.0,427.4 1083.3,426.9 1083.7,426.5 1084.0,426.2 1084.3,426.0 1084.6,425.7 1085.0,425.2 1085.3,424.5 1085.6,423.6 1086.0,422.4 1086.3,421.1 1086.6,419.7 1086.9,418.4 1087.3,417.4 1087.6,416.7 1087.9,416.7 1088.3,417.3 1088.6,418.4 1088.9,419.5 1089.2,420.6 1089.6,421.3 1089.9,421.7 1090.2,421.8 1090.6,421.4 1090.9,420.7 1091.2,419.9 1091.5,419.1 1091.9,418.5 1092.2,418.5 1092.5,419.4 1092.9,421.4 1093.2,423.7 1093.5,425.7 1093.8,427.3 1094.2,428.4 1094.5,429.2 1094.8,429.8 1095.2,430.3 1095.5,430.7 1095.8,431.0 1096.1,431.2 1096.5,431.3 1096.8,431.2 1097.1,431.0 1097.5,430.8 1097.8,430.6 1098.1,430.5 1098.4,430.3 1098.8,430.2 1099.1,430.1 1099.4,430.1 1099.8,430.0 1100.1,430.0 1100.4,430.0 1100.7,430.1 1101.1,430.1 1101.4,430.2 1101.7,430.3 1102.1,430.4 1102.4,430.6 1102.7,430.7 1103.0,430.9 1103.4,431.0 1103.7,431.1 1104.0,431.2 1104.4,431.1 1104.7,431.0 1105.0,430.8 1105.3,430.6 1105.7,430.3 1106.0,430.1 1106.3,429.8 1106.7,429.5 1107.0,429.2 1107.3,428.9 1107.6,428.7 1108.0,428.4 1108.3,428.1 1108.6,427.8 1109.0,427.4 1109.3,427.0 1109.6,426.6 1109.9,426.2 1110.3,425.8 1110.6,425.4 1110.9,425.0 1111.3,424.6 1111.6,424.0 1111.9,423.2 1112.2,422.3 1112.6,421.2 1112.9,419.9 1113.2,418.5 1113.6,417.0 1113.9,415.4 1114.2,413.8 1114.5,412.2 1114.9,410.7 1115.2,409.4 1115.5,408.2 1115.9,407.2 1116.2,406.5 1116.5,405.8 1116.8,405.1 1117.2,404.6 1117.5,404.1 1117.8,403.5 1118.2,402.7 1118.5,401.4 1118.8,399.7 1119.1,397.6 1119.5,395.5 1119.8,393.5 1120.1,392.3 1120.5,392.3 1120.8,394.5 1121.1,399.0 1121.4,404.1 1121.8,408.8 1122.1,412.5 1122.4,415.2 1122.8,417.0 1123.1,417.8 1123.4,417.9 1123.7,417.4 1124.1,416.3 1124.4,415.1 1124.7,413.8 1125.1,412.8 1125.4,412.3 1125.7,412.5 1126.0,414.0 1126.4,416.8 1126.7,419.9 1127.0,422.7 1127.4,424.8 1127.7,426.4 1128.0,427.4 1128.3,428.1 1128.7,428.5 1129.0,428.8 1129.3,429.1 1129.7,429.3 1130.0,429.5 1130.3,429.8 1130.6,430.0 1131.0,430.2 1131.3,430.4 1131.6,430.4 1132.0,430.4 1132.3,430.3 1132.6,430.3 1132.9,430.4 1133.3,430.5 1133.6,430.7 1133.9,430.8 1134.3,430.8 1134.6,430.8 1134.9,430.7 1135.2,430.6 1135.6,430.5 1135.9,430.5 1136.2,430.6 1136.6,430.7 1136.9,430.9 1137.2,431.2 1137.5,431.4 1137.9,431.5 1138.2,431.4 1138.5,431.2 1138.9,430.8 1139.2,430.4 1139.5,429.9 1139.8,429.5 1140.2,429.3 1140.5,429.1 1140.8,429.0 1141.2,429.0 1141.5,428.8 1141.8,428.6 1142.1,428.2 1142.5,427.6 1142.8,427.0 1143.1,426.3 1143.5,425.6 1143.8,424.9 1144.1,424.3 1144.4,423.6 1144.8,423.0 1145.1,422.5 1145.4,422.0 1145.8,421.6 1146.1,421.3 1146.4,421.1 1146.7,421.2 1147.1,421.6 1147.4,422.2 1147.7,423.0 1148.1,423.8 1148.4,424.7 1148.7,425.6 1149.0,426.4 1149.4,427.1 1149.7,427.9 1150.0,428.6 1150.4,429.3 1150.7,429.9 1151.0,430.3 1151.3,430.5 1151.7,430.6 1152.0,430.5 1152.3,430.3 1152.7,430.1 1153.0,429.8 1153.3,429.6 1153.6,429.3 1154.0,428.9 1154.3,428.5 1154.6,427.9 1155.0,427.3 1155.3,426.7 1155.6,426.1 1155.9,425.5 1156.3,424.9 1156.6,424.3 1156.9,423.7 1157.3,423.2 1157.6,422.6 1157.9,422.2 1158.2,421.8 1158.6,421.6 1158.9,421.7 1159.2,422.1 1159.6,422.7 1159.9,423.6 1160.2,424.6 1160.5,425.7 1160.9,426.7 1161.2,427.6 1161.5,428.5 1161.9,429.2 1162.2,429.8 1162.5,430.3 1162.8,430.6 1163.2,430.8 1163.5,430.9 1163.8,431.0 1164.2,431.1 1164.5,431.2 1164.8,431.2 1165.1,431.1 1165.5,430.9 1165.8,430.5 1166.1,430.0 1166.4,429.5 1166.8,428.9 1167.1,428.3 1167.4,427.6 1167.8,426.9 1168.1,425.9 1168.4,424.8 1168.7,423.5 1169.1,421.9 1169.4,420.3 1169.7,418.6 1170.1,417.0 1170.4,416.0 1170.7,415.5 1171.0,416.3 1171.4,418.2 1171.7,420.6 1172.0,422.8 1172.4,424.7 1172.7,426.3 1173.0,427.6 1173.3,428.7 1173.7,429.6 1174.0,430.2 1174.3,430.6 1174.7,430.7 1175.0,430.7 1175.3,430.6 1175.6,430.4 1176.0,430.3 1176.3,430.2 1176.6,430.1 1177.0,430.0 1177.3,429.9 1177.6,429.6 1177.9,429.3 1178.3,428.9 1178.6,428.5 1178.9,428.3 1179.3,428.2 1179.6,428.3 1179.9,428.5 1180.2,428.7 1180.6,428.9 1180.9,428.9 1181.2,428.9 1181.6,428.7 1181.9,428.5 1182.2,428.4 1182.5,428.2 1182.9,427.9 1183.2,427.6 1183.5,427.2 1183.9,426.7 1184.2,426.2 1184.5,425.7 1184.8,425.3 1185.2,424.9 1185.5,424.4 1185.8,424.0 1186.2,423.4 1186.5,422.8 1186.8,422.0 1187.1,421.2 1187.5,420.3 1187.8,419.4 1188.1,418.4 1188.5,417.6 1188.8,416.9 1189.1,416.4 1189.4,416.2 1189.8,416.3 1190.1,416.4 1190.4,416.4 1190.8,416.3 1191.1,415.9 1191.4,415.4 1191.7,414.7 1192.1,413.9 1192.4,413.2 1192.7,412.4 1193.1,411.7 1193.4,410.9 1193.7,410.1 1194.0,409.3 1194.4,408.3 1194.7,407.4 1195.0,406.4 1195.4,405.6 1195.7,405.0 1196.0,404.6 1196.3,404.5 1196.7,405.0 1197.0,406.2 1197.3,407.9 1197.7,409.9 1198.0,412.0 1198.3,414.2 1198.6,416.3 1199.0,418.4 1199.3,420.4 1199.6,422.3 1200.0,424.0 1200.3,425.4 1200.6,426.5 1200.9,427.3 1201.3,427.9 1201.6,428.1 1201.9,428.3 1202.3,428.3 1202.6,428.3 1202.9,428.5 1203.2,428.8 1203.6,429.2 1203.9,429.8 1204.2,430.5 1204.6,431.1 1204.9,431.6 1205.2,432.0 1205.5,432.3 1205.9,432.6 1206.2,432.8 1206.5,432.9 1206.9,433.0 1207.2,432.9 1207.5,432.7 1207.8,432.4 1208.2,432.1 1208.5,431.7 1208.8,431.3 1209.2,431.0 1209.5,430.7 1209.8,430.4 1210.1,430.2 1210.5,430.0 1210.8,429.7 1211.1,429.2 1211.5,428.6 1211.8,428.0 1212.1,427.2 1212.4,426.5 1212.8,425.8 1213.1,425.1 1213.4,424.5 1213.8,424.0 1214.1,423.6 1214.4,423.1 1214.7,422.7 1215.1,422.3 1215.4,421.9 1215.7,421.6 1216.1,421.3 1216.4,421.1 1216.7,421.0 1217.0,420.9 1217.4,420.8 1217.7,420.7 1218.0,420.5 1218.4,420.5 1218.7,420.5 1219.0,420.8 1219.3,421.2 1219.7,421.8 1220.0,422.5 1220.3,423.4 1220.7,424.2 1221.0,425.0 1221.3,425.7 1221.6,426.2 1222.0,426.6 1222.3,426.9 1222.6,427.1 1223.0,427.3 1223.3,427.6 1223.6,427.9 1223.9,428.3 1224.3,428.8 1224.6,429.3 1224.9,429.8 1225.3,430.3 1225.6,430.8 1225.9,431.1 1226.2,431.3 1226.6,431.4 1226.9,431.5 1227.2,431.5 1227.6,431.5 1227.9,431.5 1228.2,431.5 1228.5,431.4 1228.9,431.3 1229.2,431.2 1229.5,431.0 1229.9,430.8 1230.2,430.5 1230.5,430.1 1230.8,429.7 1231.2,429.4 1231.5,429.3 1231.8,429.3 1232.2,429.4 1232.5,429.6 1232.8,429.7 1233.1,429.8 1233.5,429.6 1233.8,429.3 1234.1,428.9 1234.5,428.3 1234.8,427.7 1235.1,427.1 1235.4,426.6 1235.8,426.1 1236.1,425.7 1236.4,425.3 1236.8,424.9 1237.1,424.4 1237.4,423.8 1237.7,423.2 1238.1,422.6 1238.4,422.1 1238.7,421.8 1239.1,421.5 1239.4,421.4 1239.7,421.3 1240.0,421.5 1240.4,421.8 1240.7,422.3 1241.0,422.9 1241.4,423.7 1241.7,424.5 1242.0,425.3 1242.3,426.1 1242.7,426.7 1243.0,427.3 1243.3,427.7 1243.7,428.1 1244.0,428.5 1244.3,428.7 1244.6,428.9 1245.0,429.0 1245.3,429.0 1245.6,428.9 1246.0,428.9 1246.3,429.0 1246.6,429.2 1246.9,429.7 1247.3,430.2 1247.6,430.7 1247.9,431.1 1248.2,431.3 1248.6,431.4 1248.9,431.4 1249.2,431.3 1249.6,431.3 1249.9,431.3 1250.2,431.3 1250.5,431.3 1250.9,431.2 1251.2,430.9 1251.5,430.4 1251.9,429.6 1252.2,428.6 1252.5,427.4 1252.8,426.1 1253.2,424.7 1253.5,423.3 1253.8,422.0 1254.2,420.6 1254.5,419.2 1254.8,417.7 1255.1,416.2 1255.5,414.8 1255.8,413.7 1256.1,412.9 1256.5,412.5 1256.8,413.2 1257.1,414.6 1257.4,416.4 1257.8,418.3 1258.1,420.1 1258.4,421.7 1258.8,423.0 1259.1,424.0 1259.4,424.7 1259.7,425.0 1260.1,424.9 1260.4,424.4 1260.7,423.6 1261.1,422.7 1261.4,421.8 1261.7,420.9 1262.0,420.1 1262.4,419.6 1262.7,419.3 1263.0,419.1 1263.4,419.2 1263.7,419.5 1264.0,420.0 1264.3,420.8 1264.7,421.9 1265.0,423.2 1265.3,424.5 1265.7,425.6 1266.0,426.5 1266.3,427.3 1266.6,427.9 1267.0,428.5 1267.3,429.0 1267.6,429.4 1268.0,429.9 1268.3,430.3 1268.6,430.7 1268.9,431.0 1269.3,431.4 1269.6,431.7 1269.9,431.8 1270.3,431.9 1270.6,431.9 1270.9,431.8 1271.2,431.6 1271.6,431.5 1271.9,431.3 1272.2,431.1 1272.6,431.0 1272.9,430.8 1273.2,430.7 1273.5,430.7 1273.9,430.8 1274.2,430.9 1274.5,431.1 1274.9,431.4 1275.2,431.6 1275.5,431.8 1275.8,431.9 1276.2,432.0 1276.5,432.0 1276.8,431.9 1277.2,431.7 1277.5,431.5 1277.8,431.4 1278.1,431.3 1278.5,431.3 1278.8,431.4 1279.1,431.4 1279.5,431.3 1279.8,431.1 1280.1,430.8 1280.4,430.5 1280.8,430.2 1281.1,430.1 1281.4,430.1 1281.8,430.2 1282.1,430.4 1282.4,430.6 1282.7,430.8 1283.1,430.9 1283.4,431.0 1283.7,431.1 1284.1,431.2 1284.4,431.3 1284.7,431.4 1285.0,431.4 1285.4,431.4 1285.7,431.3 1286.0,431.0 1286.4,430.7 1286.7,430.3 1287.0,430.1 1287.3,429.9 1287.7,429.8 1288.0,429.9" fill="none" stroke="#36ad6b" stroke-width="3.9" stroke-linejoin="round"/>
<path d="M713.1,266.5 713.4,266.5 713.8,266.5 714.1,266.5 714.4,266.5 714.7,266.5 715.1,266.4 715.4,266.2 715.7,266.0 716.1,265.6 716.4,265.3 716.7,265.0 717.0,264.8 717.4,264.8 717.7,264.9 718.0,265.3 718.4,265.7 718.7,266.2 719.0,266.8 719.3,267.3 719.7,267.6 720.0,267.8 720.3,267.7 720.7,267.6 721.0,267.4 721.3,267.2 721.6,267.2 722.0,267.2 722.3,267.2 722.6,267.1 723.0,266.8 723.3,266.5 723.6,266.3 723.9,266.2 724.3,266.2 724.6,266.2 724.9,266.3 725.3,266.3 725.6,266.3 725.9,266.2 726.2,266.0 726.6,265.8 726.9,265.7 727.2,265.7 727.6,265.6 727.9,265.6 728.2,265.5 728.5,265.5 728.9,265.5 729.2,265.6 729.5,265.8 729.9,266.0 730.2,266.2 730.5,266.4 730.8,266.6 731.2,266.7 731.5,266.7 731.8,266.5 732.2,266.2 732.5,265.8 732.8,265.4 733.1,265.0 733.5,264.6 733.8,264.4 734.1,264.2 734.5,264.1 734.8,263.9 735.1,263.6 735.4,263.2 735.8,262.7 736.1,262.0 736.4,261.4 736.8,260.8 737.1,260.3 737.4,260.0 737.7,259.6 738.1,259.2 738.4,258.7 738.7,258.0 739.1,257.0 739.4,255.8 739.7,254.2 740.0,252.3 740.4,250.0 740.7,247.4 741.0,244.4 741.4,240.9 741.7,236.9 742.0,232.2 742.3,226.8 742.7,220.5 743.0,213.3 743.3,205.1 743.7,196.1 744.0,186.7 744.3,177.5 744.6,169.6 745.0,164.1 745.3,162.1 745.6,166.3 746.0,177.1 746.3,191.1 746.6,205.0 746.9,217.3 747.3,227.4 747.6,235.4 747.9,241.6 748.3,246.4 748.6,250.1 748.9,252.9 749.2,255.1 749.6,256.8 749.9,258.1 750.2,259.1 750.6,259.9 750.9,260.5 751.2,260.9 751.5,261.3 751.9,261.6 752.2,262.0 752.5,262.5 752.9,263.0 753.2,263.5 753.5,264.0 753.8,264.5 754.2,264.9 754.5,265.3 754.8,265.5 755.1,265.7 755.5,265.8 755.8,266.0 756.1,266.1 756.5,266.2 756.8,266.4 757.1,266.4 757.4,266.3 757.8,266.1 758.1,265.9 758.4,265.7 758.8,265.6 759.1,265.7 759.4,265.8 759.7,266.0 760.1,266.2 760.4,266.4 760.7,266.5 761.1,266.7 761.4,266.9 761.7,267.0 762.0,267.0 762.4,267.0 762.7,267.1 763.0,267.1 763.4,267.1 763.7,267.2 764.0,267.2 764.3,267.3 764.7,267.3 765.0,267.3 765.3,267.3 765.7,267.4 766.0,267.6 766.3,267.9 766.6,268.1 767.0,268.3 767.3,268.5 767.6,268.6 768.0,268.7 768.3,268.7 768.6,268.7 768.9,268.6 769.3,268.3 769.6,268.0 769.9,267.7 770.3,267.3 770.6,267.0 770.9,266.9 771.2,266.8 771.6,266.8 771.9,266.9 772.2,266.9 772.6,267.0 772.9,266.9 773.2,266.8 773.5,266.7 773.9,266.4 774.2,266.3 774.5,266.1 774.9,266.1 775.2,266.2 775.5,266.3 775.8,266.5 776.2,266.5 776.5,266.5 776.8,266.3 777.2,266.0 777.5,265.5 777.8,264.9 778.1,264.0 778.5,262.9 778.8,261.5 779.1,259.7 779.5,257.7 779.8,255.5 780.1,253.6 780.4,252.9 780.8,254.3 781.1,257.5 781.4,260.6 781.8,263.0 782.1,264.5 782.4,265.4 782.7,265.9 783.1,266.2 783.4,266.3 783.7,266.3 784.1,266.2 784.4,265.8 784.7,265.3 785.0,264.5 785.4,263.6 785.7,262.5 786.0,261.4 786.4,260.5 786.7,260.0 787.0,260.3 787.3,261.8 787.7,263.7 788.0,265.2 788.3,266.3 788.7,267.0 789.0,267.4 789.3,267.7 789.6,268.0 790.0,268.2 790.3,268.3 790.6,268.4 791.0,268.4 791.3,268.3 791.6,268.1 791.9,267.9 792.3,267.7 792.6,267.5 792.9,267.4 793.3,267.4 793.6,267.4 793.9,267.6 794.2,267.7 794.6,267.8 794.9,267.9 795.2,268.0 795.6,268.1 795.9,268.3 796.2,268.4 796.5,268.5 796.9,268.5 797.2,268.5 797.5,268.4 797.9,268.3 798.2,268.2 798.5,268.0 798.8,267.8 799.2,267.6 799.5,267.4 799.8,267.2 800.2,267.0 800.5,266.7 800.8,266.4 801.1,266.1 801.5,265.9 801.8,265.5 802.1,265.2 802.5,264.7 802.8,264.0 803.1,263.1 803.4,261.9 803.8,260.3 804.1,258.3 804.4,255.8 804.8,252.6 805.1,248.3 805.4,242.7 805.7,235.1 806.1,225.2 806.4,212.3 806.7,196.4 807.1,177.9 807.4,158.7 807.7,143.3 808.0,137.2 808.4,150.0 808.7,177.4 809.0,203.8 809.4,223.8 809.7,237.5 810.0,246.5 810.3,252.4 810.7,256.5 811.0,259.3 811.3,261.4 811.7,262.9 812.0,264.0 812.3,264.8 812.6,265.4 813.0,265.9 813.3,266.3 813.6,266.7 814.0,267.0 814.3,267.2 814.6,267.5 814.9,267.8 815.3,268.1 815.6,268.5 815.9,269.0 816.3,269.4 816.6,269.8 816.9,270.0 817.2,270.0 817.6,269.8 817.9,269.5 818.2,269.0 818.6,268.5 818.9,268.1 819.2,267.7 819.5,267.3 819.9,267.0 820.2,266.6 820.5,266.2 820.9,265.7 821.2,265.2 821.5,264.7 821.8,264.1 822.2,263.5 822.5,262.7 822.8,261.8 823.2,260.6 823.5,259.0 823.8,257.0 824.1,254.3 824.5,250.6 824.8,245.7 825.1,239.2 825.5,230.8 825.8,220.5 826.1,209.1 826.4,198.3 826.8,191.6 827.1,192.8 827.4,206.5 827.8,223.6 828.1,237.8 828.4,247.8 828.7,254.3 829.1,258.4 829.4,260.8 829.7,262.1 830.1,262.8 830.4,263.1 830.7,263.2 831.0,263.1 831.4,263.0 831.7,263.0 832.0,263.0 832.4,263.1 832.7,263.1 833.0,262.9 833.3,262.5 833.7,261.8 834.0,260.7 834.3,259.1 834.7,257.1 835.0,254.6 835.3,251.6 835.6,248.0 836.0,243.9 836.3,239.3 836.6,234.6 836.9,230.3 837.3,227.2 837.6,226.0 837.9,228.4 838.3,234.5 838.6,241.5 838.9,247.9 839.2,253.0 839.6,256.9 839.9,259.8 840.2,262.0 840.6,263.7 840.9,265.0 841.2,266.0 841.5,266.8 841.9,267.3 842.2,267.7 842.5,268.0 842.9,268.2 843.2,268.3 843.5,268.3 843.8,268.3 844.2,268.3 844.5,268.2 844.8,268.2 845.2,268.3 845.5,268.3 845.8,268.3 846.1,268.2 846.5,268.1 846.8,268.0 847.1,267.8 847.5,267.4 847.8,266.9 848.1,266.3 848.4,265.6 848.8,264.8 849.1,263.9 849.4,263.0 849.8,262.0 850.1,261.0 850.4,259.9 850.7,258.5 851.1,256.8 851.4,254.7 851.7,252.1 852.1,248.7 852.4,244.5 852.7,239.0 853.0,231.9 853.4,222.8 853.7,211.4 854.0,197.7 854.4,182.5 854.7,168.0 855.0,157.9 855.3,157.1 855.7,171.0 856.0,188.9 856.3,203.1 856.7,212.3 857.0,217.4 857.3,219.9 857.6,220.7 858.0,220.8 858.3,220.5 858.6,220.4 859.0,220.6 859.3,221.3 859.6,223.5 859.9,226.8 860.3,230.8 860.6,235.2 860.9,239.6 861.3,243.8 861.6,247.7 861.9,251.2 862.2,254.3 862.6,256.8 862.9,259.0 863.2,260.7 863.6,262.1 863.9,263.3 864.2,264.4 864.5,265.3 864.9,266.0 865.2,266.7 865.5,267.1 865.9,267.4 866.2,267.6 866.5,267.6 866.8,267.7 867.2,267.7 867.5,267.8 867.8,267.9 868.2,268.0 868.5,268.1 868.8,268.1 869.1,268.0 869.5,267.8 869.8,267.5 870.1,267.1 870.5,266.7 870.8,266.2 871.1,265.6 871.4,264.8 871.8,263.9 872.1,262.7 872.4,261.1 872.8,259.1 873.1,256.8 873.4,254.4 873.7,252.5 874.1,251.7 874.4,253.2 874.7,256.6 875.1,259.8 875.4,262.1 875.7,263.5 876.0,264.1 876.4,264.1 876.7,263.6 877.0,262.6 877.4,261.0 877.7,258.9 878.0,256.1 878.3,252.5 878.7,248.4 879.0,244.0 879.3,240.5 879.7,239.1 880.0,241.9 880.3,248.2 880.6,254.3 881.0,258.9 881.3,262.1 881.6,264.2 882.0,265.5 882.3,266.4 882.6,267.0 882.9,267.3 883.3,267.5 883.6,267.5 883.9,267.4 884.3,267.0 884.6,266.5 884.9,265.8 885.2,264.8 885.6,263.6 885.9,262.0 886.2,260.3 886.6,258.4 886.9,256.9 887.2,256.2 887.5,257.3 887.9,259.8 888.2,262.4 888.5,264.4 888.9,266.0 889.2,267.1 889.5,267.8 889.8,268.3 890.2,268.6 890.5,268.7 890.8,268.7 891.2,268.7 891.5,268.7 891.8,268.7 892.1,268.5 892.5,268.3 892.8,268.0 893.1,267.8 893.5,267.6 893.8,267.5 894.1,267.4 894.4,267.3 894.8,267.1 895.1,266.8 895.4,266.3 895.8,265.6 896.1,264.8 896.4,263.9 896.7,262.8 897.1,261.5 897.4,260.1 897.7,258.6 898.1,257.0 898.4,255.5 898.7,254.1 899.0,253.1 899.4,252.6 899.7,252.7 900.0,253.8 900.4,255.8 900.7,258.0 901.0,260.2 901.3,262.1 901.7,263.8 902.0,265.1 902.3,266.0 902.7,266.7 903.0,267.1 903.3,267.3 903.6,267.4 904.0,267.5 904.3,267.5 904.6,267.6 905.0,267.6 905.3,267.6 905.6,267.6 905.9,267.6 906.3,267.3 906.6,266.9 906.9,266.2 907.3,265.5 907.6,264.7 907.9,264.0 908.2,263.5 908.6,263.0 908.9,262.6 909.2,262.1 909.6,261.5 909.9,260.7 910.2,259.8 910.5,258.8 910.9,257.8 911.2,256.9 911.5,256.0 911.9,255.1 912.2,254.4 912.5,253.9 912.8,253.7 913.2,254.0 913.5,254.9 913.8,256.2 914.2,257.5 914.5,258.6 914.8,259.4 915.1,260.0 915.5,260.2 915.8,260.1 916.1,259.8 916.5,259.2 916.8,258.2 917.1,256.8 917.4,254.8 917.8,252.3 918.1,249.1 918.4,245.1 918.7,240.7 919.1,236.1 919.4,232.4 919.7,230.8 920.1,233.5 920.4,239.4 920.7,245.0 921.0,248.8 921.4,251.0 921.7,251.8 922.0,251.8 922.4,251.1 922.7,249.8 923.0,247.9 923.3,245.3 923.7,241.8 924.0,237.0 924.3,230.6 924.7,222.2 925.0,211.5 925.3,198.6 925.6,184.2 926.0,170.8 926.3,162.1 926.6,163.0 927.0,178.9 927.3,198.7 927.6,214.5 927.9,224.7 928.3,230.1 928.6,231.6 928.9,230.1 929.3,226.3 929.6,220.6 929.9,213.8 930.2,207.2 930.6,203.1 930.9,204.3 931.2,213.9 931.6,225.9 931.9,235.9 932.2,243.1 932.5,247.9 932.9,250.9 933.2,252.7 933.5,253.7 933.9,254.3 934.2,254.6 934.5,254.8 934.8,254.9 935.2,254.7 935.5,254.3 935.8,253.6 936.2,252.5 936.5,250.9 936.8,248.8 937.1,245.8 937.5,241.7 937.8,236.3 938.1,229.3 938.5,220.8 938.8,211.3 939.1,202.3 939.4,196.4 939.8,196.8 940.1,207.0 940.4,219.9 940.8,230.0 941.1,236.3 941.4,239.2 941.7,239.4 942.1,237.6 942.4,234.3 942.7,230.3 943.1,227.1 943.4,226.1 943.7,230.1 944.0,237.9 944.4,245.4 944.7,251.3 945.0,255.4 945.4,258.2 945.7,260.2 946.0,261.6 946.3,262.7 946.7,263.6 947.0,264.3 947.3,264.8 947.7,265.3 948.0,265.6 948.3,266.0 948.6,266.3 949.0,266.4 949.3,266.4 949.6,266.3 950.0,266.0 950.3,265.6 950.6,265.1 950.9,264.7 951.3,264.5 951.6,264.3 951.9,264.2 952.3,264.2 952.6,264.0 952.9,263.8 953.2,263.5 953.6,263.1 953.9,262.5 954.2,261.7 954.6,260.5 954.9,258.9 955.2,256.7 955.5,253.9 955.9,250.2 956.2,245.5 956.5,239.8 956.9,233.2 957.2,226.5 957.5,221.0 957.8,218.8 958.2,223.1 958.5,232.4 958.8,241.3 959.2,247.7 959.5,251.7 959.8,254.0 960.1,255.0 960.5,255.1 960.8,254.5 961.1,253.3 961.5,251.3 961.8,248.3 962.1,244.0 962.4,238.0 962.8,230.2 963.1,220.5 963.4,209.5 963.8,199.1 964.1,192.1 964.4,192.4 964.7,204.1 965.1,219.0 965.4,231.1 965.7,239.2 966.1,243.9 966.4,245.9 966.7,245.9 967.0,244.3 967.4,241.4 967.7,237.7 968.0,233.9 968.4,231.4 968.7,231.7 969.0,236.6 969.3,242.5 969.7,247.2 970.0,250.1 970.3,251.7 970.7,252.3 971.0,252.3 971.3,251.9 971.6,251.3 972.0,250.7 972.3,250.0 972.6,249.5 973.0,249.2 973.3,249.3 973.6,250.3 973.9,252.0 974.3,254.1 974.6,256.3 974.9,258.5 975.3,260.4 975.6,262.1 975.9,263.4 976.2,264.5 976.6,265.2 976.9,265.8 977.2,266.1 977.6,266.3 977.9,266.4 978.2,266.4 978.5,266.4 978.9,266.4 979.2,266.3 979.5,266.2 979.9,266.2 980.2,266.1 980.5,266.1 980.8,266.1 981.2,266.2 981.5,266.2 981.8,266.2 982.2,266.0 982.5,265.6 982.8,265.0 983.1,264.3 983.5,263.5 983.8,262.6 984.1,261.5 984.5,260.3 984.8,258.8 985.1,256.9 985.4,254.2 985.8,250.5 986.1,245.6 986.4,239.5 986.8,232.7 987.1,226.2 987.4,222.1 987.7,222.7 988.1,230.7 988.4,240.9 988.7,249.3 989.1,255.3 989.4,259.3 989.7,261.8 990.0,263.5 990.4,264.5 990.7,265.2 991.0,265.6 991.4,265.8 991.7,265.9 992.0,266.0 992.3,266.1 992.7,266.2 993.0,266.3 993.3,266.5 993.7,266.7 994.0,266.8 994.3,266.9 994.6,266.8 995.0,266.6 995.3,266.3 995.6,266.1 996.0,265.8 996.3,265.6 996.6,265.3 996.9,265.0 997.3,264.6 997.6,264.0 997.9,263.1 998.3,262.1 998.6,260.8 998.9,259.4 999.2,258.0 999.6,256.7 999.9,255.7 1000.2,255.1 1000.5,255.1 1000.9,256.2 1001.2,258.3 1001.5,260.5 1001.9,262.5 1002.2,264.1 1002.5,265.3 1002.8,266.2 1003.2,266.8 1003.5,267.2 1003.8,267.4 1004.2,267.4 1004.5,267.4 1004.8,267.4 1005.1,267.4 1005.5,267.5 1005.8,267.5 1006.1,267.4 1006.5,267.0 1006.8,266.6 1007.1,266.1 1007.4,265.7 1007.8,265.3 1008.1,264.9 1008.4,264.7 1008.8,264.5 1009.1,264.3 1009.4,264.1 1009.7,263.9 1010.1,263.7 1010.4,263.5 1010.7,263.3 1011.1,263.1 1011.4,262.7 1011.7,262.2 1012.0,261.6 1012.4,260.9 1012.7,260.1 1013.0,259.8 1013.4,259.7 1013.7,259.8 1014.0,259.8 1014.3,259.8 1014.7,259.7 1015.0,259.5 1015.3,259.3 1015.7,258.8 1016.0,258.3 1016.3,257.5 1016.6,256.5 1017.0,255.1 1017.3,253.0 1017.6,250.1 1018.0,246.2 1018.3,241.1 1018.6,234.9 1018.9,228.4 1019.3,222.9 1019.6,220.4 1019.9,224.2 1020.3,232.8 1020.6,240.9 1020.9,246.8 1021.2,250.4 1021.6,252.1 1021.9,252.6 1022.2,252.0 1022.6,250.7 1022.9,248.9 1023.2,246.8 1023.5,244.7 1023.9,243.3 1024.2,243.0 1024.5,244.6 1024.9,248.2 1025.2,252.2 1025.5,255.6 1025.8,258.1 1026.2,259.8 1026.5,260.8 1026.8,261.2 1027.2,261.2 1027.5,260.8 1027.8,260.1 1028.1,258.6 1028.5,256.5 1028.8,253.9 1029.1,250.8 1029.5,247.1 1029.8,242.7 1030.1,237.5 1030.4,231.4 1030.8,224.2 1031.1,216.0 1031.4,206.8 1031.8,197.1 1032.1,187.5 1032.4,179.0 1032.7,172.7 1033.1,169.6 1033.4,172.0 1033.7,177.5 1034.1,183.4 1034.4,187.9 1034.7,190.6 1035.0,191.8 1035.4,192.0 1035.7,191.7 1036.0,191.4 1036.4,191.5 1036.7,192.1 1037.0,194.1 1037.3,198.1 1037.7,203.4 1038.0,209.7 1038.3,216.3 1038.7,222.8 1039.0,229.0 1039.3,234.7 1039.6,239.7 1040.0,244.0 1040.3,247.6 1040.6,250.6 1041.0,253.1 1041.3,255.1 1041.6,256.7 1041.9,258.0 1042.3,259.0 1042.6,259.7 1042.9,260.0 1043.3,259.9 1043.6,259.4 1043.9,258.5 1044.2,257.0 1044.6,255.0 1044.9,252.4 1045.2,249.2 1045.6,245.4 1045.9,241.2 1046.2,236.9 1046.5,233.0 1046.9,230.4 1047.2,229.7 1047.5,232.5 1047.9,238.5 1048.2,245.4 1048.5,251.6 1048.8,256.5 1049.2,260.2 1049.5,262.8 1049.8,264.7 1050.2,266.1 1050.5,267.1 1050.8,267.9 1051.1,268.6 1051.5,269.2 1051.8,269.8 1052.1,270.2 1052.5,270.6 1052.8,270.7 1053.1,270.7 1053.4,270.6 1053.8,270.4 1054.1,270.2 1054.4,270.2 1054.8,270.2 1055.1,270.3 1055.4,270.5 1055.7,270.6 1056.1,270.6 1056.4,270.5 1056.7,270.3 1057.1,270.1 1057.4,269.9 1057.7,269.6 1058.0,269.5 1058.4,269.4 1058.7,269.3 1059.0,269.3 1059.4,269.4 1059.7,269.4 1060.0,269.3 1060.3,269.2 1060.7,269.0 1061.0,268.9 1061.3,268.7 1061.7,268.6 1062.0,268.6 1062.3,268.6 1062.6,268.6 1063.0,268.6 1063.3,268.5 1063.6,268.3 1064.0,267.9 1064.3,267.5 1064.6,266.9 1064.9,266.2 1065.3,265.4 1065.6,264.5 1065.9,263.6 1066.3,262.5 1066.6,261.3 1066.9,259.7 1067.2,257.7 1067.6,255.3 1067.9,252.6 1068.2,250.4 1068.6,249.3 1068.9,250.8 1069.2,254.3 1069.5,257.8 1069.9,260.4 1070.2,262.2 1070.5,263.4 1070.9,264.2 1071.2,264.6 1071.5,264.8 1071.8,264.7 1072.2,264.2 1072.5,263.3 1072.8,262.0 1073.2,260.4 1073.5,258.5 1073.8,256.5 1074.1,254.7 1074.5,253.6 1074.8,253.9 1075.1,256.4 1075.5,259.6 1075.8,262.2 1076.1,264.1 1076.4,265.3 1076.8,266.1 1077.1,266.6 1077.4,266.9 1077.8,267.1 1078.1,267.2 1078.4,267.2 1078.7,267.2 1079.1,267.1 1079.4,267.0 1079.7,266.8 1080.1,266.6 1080.4,266.5 1080.7,266.4 1081.0,266.3 1081.4,266.0 1081.7,265.7 1082.0,265.2 1082.4,264.6 1082.7,263.9 1083.0,263.2 1083.3,262.3 1083.7,261.4 1084.0,260.4 1084.3,259.5 1084.6,258.4 1085.0,257.4 1085.3,256.2 1085.6,255.0 1086.0,253.7 1086.3,252.4 1086.6,251.2 1086.9,250.0 1087.3,249.2 1087.6,248.8 1087.9,249.2 1088.3,250.5 1088.6,252.5 1088.9,254.8 1089.2,257.0 1089.6,259.1 1089.9,260.9 1090.2,262.4 1090.6,263.6 1090.9,264.6 1091.2,265.4 1091.5,266.0 1091.9,266.5 1092.2,266.9 1092.5,267.2 1092.9,267.3 1093.2,267.5 1093.5,267.5 1093.8,267.6 1094.2,267.7 1094.5,267.7 1094.8,267.7 1095.2,267.7 1095.5,267.6 1095.8,267.5 1096.1,267.4 1096.5,267.3 1096.8,267.2 1097.1,267.1 1097.5,267.1 1097.8,267.0 1098.1,267.0 1098.4,267.0 1098.8,267.0 1099.1,267.1 1099.4,267.2 1099.8,267.4 1100.1,267.5 1100.4,267.6 1100.7,267.6 1101.1,267.5 1101.4,267.5 1101.7,267.4 1102.1,267.4 1102.4,267.4 1102.7,267.5 1103.0,267.6 1103.4,267.6 1103.7,267.7 1104.0,267.8 1104.4,267.8 1104.7,267.7 1105.0,267.5 1105.3,267.4 1105.7,267.2 1106.0,267.0 1106.3,266.9 1106.7,266.9 1107.0,266.9 1107.3,266.8 1107.6,266.6 1108.0,266.3 1108.3,265.9 1108.6,265.4 1109.0,264.8 1109.3,264.4 1109.6,263.9 1109.9,263.6 1110.3,263.1 1110.6,262.6 1110.9,262.0 1111.3,261.2 1111.6,260.2 1111.9,259.2 1112.2,258.3 1112.6,257.4 1112.9,256.5 1113.2,255.7 1113.6,254.8 1113.9,253.7 1114.2,252.5 1114.5,251.1 1114.9,249.6 1115.2,247.9 1115.5,246.1 1115.9,244.3 1116.2,242.4 1116.5,240.6 1116.8,238.8 1117.2,237.2 1117.5,235.6 1117.8,234.3 1118.2,233.2 1118.5,232.0 1118.8,230.6 1119.1,228.9 1119.5,227.1 1119.8,225.5 1120.1,224.5 1120.5,224.7 1120.8,227.1 1121.1,231.9 1121.4,237.3 1121.8,242.3 1122.1,246.2 1122.4,249.2 1122.8,251.2 1123.1,252.5 1123.4,253.0 1123.7,252.9 1124.1,252.3 1124.4,251.3 1124.7,250.0 1125.1,248.9 1125.4,248.2 1125.7,248.3 1126.0,249.7 1126.4,252.6 1126.7,255.9 1127.0,258.9 1127.4,261.2 1127.7,263.0 1128.0,264.2 1128.3,265.0 1128.7,265.6 1129.0,266.1 1129.3,266.5 1129.7,266.8 1130.0,267.2 1130.3,267.6 1130.6,268.0 1131.0,268.3 1131.3,268.6 1131.6,268.8 1132.0,269.0 1132.3,269.1 1132.6,269.2 1132.9,269.2 1133.3,269.3 1133.6,269.3 1133.9,269.3 1134.3,269.3 1134.6,269.3 1134.9,269.3 1135.2,269.3 1135.6,269.3 1135.9,269.3 1136.2,269.4 1136.6,269.5 1136.9,269.7 1137.2,269.8 1137.5,269.7 1137.9,269.6 1138.2,269.3 1138.5,269.0 1138.9,268.7 1139.2,268.3 1139.5,267.9 1139.8,267.6 1140.2,267.2 1140.5,266.8 1140.8,266.4 1141.2,266.0 1141.5,265.7 1141.8,265.3 1142.1,265.0 1142.5,264.6 1142.8,264.3 1143.1,263.9 1143.5,263.4 1143.8,262.7 1144.1,261.8 1144.4,260.9 1144.8,259.9 1145.1,259.0 1145.4,258.2 1145.8,257.6 1146.1,257.1 1146.4,257.0 1146.7,257.1 1147.1,257.7 1147.4,258.6 1147.7,259.8 1148.1,261.0 1148.4,262.2 1148.7,263.5 1149.0,264.8 1149.4,266.0 1149.7,267.0 1150.0,267.9 1150.4,268.5 1150.7,269.0 1151.0,269.2 1151.3,269.3 1151.7,269.2 1152.0,269.0 1152.3,268.8 1152.7,268.3 1153.0,267.8 1153.3,267.3 1153.6,266.7 1154.0,266.1 1154.3,265.4 1154.6,264.7 1155.0,263.9 1155.3,263.0 1155.6,262.1 1155.9,261.2 1156.3,260.3 1156.6,259.4 1156.9,258.6 1157.3,257.8 1157.6,257.2 1157.9,256.8 1158.2,256.7 1158.6,256.7 1158.9,257.1 1159.2,257.8 1159.6,258.8 1159.9,260.0 1160.2,261.1 1160.5,262.2 1160.9,263.2 1161.2,264.1 1161.5,265.0 1161.9,265.8 1162.2,266.6 1162.5,267.3 1162.8,267.8 1163.2,268.2 1163.5,268.3 1163.8,268.3 1164.2,268.2 1164.5,268.0 1164.8,267.9 1165.1,267.8 1165.5,267.8 1165.8,267.9 1166.1,267.9 1166.4,267.9 1166.8,267.7 1167.1,267.4 1167.4,267.0 1167.8,266.4 1168.1,265.6 1168.4,264.8 1168.7,263.8 1169.1,262.7 1169.4,261.4 1169.7,260.0 1170.1,258.6 1170.4,257.3 1170.7,256.0 1171.0,255.2 1171.4,254.8 1171.7,255.2 1172.0,256.7 1172.4,258.8 1172.7,260.9 1173.0,262.7 1173.3,264.1 1173.7,265.3 1174.0,266.1 1174.3,266.5 1174.7,266.7 1175.0,266.6 1175.3,266.4 1175.6,266.1 1176.0,265.8 1176.3,265.6 1176.6,265.6 1177.0,265.6 1177.3,265.6 1177.6,265.6 1177.9,265.4 1178.3,265.2 1178.6,264.9 1178.9,264.5 1179.3,264.0 1179.6,263.5 1179.9,262.9 1180.2,262.3 1180.6,261.5 1180.9,260.6 1181.2,259.6 1181.6,258.5 1181.9,257.4 1182.2,256.4 1182.5,255.4 1182.9,254.5 1183.2,253.6 1183.5,252.7 1183.9,251.7 1184.2,250.8 1184.5,249.7 1184.8,248.7 1185.2,247.6 1185.5,246.7 1185.8,246.0 1186.2,245.5 1186.5,245.5 1186.8,246.0 1187.1,246.9 1187.5,248.1 1187.8,249.3 1188.1,250.6 1188.5,251.8 1188.8,252.8 1189.1,253.7 1189.4,254.4 1189.8,255.0 1190.1,255.5 1190.4,255.8 1190.8,256.0 1191.1,255.9 1191.4,255.6 1191.7,255.2 1192.1,254.6 1192.4,254.0 1192.7,253.5 1193.1,252.9 1193.4,252.4 1193.7,251.9 1194.0,251.2 1194.4,250.5 1194.7,249.7 1195.0,248.8 1195.4,247.9 1195.7,247.1 1196.0,246.3 1196.3,245.7 1196.7,245.3 1197.0,245.5 1197.3,246.2 1197.7,247.4 1198.0,249.0 1198.3,250.8 1198.6,252.7 1199.0,254.5 1199.3,256.2 1199.6,257.7 1200.0,259.0 1200.3,260.1 1200.6,261.0 1200.9,261.8 1201.3,262.4 1201.6,263.0 1201.9,263.5 1202.3,264.1 1202.6,264.7 1202.9,265.3 1203.2,265.8 1203.6,266.2 1203.9,266.5 1204.2,266.8 1204.6,266.9 1204.9,267.0 1205.2,267.0 1205.5,266.9 1205.9,266.8 1206.2,266.6 1206.5,266.4 1206.9,266.2 1207.2,266.1 1207.5,265.9 1207.8,265.8 1208.2,265.7 1208.5,265.7 1208.8,265.8 1209.2,266.0 1209.5,266.2 1209.8,266.3 1210.1,266.5 1210.5,266.5 1210.8,266.4 1211.1,266.2 1211.5,265.8 1211.8,265.4 1212.1,264.8 1212.4,264.1 1212.8,263.5 1213.1,262.9 1213.4,262.4 1213.8,262.1 1214.1,261.9 1214.4,261.7 1214.7,261.6 1215.1,261.4 1215.4,261.1 1215.7,260.8 1216.1,260.4 1216.4,259.9 1216.7,259.5 1217.0,259.0 1217.4,258.6 1217.7,258.2 1218.0,257.9 1218.4,257.7 1218.7,257.4 1219.0,257.2 1219.3,257.0 1219.7,256.8 1220.0,256.7 1220.3,256.8 1220.7,257.0 1221.0,257.4 1221.3,257.9 1221.6,258.4 1222.0,259.0 1222.3,259.5 1222.6,259.9 1223.0,260.3 1223.3,260.7 1223.6,261.2 1223.9,261.6 1224.3,262.1 1224.6,262.5 1224.9,263.0 1225.3,263.4 1225.6,263.7 1225.9,264.0 1226.2,264.3 1226.6,264.6 1226.9,264.9 1227.2,265.1 1227.6,265.3 1227.9,265.4 1228.2,265.4 1228.5,265.3 1228.9,265.1 1229.2,264.8 1229.5,264.4 1229.9,264.0 1230.2,263.7 1230.5,263.6 1230.8,263.5 1231.2,263.6 1231.5,263.6 1231.8,263.6 1232.2,263.6 1232.5,263.3 1232.8,263.0 1233.1,262.6 1233.5,262.2 1233.8,261.8 1234.1,261.4 1234.5,261.0 1234.8,260.7 1235.1,260.5 1235.4,260.3 1235.8,260.2 1236.1,260.1 1236.4,260.0 1236.8,259.7 1237.1,259.3 1237.4,258.8 1237.7,258.3 1238.1,257.8 1238.4,257.5 1238.7,257.3 1239.1,257.3 1239.4,257.3 1239.7,257.5 1240.0,257.8 1240.4,258.2 1240.7,258.7 1241.0,259.3 1241.4,259.9 1241.7,260.5 1242.0,261.1 1242.3,261.6 1242.7,262.1 1243.0,262.5 1243.3,263.0 1243.7,263.5 1244.0,263.9 1244.3,264.4 1244.6,264.7 1245.0,265.0 1245.3,265.2 1245.6,265.4 1246.0,265.5 1246.3,265.6 1246.6,265.8 1246.9,265.9 1247.3,266.0 1247.6,266.2 1247.9,266.4 1248.2,266.6 1248.6,267.0 1248.9,267.3 1249.2,267.6 1249.6,267.7 1249.9,267.7 1250.2,267.4 1250.5,267.0 1250.9,266.4 1251.2,265.6 1251.5,264.9 1251.9,264.0 1252.2,263.1 1252.5,262.1 1252.8,261.1 1253.2,260.0 1253.5,258.8 1253.8,257.7 1254.2,256.4 1254.5,255.1 1254.8,253.8 1255.1,252.6 1255.5,251.5 1255.8,250.8 1256.1,250.3 1256.5,250.4 1256.8,251.3 1257.1,252.7 1257.4,254.4 1257.8,255.9 1258.1,257.0 1258.4,257.8 1258.8,258.2 1259.1,258.3 1259.4,258.2 1259.7,258.0 1260.1,257.7 1260.4,257.3 1260.7,256.9 1261.1,256.4 1261.4,255.9 1261.7,255.2 1262.0,254.4 1262.4,253.5 1262.7,252.6 1263.0,251.7 1263.4,251.1 1263.7,250.8 1264.0,250.9 1264.3,251.6 1264.7,252.9 1265.0,254.4 1265.3,256.0 1265.7,257.6 1266.0,259.1 1266.3,260.6 1266.6,261.8 1267.0,262.9 1267.3,263.7 1267.6,264.3 1268.0,264.7 1268.3,264.9 1268.6,265.0 1268.9,265.2 1269.3,265.4 1269.6,265.6 1269.9,265.7 1270.3,265.8 1270.6,265.9 1270.9,266.0 1271.2,266.0 1271.6,266.1 1271.9,266.2 1272.2,266.4 1272.6,266.5 1272.9,266.8 1273.2,267.1 1273.5,267.6 1273.9,268.0 1274.2,268.4 1274.5,268.7 1274.9,268.9 1275.2,269.1 1275.5,269.2 1275.8,269.3 1276.2,269.4 1276.5,269.4 1276.8,269.4 1277.2,269.3 1277.5,269.0 1277.8,268.6 1278.1,268.2 1278.5,267.7 1278.8,267.3 1279.1,267.0 1279.5,266.8 1279.8,266.8 1280.1,266.8 1280.4,266.9 1280.8,267.1 1281.1,267.2 1281.4,267.3 1281.8,267.2 1282.1,267.1 1282.4,266.9 1282.7,266.7 1283.1,266.6 1283.4,266.6 1283.7,266.6 1284.1,266.8 1284.4,266.8 1284.7,266.8 1285.0,266.7 1285.4,266.6 1285.7,266.6 1286.0,266.6 1286.4,266.6 1286.7,266.8 1287.0,266.9 1287.3,267.1 1287.7,267.2 1288.0,267.3" fill="none" stroke="#af77de" stroke-width="3.9" stroke-linejoin="round"/>
<rect x="62.80" y="57.00" width="575.40" height="889.00" fill="none" stroke="#000" stroke-width="3.5" stroke-linejoin="miter"/>
<line x1="62.80" y1="946.00" x2="62.80" y2="954.00" stroke="#000" stroke-width="3.6"/>
<line x1="145.00" y1="946.00" x2="145.00" y2="962.50" stroke="#000" stroke-width="3.6"/>
<line x1="227.20" y1="946.00" x2="227.20" y2="954.00" stroke="#000" stroke-width="3.6"/>
<line x1="309.40" y1="946.00" x2="309.40" y2="962.50" stroke="#000" stroke-width="3.6"/>
<line x1="391.60" y1="946.00" x2="391.60" y2="954.00" stroke="#000" stroke-width="3.6"/>
<line x1="473.80" y1="946.00" x2="473.80" y2="962.50" stroke="#000" stroke-width="3.6"/>
<line x1="556.00" y1="946.00" x2="556.00" y2="954.00" stroke="#000" stroke-width="3.6"/>
<line x1="638.20" y1="946.00" x2="638.20" y2="962.50" stroke="#000" stroke-width="3.6"/>
<rect x="713.10" y="59.20" width="574.90" height="889.00" fill="none" stroke="#000" stroke-width="3.5" stroke-linejoin="miter"/>
<line x1="713.10" y1="948.20" x2="713.10" y2="956.20" stroke="#000" stroke-width="3.6"/>
<line x1="795.23" y1="948.20" x2="795.23" y2="964.70" stroke="#000" stroke-width="3.6"/>
<line x1="877.36" y1="948.20" x2="877.36" y2="956.20" stroke="#000" stroke-width="3.6"/>
<line x1="959.49" y1="948.20" x2="959.49" y2="964.70" stroke="#000" stroke-width="3.6"/>
<line x1="1041.61" y1="948.20" x2="1041.61" y2="956.20" stroke="#000" stroke-width="3.6"/>
<line x1="1123.74" y1="948.20" x2="1123.74" y2="964.70" stroke="#000" stroke-width="3.6"/>
<line x1="1205.87" y1="948.20" x2="1205.87" y2="956.20" stroke="#000" stroke-width="3.6"/>
<line x1="1288.00" y1="948.20" x2="1288.00" y2="964.70" stroke="#000" stroke-width="3.6"/>
<text transform="translate(122.55,1010.70) scale(1.0000,1)" font-size="46.50" fill="#000">10</text>
<text transform="translate(772.75,1012.50) scale(1.0000,1)" font-size="46.50" fill="#000">10</text>
<text transform="translate(285.38,1010.70) scale(1.0000,1)" font-size="46.50" fill="#000">20</text>
<text transform="translate(935.58,1012.50) scale(1.0000,1)" font-size="46.50" fill="#000">20</text>
<text transform="translate(450.38,1010.70) scale(1.0000,1)" font-size="46.50" fill="#000">30</text>
<text transform="translate(1100.58,1012.50) scale(1.0000,1)" font-size="46.50" fill="#000">30</text>
<text transform="translate(614.82,1010.70) scale(1.0000,1)" font-size="46.50" fill="#000">40</text>
<text transform="translate(1265.02,1012.50) scale(1.0000,1)" font-size="46.50" fill="#000">40</text>
<text transform="translate(-2.05,41.00) scale(1.0000,1)" font-size="59.00" fill="#000">(a)</text>
<text transform="translate(642.94,41.00) scale(1.0013,1)" font-size="59.00" fill="#000">(b)</text>
<text transform="translate(45.20,623.80) rotate(-90) scale(0.9965,1)" font-size="54.50" fill="#000">Intensity (a.u.)</text>
<text transform="translate(695.20,630.90) rotate(-90) scale(0.9977,1)" font-size="54.50" fill="#000">Intensity (a.u.)</text>
<text transform="translate(292.22,1062.90) scale(1.0642,1)" font-size="55.91" fill="#000">2</text>
<text transform="translate(324.39,1062.95) scale(1.2143,1)" font-size="54.51" font-style="italic" fill="#000">θ</text>
<text stroke="#000" stroke-width="0.79" transform="translate(362.70,1062.45) scale(1.1389,1)" font-size="51.65" fill="#000">(</text>
<text transform="translate(380.36,1040.72) scale(1.0062,1)" font-size="38.33" fill="#000">o</text>
<text stroke="#000" stroke-width="0.82" transform="translate(398.85,1062.42) scale(1.0924,1)" font-size="51.76" fill="#000">)</text>
<text transform="translate(943.22,1064.80) scale(1.0642,1)" font-size="55.91" fill="#000">2</text>
<text transform="translate(975.39,1064.85) scale(1.2143,1)" font-size="54.51" font-style="italic" fill="#000">θ</text>
<text stroke="#000" stroke-width="0.79" transform="translate(1013.70,1064.35) scale(1.1389,1)" font-size="51.65" fill="#000">(</text>
<text transform="translate(1031.36,1042.62) scale(1.0062,1)" font-size="38.33" fill="#000">o</text>
<text stroke="#000" stroke-width="0.82" transform="translate(1049.85,1064.32) scale(1.0924,1)" font-size="51.76" fill="#000">)</text>
<line x1="256.1" y1="104.4" x2="334.9" y2="104.4" stroke="#086cae" stroke-width="4.8"/>
<text transform="translate(339.42,117.00) scale(0.9554,1)" font-size="39.20" fill="#086cae">12h UV irradiation</text>
<line x1="272.4" y1="274.4" x2="351.5" y2="274.4" stroke="#af77de" stroke-width="4.8"/>
<text transform="translate(357.24,286.90) scale(0.9619,1)" font-size="39.20" fill="#af77de">5h UV irradiation</text>
<line x1="273.0" y1="418.5" x2="351.9" y2="418.5" stroke="#36ad6b" stroke-width="4.8"/>
<text transform="translate(357.80,430.70) scale(0.9620,1)" font-size="39.20" fill="#36ad6b">3h UV irradiation</text>
<line x1="274.5" y1="574.4" x2="352.9" y2="574.4" stroke="#1c70e0" stroke-width="4.8"/>
<text transform="translate(360.62,586.70) scale(0.9554,1)" font-size="39.20" fill="#1c70e0">1h UV irradiation</text>
<line x1="310.4" y1="720.5" x2="389.0" y2="720.5" stroke="#ee3e3f" stroke-width="4.8"/>
<text transform="translate(393.62,732.70) scale(0.9622,1)" font-size="39.20" fill="#ee3e3f">As-synthesized</text>
<line x1="392.3" y1="847.5" x2="471.0" y2="847.5" stroke="#505050" stroke-width="4.8"/>
<text transform="translate(473.45,859.70) scale(0.9614,1)" font-size="39.20" fill="#555555">Simulated</text>
<line x1="1060.1" y1="98.4" x2="1138.8" y2="98.4" stroke="#af77de" stroke-width="4.8"/>
<text transform="translate(1145.87,111.80) scale(0.9636,1)" font-size="39.20" fill="#af77de">95% RH</text>
<line x1="1060.1" y1="294.4" x2="1139.2" y2="294.4" stroke="#36ad6b" stroke-width="4.8"/>
<text transform="translate(1144.53,306.60) scale(0.9714,1)" font-size="39.20" fill="#36ad6b">75% RH</text>
<line x1="1060.1" y1="463.4" x2="1139.2" y2="463.4" stroke="#1c70e0" stroke-width="4.8"/>
<text transform="translate(1144.72,476.60) scale(0.9699,1)" font-size="39.20" fill="#1c70e0">55% RH</text>
<line x1="962.5" y1="640.0" x2="1040.8" y2="640.0" stroke="#ee3e3f" stroke-width="4.8"/>
<text transform="translate(1046.12,652.60) scale(0.9601,1)" font-size="39.20" fill="#ee3e3f">As-synthesized</text>
<line x1="1041.5" y1="810.5" x2="1119.7" y2="810.5" stroke="#505050" stroke-width="4.8"/>
<text transform="translate(1122.87,822.70) scale(0.9537,1)" font-size="39.20" fill="#555555">Simulated</text>
</svg>
</body></html>
